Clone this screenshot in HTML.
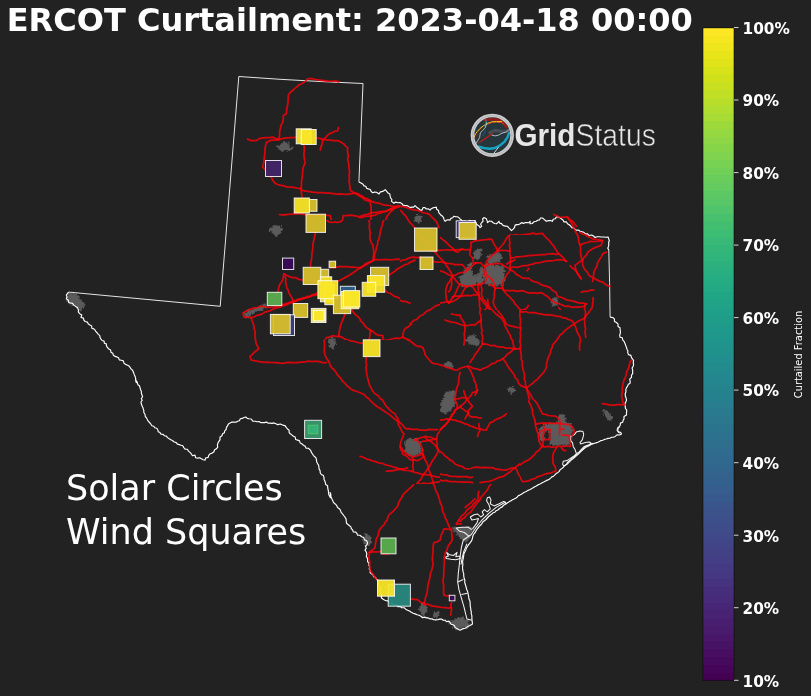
<!DOCTYPE html>
<html><head><meta charset="utf-8"><title>ERCOT Curtailment</title><style>html,body{margin:0;padding:0;background:#222222;}body{width:811px;height:696px;overflow:hidden}</style></head><body>
<svg width="811" height="696" viewBox="0 0 811 696" style="display:block">
<defs><linearGradient id="vir" x1="0" y1="1" x2="0" y2="0">
<stop offset="0%" stop-color="#440154"/>
<stop offset="10%" stop-color="#482475"/>
<stop offset="20%" stop-color="#414487"/>
<stop offset="30%" stop-color="#355f8d"/>
<stop offset="40%" stop-color="#2a788e"/>
<stop offset="50%" stop-color="#21918c"/>
<stop offset="60%" stop-color="#22a884"/>
<stop offset="70%" stop-color="#44bf70"/>
<stop offset="80%" stop-color="#7ad151"/>
<stop offset="90%" stop-color="#bddf26"/>
<stop offset="100%" stop-color="#fde725"/>
</linearGradient></defs>
<rect width="811" height="696" fill="#222222"/>
<g fill="#5b5b5b" stroke="none">
<path d="M289.1 146.9 L291.3 148.9 L289.1 150.3 L285.8 149.9 L283.4 150.5 L281.2 149.7 L278.9 148.7 L277.7 146.9 L280.9 145.7 L282.3 144.9 L283.1 142.3 L286.0 143.4 L289.1 143.4 L288.2 145.8Z"/>
<path d="M287.7 145.5h2.0v1.2h-2.0zM288.5 144.4h1.2v1.6h-1.2zM287.4 148.3h1.6v1.6h-1.6zM288.6 142.2h0.9v1.6h-0.9zM280.2 148.9h1.2v1.6h-1.2zM278.4 145.9h0.9v0.9h-0.9zM287.8 141.2h0.9v1.6h-0.9zM279.3 146.6h0.9v0.9h-0.9zM281.6 143.5h2.0v0.9h-2.0zM290.1 147.9h2.0v0.9h-2.0zM281.3 148.3h1.2v1.6h-1.2zM279.7 145.0h2.0v1.2h-2.0zM282.6 144.8h0.9v1.6h-0.9zM284.4 142.7h1.2v0.9h-1.2zM291.4 146.7h2.0v1.6h-2.0zM280.9 143.2h2.0v1.6h-2.0zM280.2 147.4h1.6v0.9h-1.6zM278.0 148.7h1.2v0.9h-1.2zM290.5 148.1h1.2v1.2h-1.2zM277.6 147.0h1.2v0.9h-1.2zM289.1 145.4h0.9v0.9h-0.9zM288.1 148.7h2.0v0.9h-2.0zM279.5 149.1h1.2v0.9h-1.2zM286.3 144.0h0.9v1.6h-0.9zM277.8 146.5h0.9v1.6h-0.9zM282.6 150.3h0.9v1.6h-0.9zM288.3 149.5h2.0v1.6h-2.0zM286.6 150.9h1.2v0.9h-1.2zM280.7 149.9h1.2v0.9h-1.2zM280.4 144.3h1.6v1.6h-1.6zM279.6 148.3h0.9v1.2h-0.9zM285.6 141.9h1.2v0.9h-1.2zM287.0 145.4h1.6v1.6h-1.6zM285.0 142.9h2.0v1.6h-2.0zM291.0 149.1h1.2v0.9h-1.2zM283.1 141.2h2.0v0.9h-2.0zM276.1 146.1h0.9v0.9h-0.9zM276.6 145.2h2.0v1.6h-2.0zM282.8 141.7h1.6v1.2h-1.6zM291.3 146.7h1.2v1.6h-1.2zM285.7 142.4h0.9v1.2h-0.9zM284.0 142.0h0.9v1.6h-0.9zM281.6 145.6h1.2v1.2h-1.2zM281.3 150.0h2.0v1.6h-2.0zM292.1 147.6h0.9v1.2h-0.9zM287.0 148.5h0.9v0.9h-0.9zM281.2 149.2h1.6v1.6h-1.6z"/>
<path d="M280.3 230.4 L280.9 232.2 L278.9 233.3 L277.0 234.7 L274.3 234.8 L273.2 232.6 L272.3 231.6 L268.7 230.4 L271.5 228.9 L272.8 227.8 L274.0 225.0 L276.9 226.4 L280.0 226.4 L280.7 228.6Z"/>
<path d="M277.5 233.2h0.9v1.2h-0.9zM279.0 225.7h0.9v1.2h-0.9zM279.6 231.9h0.9v1.6h-0.9zM269.3 228.4h0.9v1.2h-0.9zM279.2 229.5h2.0v1.6h-2.0zM273.3 233.2h2.0v1.2h-2.0zM270.8 228.6h2.0v1.2h-2.0zM281.7 229.8h0.9v0.9h-0.9zM276.3 225.3h1.6v1.6h-1.6zM278.8 225.6h1.2v1.2h-1.2zM273.8 231.7h2.0v1.6h-2.0zM279.7 229.3h2.0v1.6h-2.0zM278.4 232.5h1.6v0.9h-1.6zM269.9 229.1h2.0v1.2h-2.0zM269.1 228.6h2.0v1.6h-2.0zM278.0 232.9h1.2v1.6h-1.2zM279.1 229.4h1.6v1.2h-1.6zM271.6 231.7h2.0v1.6h-2.0zM270.5 227.4h2.0v0.9h-2.0zM269.6 228.3h2.0v1.2h-2.0zM279.2 229.5h1.6v1.2h-1.6zM272.3 227.7h1.2v0.9h-1.2zM281.0 225.3h0.9v1.6h-0.9zM280.1 231.9h1.6v0.9h-1.6zM273.2 233.6h0.9v0.9h-0.9zM278.7 232.7h1.6v1.2h-1.6zM276.7 225.9h2.0v1.2h-2.0zM268.8 230.4h1.2v1.6h-1.2zM268.9 230.2h1.2v0.9h-1.2zM278.0 225.9h2.0v1.6h-2.0zM281.0 228.3h2.0v0.9h-2.0zM270.7 228.0h1.6v1.6h-1.6zM274.6 224.7h1.2v0.9h-1.2zM275.0 234.6h1.6v1.6h-1.6zM277.7 233.2h0.9v1.6h-0.9zM280.9 227.9h0.9v1.2h-0.9zM275.4 235.1h2.0v1.6h-2.0zM275.4 234.0h2.0v0.9h-2.0zM271.6 231.9h1.2v0.9h-1.2zM281.1 228.5h1.6v1.2h-1.6zM276.1 234.4h1.6v1.6h-1.6zM272.3 227.8h0.9v0.9h-0.9zM278.2 232.5h1.6v1.6h-1.6zM271.3 228.0h1.6v0.9h-1.6zM279.5 228.6h2.0v0.9h-2.0zM273.2 225.8h0.9v1.2h-0.9zM280.1 229.9h0.9v1.6h-0.9zM272.4 225.5h1.2v1.6h-1.2zM278.1 233.2h0.9v1.2h-0.9zM274.4 234.3h0.9v0.9h-0.9z"/>
<path d="M245.5 314.6 L248.0 311.6 L253.8 309.1 L260.0 306.4 L264.5 305.1 L265.0 307.6 L261.5 309.6 L258.0 309.6 L253.8 312.1 L249.0 314.6 L247.0 317.1Z"/>
<path d="M244.6 314.1h1.6v1.2h-1.6zM248.8 314.6h2.0v1.6h-2.0zM258.5 308.1h1.6v1.6h-1.6zM256.4 309.3h1.6v1.2h-1.6zM259.8 309.4h1.2v1.6h-1.2zM255.4 307.8h1.2v1.6h-1.2zM250.0 312.3h2.0v1.2h-2.0zM248.8 312.4h1.6v1.2h-1.6zM256.4 307.9h2.0v1.6h-2.0zM251.6 312.9h1.6v1.6h-1.6zM252.2 311.5h2.0v1.2h-2.0zM245.5 316.9h1.2v1.6h-1.2zM263.3 306.5h2.0v1.2h-2.0zM261.0 306.0h0.9v1.2h-0.9zM247.8 312.3h0.9v1.6h-0.9zM245.5 315.5h0.9v1.6h-0.9zM258.7 306.7h0.9v1.2h-0.9zM244.8 314.5h0.9v0.9h-0.9zM254.3 308.8h0.9v1.2h-0.9zM265.4 304.3h0.9v1.2h-0.9zM248.9 314.2h0.9v0.9h-0.9zM260.0 307.9h1.6v1.2h-1.6zM256.2 309.5h0.9v1.2h-0.9zM257.7 308.3h1.2v0.9h-1.2zM245.5 314.5h1.2v1.6h-1.2zM245.9 316.0h1.6v1.2h-1.6zM264.1 305.9h1.2v1.6h-1.2zM245.5 313.4h2.0v1.6h-2.0zM263.6 305.1h1.2v0.9h-1.2zM257.4 309.5h1.6v1.2h-1.6zM245.9 315.4h0.9v1.2h-0.9zM260.2 309.1h0.9v0.9h-0.9zM245.0 314.0h2.0v1.2h-2.0zM263.3 306.5h1.2v1.6h-1.2zM260.1 309.0h2.0v1.6h-2.0zM249.1 315.4h1.6v0.9h-1.6zM249.0 314.4h1.6v1.2h-1.6zM246.8 311.4h1.2v1.6h-1.2zM247.6 312.1h2.0v0.9h-2.0zM247.2 315.4h1.6v1.6h-1.6zM248.1 310.5h1.6v1.2h-1.6zM255.7 310.9h1.6v0.9h-1.6zM248.6 309.7h1.2v1.6h-1.2zM246.4 309.8h2.0v1.2h-2.0zM261.2 309.3h2.0v1.6h-2.0zM253.9 309.8h2.0v1.6h-2.0zM264.3 306.2h2.0v1.6h-2.0zM246.6 315.6h0.9v0.9h-0.9zM262.6 307.1h0.9v0.9h-0.9zM244.5 313.7h1.6v1.2h-1.6zM263.2 304.2h1.2v1.6h-1.2zM261.7 304.4h2.0v0.9h-2.0zM262.5 307.4h1.2v1.2h-1.2zM262.7 305.2h1.2v1.2h-1.2zM254.7 310.1h1.2v1.2h-1.2zM252.4 312.1h2.0v1.6h-2.0zM246.6 315.0h0.9v1.6h-0.9zM262.0 306.3h2.0v1.6h-2.0zM243.6 312.6h2.0v1.6h-2.0zM259.8 306.6h2.0v0.9h-2.0zM248.1 309.3h1.6v1.6h-1.6zM246.3 315.3h0.9v1.6h-0.9zM245.3 316.3h2.0v1.6h-2.0zM263.5 303.6h2.0v1.6h-2.0zM245.3 314.0h1.6v1.2h-1.6zM261.9 307.4h1.6v0.9h-1.6zM259.0 308.1h1.2v0.9h-1.2zM257.5 307.2h1.2v0.9h-1.2zM264.6 305.5h2.0v1.6h-2.0zM256.1 308.7h1.2v1.2h-1.2zM249.4 313.9h1.6v1.2h-1.6zM262.1 307.0h2.0v1.6h-2.0zM250.6 310.6h1.2v1.6h-1.2zM248.2 316.6h1.2v1.6h-1.2zM264.5 305.4h2.0v1.2h-2.0zM261.7 305.8h1.2v1.2h-1.2zM252.9 311.1h2.0v1.6h-2.0zM263.5 304.9h1.2v1.2h-1.2zM263.1 304.5h1.2v0.9h-1.2zM259.7 305.2h1.6v1.2h-1.6zM246.3 313.3h2.0v1.6h-2.0zM246.1 314.5h0.9v1.2h-0.9zM264.9 307.3h1.6v1.2h-1.6zM257.3 309.1h2.0v0.9h-2.0zM244.9 314.1h2.0v0.9h-2.0zM251.9 311.4h1.6v1.2h-1.6zM244.3 314.8h2.0v0.9h-2.0zM257.7 306.7h1.6v1.2h-1.6zM249.6 310.7h0.9v1.2h-0.9zM261.0 307.4h1.2v0.9h-1.2zM259.4 309.7h0.9v1.2h-0.9zM244.8 314.1h0.9v1.2h-0.9zM256.2 309.3h0.9v1.6h-0.9zM252.6 312.8h2.0v0.9h-2.0zM257.6 309.3h2.0v1.6h-2.0zM254.8 307.9h1.2v0.9h-1.2z"/>
<path d="M335.4 342.7 L335.3 344.6 L334.4 346.2 L332.9 347.4 L331.2 346.9 L329.5 346.5 L330.1 343.7 L328.9 342.7 L328.3 340.5 L329.8 339.4 L331.1 338.0 L332.5 340.0 L333.9 339.8 L334.3 341.3Z"/>
<path d="M332.1 347.6h2.0v1.6h-2.0zM330.7 338.6h1.6v1.6h-1.6zM331.4 345.8h2.0v1.2h-2.0zM331.4 339.4h2.0v1.6h-2.0zM336.1 343.9h0.9v1.2h-0.9zM333.5 338.4h2.0v1.6h-2.0zM332.2 341.6h2.0v0.9h-2.0zM328.9 345.8h2.0v1.6h-2.0zM333.1 340.9h1.6v1.6h-1.6zM330.0 338.9h0.9v1.2h-0.9zM331.1 339.0h0.9v1.6h-0.9zM331.1 337.0h1.6v0.9h-1.6zM333.5 344.2h1.6v0.9h-1.6zM328.9 342.4h2.0v0.9h-2.0zM334.6 342.2h1.6v1.6h-1.6zM330.6 346.2h0.9v0.9h-0.9zM331.7 337.2h1.6v1.6h-1.6zM331.7 346.7h1.6v1.2h-1.6zM331.4 347.1h2.0v1.6h-2.0zM333.1 341.1h1.6v1.2h-1.6zM331.4 339.3h1.6v1.6h-1.6zM330.3 346.3h1.6v0.9h-1.6zM328.4 342.3h1.6v1.2h-1.6zM328.2 345.2h2.0v0.9h-2.0zM328.2 336.7h1.6v1.6h-1.6zM327.8 341.1h1.2v1.2h-1.2zM332.5 339.5h2.0v0.9h-2.0zM334.8 340.2h1.2v1.2h-1.2zM328.2 338.9h1.2v1.6h-1.2z"/>
<path d="M474.0 252.3 L477.1 250.1 L479.8 248.8 L480.5 253.5 L479.6 258.5 L476.5 259.7 L474.0 257.2Z"/>
<path d="M477.3 248.4h0.9v0.9h-0.9zM476.0 250.3h0.9v0.9h-0.9zM477.4 259.0h0.9v1.2h-0.9zM480.0 248.5h1.6v1.2h-1.6zM476.3 251.0h1.6v0.9h-1.6zM472.9 253.0h1.2v0.9h-1.2zM480.9 254.0h1.6v0.9h-1.6zM480.8 249.9h1.2v1.2h-1.2zM478.7 256.1h1.6v1.2h-1.6zM474.0 252.9h1.6v1.6h-1.6zM476.8 258.4h1.2v0.9h-1.2zM478.5 256.8h1.2v1.2h-1.2zM478.6 257.7h1.6v0.9h-1.6zM473.6 257.8h1.2v0.9h-1.2zM479.6 252.6h1.6v1.6h-1.6zM477.2 249.5h1.6v0.9h-1.6zM480.4 249.1h2.0v1.6h-2.0zM473.3 257.6h2.0v1.2h-2.0zM476.9 248.9h0.9v1.2h-0.9zM473.6 251.6h1.6v1.6h-1.6zM475.4 252.6h0.9v0.9h-0.9zM474.2 252.4h1.2v1.6h-1.2zM474.6 250.3h0.9v0.9h-0.9zM473.5 253.2h1.2v1.2h-1.2zM476.6 249.3h2.0v1.2h-2.0zM477.7 249.1h1.2v0.9h-1.2zM474.2 251.7h1.2v1.2h-1.2zM472.4 256.7h1.6v1.6h-1.6zM475.2 250.5h0.9v1.2h-0.9zM480.2 255.0h1.2v1.2h-1.2zM479.6 250.0h2.0v1.6h-2.0z"/>
<path d="M487.6 256.6 L491.9 255.4 L496.2 253.3 L500.6 254.5 L501.2 258.5 L498.1 261.6 L493.2 262.8 L488.8 262.8Z"/>
<path d="M499.0 258.3h0.9v1.2h-0.9zM500.3 256.4h2.0v0.9h-2.0zM490.1 262.2h1.2v1.2h-1.2zM500.7 258.0h0.9v0.9h-0.9zM489.7 261.6h1.2v0.9h-1.2zM498.9 255.9h1.2v0.9h-1.2zM500.9 257.3h1.6v1.2h-1.6zM499.8 254.4h0.9v1.6h-0.9zM496.5 261.7h1.6v0.9h-1.6zM488.1 259.6h0.9v1.6h-0.9zM494.5 262.2h1.6v1.2h-1.6zM488.7 254.5h1.2v0.9h-1.2zM501.0 257.1h1.6v1.6h-1.6zM499.0 261.1h1.6v1.2h-1.6zM489.2 255.6h1.6v0.9h-1.6zM495.8 261.0h1.6v1.2h-1.6zM498.0 252.8h1.6v1.2h-1.6zM499.3 254.3h2.0v0.9h-2.0zM499.7 257.5h2.0v0.9h-2.0zM490.1 253.9h1.6v0.9h-1.6zM499.1 253.9h2.0v0.9h-2.0zM498.2 254.6h1.6v0.9h-1.6zM486.3 256.2h2.0v1.2h-2.0zM494.9 262.5h1.2v0.9h-1.2zM488.1 262.1h2.0v1.2h-2.0zM495.6 254.3h1.6v0.9h-1.6zM493.2 260.5h1.6v1.6h-1.6zM497.6 262.7h1.6v1.2h-1.6zM499.0 253.5h1.6v1.2h-1.6zM499.4 258.3h1.6v1.2h-1.6zM498.3 258.5h1.6v0.9h-1.6zM487.9 256.1h1.2v0.9h-1.2zM491.2 262.5h2.0v0.9h-2.0zM489.5 261.5h1.6v1.6h-1.6zM486.9 255.4h1.2v0.9h-1.2zM499.2 253.9h1.2v0.9h-1.2zM492.1 256.4h2.0v0.9h-2.0zM488.2 256.3h0.9v1.6h-0.9zM499.7 254.9h2.0v1.2h-2.0zM488.6 261.1h0.9v1.6h-0.9zM499.4 258.0h1.6v1.2h-1.6zM497.7 252.2h1.6v1.2h-1.6zM495.6 253.6h1.2v0.9h-1.2zM493.0 254.0h0.9v1.2h-0.9zM497.4 252.4h2.0v1.2h-2.0zM498.6 256.2h2.0v0.9h-2.0zM498.3 260.8h0.9v1.2h-0.9zM499.0 260.1h0.9v1.6h-0.9zM487.9 261.0h2.0v0.9h-2.0zM487.4 260.9h0.9v0.9h-0.9zM489.0 262.5h1.6v1.2h-1.6zM488.8 257.9h0.9v0.9h-0.9zM496.0 252.7h1.6v1.6h-1.6zM488.1 256.6h1.2v0.9h-1.2z"/>
<path d="M459.8 278.3 L462.9 275.8 L464.7 272.1 L469.0 265.7 L471.5 264.0 L470.9 272.1 L470.3 275.8 L475.8 276.4 L480.2 273.9 L481.4 269.0 L482.6 267.4 L483.3 272.1 L482.0 277.0 L482.6 282.0 L479.6 284.4 L477.1 282.0 L474.6 283.8 L470.9 285.7 L467.8 284.4 L466.0 286.7 L462.2 284.4 L461.0 282.6Z"/>
<path d="M465.2 285.9h0.9v0.9h-0.9zM460.8 279.3h1.6v0.9h-1.6zM480.8 272.6h0.9v0.9h-0.9zM466.5 284.5h0.9v1.2h-0.9zM481.9 272.1h1.6v1.2h-1.6zM470.0 262.6h0.9v0.9h-0.9zM466.0 284.4h2.0v0.9h-2.0zM473.7 283.8h0.9v1.6h-0.9zM481.8 273.2h0.9v0.9h-0.9zM470.2 284.8h1.6v1.2h-1.6zM472.1 276.6h0.9v0.9h-0.9zM469.2 273.0h1.6v1.2h-1.6zM481.1 280.4h2.0v0.9h-2.0zM469.6 272.4h2.0v0.9h-2.0zM466.8 264.3h2.0v1.2h-2.0zM464.7 268.5h2.0v0.9h-2.0zM473.7 276.7h1.2v0.9h-1.2zM460.8 277.8h1.2v1.2h-1.2zM472.5 283.8h2.0v1.2h-2.0zM462.2 284.4h2.0v0.9h-2.0zM480.9 278.0h1.6v1.6h-1.6zM470.2 274.7h1.6v1.2h-1.6zM459.5 283.0h1.6v1.6h-1.6zM461.8 275.8h0.9v1.6h-0.9zM483.8 272.8h0.9v0.9h-0.9zM469.3 270.7h2.0v0.9h-2.0zM474.5 283.1h1.2v1.6h-1.2zM482.0 267.4h0.9v0.9h-0.9zM461.2 282.5h0.9v1.6h-0.9zM469.9 284.4h1.6v1.6h-1.6zM478.9 282.8h1.2v1.2h-1.2zM474.1 283.0h0.9v1.2h-0.9zM482.4 272.8h1.6v1.2h-1.6zM479.3 269.1h0.9v1.6h-0.9zM464.9 269.3h0.9v1.6h-0.9zM472.0 272.9h1.2v1.6h-1.2zM482.3 282.8h0.9v1.2h-0.9zM469.8 283.9h1.2v0.9h-1.2zM483.0 274.4h1.2v0.9h-1.2zM480.2 267.3h1.2v0.9h-1.2zM466.5 286.5h1.6v0.9h-1.6zM468.8 283.4h1.2v1.2h-1.2zM483.3 278.9h1.2v1.6h-1.2zM478.3 273.6h1.2v0.9h-1.2zM470.2 274.4h0.9v0.9h-0.9zM475.7 283.4h0.9v1.6h-0.9zM482.1 274.8h2.0v0.9h-2.0zM466.4 285.1h0.9v1.6h-0.9zM466.3 286.9h0.9v0.9h-0.9zM471.0 270.8h2.0v1.6h-2.0zM481.3 269.4h1.2v1.2h-1.2zM465.7 283.5h1.6v1.6h-1.6zM466.3 267.3h0.9v0.9h-0.9zM460.2 276.1h0.9v1.2h-0.9zM470.0 264.5h2.0v1.2h-2.0zM466.6 266.7h1.2v1.2h-1.2zM470.1 284.5h2.0v1.6h-2.0zM471.1 284.5h1.2v1.2h-1.2zM461.4 275.1h0.9v0.9h-0.9zM473.5 284.0h2.0v1.6h-2.0zM465.9 284.5h2.0v0.9h-2.0zM477.0 281.1h1.6v1.2h-1.6zM469.7 265.3h1.2v0.9h-1.2zM480.1 268.5h1.2v1.6h-1.2zM463.8 270.7h1.2v1.6h-1.2zM463.2 272.3h1.6v1.2h-1.6zM466.5 285.9h0.9v1.2h-0.9zM470.0 263.0h1.2v1.6h-1.2zM473.2 282.3h0.9v0.9h-0.9zM459.6 279.6h1.2v0.9h-1.2zM470.4 272.8h2.0v1.6h-2.0zM471.6 265.3h1.2v1.6h-1.2zM483.0 274.9h0.9v1.2h-0.9zM458.4 276.8h2.0v1.2h-2.0zM462.4 275.1h1.6v0.9h-1.6zM482.1 271.2h2.0v1.6h-2.0zM483.5 279.9h1.2v0.9h-1.2zM479.5 281.5h1.2v1.6h-1.2zM469.2 284.5h1.2v1.6h-1.2zM469.8 274.1h1.6v1.2h-1.6zM468.2 285.0h0.9v1.6h-0.9zM477.7 273.9h2.0v1.6h-2.0zM469.9 284.0h1.2v1.6h-1.2zM480.7 268.5h1.6v1.6h-1.6zM482.4 271.5h0.9v1.2h-0.9zM467.6 285.9h1.2v1.2h-1.2zM481.8 280.5h0.9v1.2h-0.9zM462.3 272.4h1.6v0.9h-1.6zM461.3 282.2h1.6v1.6h-1.6zM479.3 271.4h1.6v0.9h-1.6zM468.0 282.9h0.9v1.6h-0.9zM472.5 282.8h0.9v1.6h-0.9zM468.1 265.1h1.6v1.2h-1.6zM458.8 276.6h2.0v1.6h-2.0zM466.9 267.6h1.6v1.2h-1.6zM479.4 273.4h2.0v0.9h-2.0zM477.8 272.8h0.9v0.9h-0.9zM480.4 269.7h2.0v1.2h-2.0zM475.8 280.6h1.2v0.9h-1.2zM470.4 262.4h2.0v1.6h-2.0zM473.9 282.7h2.0v0.9h-2.0zM469.8 275.1h2.0v0.9h-2.0zM465.5 284.0h1.2v1.6h-1.2zM477.9 274.2h0.9v1.6h-0.9zM463.1 272.6h1.6v1.2h-1.6zM480.7 277.8h0.9v1.2h-0.9zM460.2 283.9h2.0v0.9h-2.0zM468.5 263.8h2.0v1.6h-2.0zM477.3 282.4h2.0v0.9h-2.0zM469.0 264.0h0.9v1.6h-0.9zM472.5 284.2h1.2v1.2h-1.2zM469.5 284.6h1.6v1.6h-1.6zM476.2 274.0h1.6v1.2h-1.6zM482.3 275.2h1.6v0.9h-1.6zM474.3 283.2h1.2v0.9h-1.2zM463.0 272.2h2.0v1.2h-2.0zM482.1 271.4h1.2v0.9h-1.2zM469.9 277.5h2.0v0.9h-2.0zM482.6 275.0h1.6v0.9h-1.6zM470.5 285.6h0.9v1.6h-0.9zM482.0 283.0h0.9v1.6h-0.9zM463.7 269.6h0.9v1.6h-0.9zM467.8 284.8h1.2v1.2h-1.2zM473.8 275.7h1.6v0.9h-1.6zM468.4 284.6h1.6v0.9h-1.6zM481.5 279.3h2.0v1.6h-2.0zM463.5 283.0h0.9v1.2h-0.9zM463.7 282.8h1.2v1.6h-1.2zM480.5 266.8h2.0v0.9h-2.0zM471.4 274.4h0.9v1.6h-0.9zM481.3 269.2h2.0v1.2h-2.0zM470.2 267.6h1.2v1.6h-1.2zM477.8 282.7h0.9v0.9h-0.9zM467.6 283.6h1.6v0.9h-1.6zM469.6 285.5h1.2v1.2h-1.2zM467.8 283.5h1.2v1.2h-1.2zM461.0 282.4h1.6v0.9h-1.6zM466.8 285.3h1.2v0.9h-1.2zM466.7 268.2h1.6v0.9h-1.6zM465.2 286.4h0.9v0.9h-0.9zM470.6 273.0h1.2v1.2h-1.2zM469.6 272.1h1.2v0.9h-1.2zM465.1 270.0h0.9v0.9h-0.9zM469.6 285.6h1.2v1.2h-1.2zM465.2 285.9h2.0v1.6h-2.0zM468.6 286.0h0.9v1.2h-0.9zM460.3 280.2h1.6v1.6h-1.6zM462.7 285.3h0.9v0.9h-0.9zM473.2 275.3h0.9v1.2h-0.9zM462.0 283.7h1.6v1.2h-1.6zM464.5 285.6h2.0v1.6h-2.0zM461.4 282.6h1.2v1.2h-1.2zM481.0 278.4h1.2v0.9h-1.2zM460.9 282.7h1.6v1.6h-1.6zM466.5 284.3h1.6v0.9h-1.6zM460.6 281.3h1.6v1.2h-1.6zM482.2 278.3h1.6v0.9h-1.6zM470.3 263.7h1.2v1.2h-1.2zM472.6 284.7h0.9v0.9h-0.9zM469.9 264.9h0.9v1.2h-0.9zM462.9 274.9h1.2v0.9h-1.2zM477.6 273.1h0.9v1.6h-0.9zM480.8 270.7h1.6v1.6h-1.6zM461.0 280.7h1.2v1.6h-1.2zM480.3 281.5h1.6v1.6h-1.6zM474.0 281.5h0.9v1.6h-0.9zM481.8 267.7h1.2v1.6h-1.2zM460.9 275.5h1.2v1.2h-1.2zM460.6 284.3h1.2v1.2h-1.2zM468.9 264.8h1.2v0.9h-1.2zM479.3 282.9h0.9v1.6h-0.9zM461.5 276.6h0.9v0.9h-0.9zM479.5 272.3h1.6v1.6h-1.6zM467.0 284.8h0.9v0.9h-0.9zM477.3 283.4h2.0v1.2h-2.0zM471.3 268.1h0.9v0.9h-0.9zM481.8 272.1h1.2v1.2h-1.2zM473.7 276.7h1.2v1.6h-1.2zM471.6 265.5h1.2v1.2h-1.2zM460.4 283.0h0.9v1.6h-0.9zM469.8 264.5h2.0v1.2h-2.0zM475.7 275.7h1.2v0.9h-1.2zM479.1 284.1h1.2v0.9h-1.2zM472.1 275.3h0.9v1.6h-0.9zM470.0 284.3h1.6v0.9h-1.6zM470.7 264.0h1.2v1.6h-1.2zM469.7 272.8h2.0v1.2h-2.0zM478.4 273.9h0.9v0.9h-0.9zM481.8 281.5h0.9v0.9h-0.9zM483.5 271.3h0.9v1.2h-0.9zM469.2 284.1h1.2v0.9h-1.2zM475.5 275.4h1.6v1.6h-1.6zM479.5 282.4h1.6v0.9h-1.6zM480.0 271.7h1.2v1.6h-1.2zM483.5 268.8h0.9v1.6h-0.9zM482.6 279.3h1.6v0.9h-1.6zM480.3 272.2h1.6v0.9h-1.6zM478.8 282.5h1.6v0.9h-1.6zM478.4 274.8h2.0v0.9h-2.0zM477.5 283.1h1.2v0.9h-1.2zM470.5 285.7h2.0v1.6h-2.0zM468.0 275.5h1.6v0.9h-1.6zM462.3 284.0h0.9v0.9h-0.9zM462.1 276.0h1.2v0.9h-1.2zM461.3 285.3h2.0v1.6h-2.0zM481.3 269.7h0.9v1.6h-0.9zM474.0 274.5h2.0v1.2h-2.0zM480.3 271.0h1.2v0.9h-1.2zM462.4 285.1h2.0v1.6h-2.0zM464.3 271.7h1.2v1.2h-1.2zM475.2 276.3h1.2v1.2h-1.2zM465.1 285.6h0.9v1.2h-0.9zM479.2 281.0h1.2v1.2h-1.2zM475.6 283.7h0.9v1.6h-0.9zM480.8 275.2h1.2v1.6h-1.2z"/>
<path d="M485.7 264.7 L491.9 264.0 L495.0 267.4 L498.1 265.3 L501.8 267.8 L504.3 270.8 L502.8 273.3 L503.3 276.4 L504.3 280.7 L501.8 282.6 L499.3 284.4 L494.4 285.1 L492.5 282.6 L489.4 284.4 L485.7 282.0 L487.0 278.3 L483.9 277.0 L485.1 270.8Z"/>
<path d="M494.0 284.6h0.9v1.2h-0.9zM493.8 267.0h2.0v0.9h-2.0zM501.6 277.0h0.9v0.9h-0.9zM491.5 266.5h0.9v1.6h-0.9zM502.0 268.2h1.6v1.6h-1.6zM503.2 270.1h0.9v1.6h-0.9zM495.1 265.0h2.0v1.2h-2.0zM485.2 279.2h1.2v1.6h-1.2zM502.3 276.9h1.6v1.6h-1.6zM485.5 280.4h2.0v0.9h-2.0zM497.9 283.8h0.9v1.6h-0.9zM496.1 285.0h2.0v0.9h-2.0zM496.3 264.8h0.9v1.6h-0.9zM500.9 282.9h1.6v1.6h-1.6zM487.9 285.3h1.6v0.9h-1.6zM499.5 266.6h1.2v1.2h-1.2zM488.2 283.5h2.0v1.6h-2.0zM502.0 280.1h1.6v1.6h-1.6zM484.9 280.8h1.2v0.9h-1.2zM494.6 266.8h2.0v1.6h-2.0zM503.9 270.7h1.6v1.6h-1.6zM493.8 283.5h0.9v1.2h-0.9zM484.1 268.2h2.0v0.9h-2.0zM502.1 273.2h1.6v1.6h-1.6zM490.5 263.2h1.6v1.6h-1.6zM485.6 264.8h1.6v1.2h-1.6zM493.2 283.9h2.0v1.2h-2.0zM486.0 278.3h1.6v1.2h-1.6zM503.3 273.6h1.6v0.9h-1.6zM485.3 263.7h0.9v1.6h-0.9zM503.0 280.5h1.2v1.6h-1.2zM484.7 266.1h1.2v0.9h-1.2zM489.6 284.1h1.6v1.6h-1.6zM491.5 262.4h1.2v1.6h-1.2zM495.0 282.6h1.6v0.9h-1.6zM501.7 276.2h2.0v1.6h-2.0zM487.4 262.4h0.9v1.6h-0.9zM500.7 265.8h2.0v0.9h-2.0zM484.8 283.1h2.0v1.2h-2.0zM490.0 283.8h1.2v0.9h-1.2zM501.1 269.0h2.0v1.6h-2.0zM493.5 283.8h0.9v1.6h-0.9zM503.3 267.6h1.2v0.9h-1.2zM501.6 280.5h1.6v1.2h-1.6zM485.8 268.9h1.6v1.2h-1.6zM484.6 273.2h1.2v1.6h-1.2zM483.0 276.6h0.9v0.9h-0.9zM503.3 270.3h0.9v1.2h-0.9zM482.7 273.4h0.9v0.9h-0.9zM502.6 272.8h0.9v0.9h-0.9zM486.6 279.8h1.2v1.6h-1.2zM501.7 280.6h1.2v1.6h-1.2zM484.9 270.8h1.2v1.2h-1.2zM501.7 268.9h1.2v1.2h-1.2zM494.9 266.5h1.2v1.6h-1.2zM495.1 282.5h1.2v1.6h-1.2zM496.6 266.0h1.2v0.9h-1.2zM484.3 281.9h1.6v1.2h-1.6zM497.2 265.2h2.0v1.6h-2.0zM487.0 263.9h0.9v0.9h-0.9zM504.3 280.5h0.9v0.9h-0.9zM502.3 280.1h1.6v1.2h-1.6zM501.4 268.9h1.6v0.9h-1.6zM503.4 279.5h0.9v1.2h-0.9zM489.2 263.5h1.2v0.9h-1.2zM500.4 281.9h2.0v1.2h-2.0zM500.8 265.5h1.2v1.2h-1.2zM492.9 263.6h1.2v1.2h-1.2zM486.2 280.2h0.9v1.2h-0.9zM491.3 262.3h1.2v1.6h-1.2zM484.1 277.5h2.0v1.6h-2.0zM486.1 275.4h1.6v1.6h-1.6zM501.8 277.0h1.2v1.2h-1.2zM491.8 281.9h1.6v1.2h-1.6zM503.0 269.5h1.6v1.6h-1.6zM503.7 278.9h1.6v1.2h-1.6zM488.6 263.5h1.6v0.9h-1.6zM494.2 267.4h0.9v1.2h-0.9zM491.5 283.1h1.2v1.6h-1.2zM486.0 263.6h0.9v1.2h-0.9zM486.8 263.4h1.2v1.6h-1.2zM489.2 282.3h1.6v1.6h-1.6zM501.8 265.6h2.0v1.6h-2.0zM482.7 275.2h0.9v1.6h-0.9zM504.0 276.5h0.9v1.2h-0.9zM485.0 278.5h1.2v1.2h-1.2zM504.2 278.7h0.9v1.6h-0.9zM483.5 275.4h0.9v1.2h-0.9zM503.4 280.2h2.0v1.2h-2.0zM492.4 281.6h0.9v1.6h-0.9zM502.4 273.2h1.6v1.6h-1.6zM502.0 267.2h0.9v1.6h-0.9zM501.9 275.7h2.0v1.2h-2.0zM486.9 278.6h1.6v0.9h-1.6zM484.5 278.0h2.0v1.2h-2.0zM492.0 282.3h0.9v0.9h-0.9zM482.7 275.8h1.6v0.9h-1.6zM494.2 283.5h0.9v0.9h-0.9zM490.7 262.7h1.2v1.2h-1.2zM493.4 284.0h1.6v1.2h-1.6zM492.5 281.6h1.6v1.2h-1.6zM492.6 285.3h0.9v1.2h-0.9zM486.6 281.3h0.9v1.6h-0.9zM500.5 284.7h2.0v1.6h-2.0zM496.5 285.2h0.9v1.6h-0.9zM490.2 283.5h0.9v0.9h-0.9zM487.0 281.6h1.6v1.2h-1.6zM493.3 266.3h2.0v1.2h-2.0zM500.1 280.4h1.6v1.2h-1.6zM502.2 276.6h1.2v1.6h-1.2zM502.1 270.4h1.2v1.2h-1.2zM493.4 284.7h1.2v0.9h-1.2zM494.1 266.2h1.6v1.2h-1.6zM502.2 274.4h2.0v1.6h-2.0zM483.0 276.5h2.0v1.2h-2.0zM492.4 284.3h1.2v0.9h-1.2zM500.2 282.6h2.0v1.2h-2.0zM484.3 264.4h2.0v1.6h-2.0zM484.6 278.8h2.0v1.2h-2.0zM503.7 279.5h0.9v1.6h-0.9zM485.2 281.2h1.2v0.9h-1.2zM493.0 265.8h1.6v1.6h-1.6zM486.5 282.3h1.2v1.2h-1.2zM502.8 280.5h1.6v1.2h-1.6zM499.9 280.4h2.0v1.6h-2.0zM503.8 278.5h1.6v0.9h-1.6zM487.4 263.2h0.9v1.2h-0.9zM504.0 278.2h0.9v1.6h-0.9zM494.8 284.9h0.9v1.2h-0.9zM482.8 276.2h1.2v0.9h-1.2zM485.1 279.7h2.0v1.6h-2.0zM500.7 272.4h0.9v1.6h-0.9zM503.6 270.1h1.2v1.2h-1.2zM493.7 266.4h1.6v1.6h-1.6zM501.8 266.7h1.2v1.6h-1.2zM485.0 272.0h2.0v1.2h-2.0zM496.9 284.3h0.9v1.2h-0.9zM486.8 282.9h1.2v1.2h-1.2zM492.0 284.1h0.9v0.9h-0.9zM484.7 277.2h1.6v1.2h-1.6zM484.6 278.6h2.0v0.9h-2.0zM493.3 282.9h1.6v0.9h-1.6zM497.0 265.4h0.9v1.2h-0.9zM493.9 285.8h0.9v0.9h-0.9zM502.2 275.4h2.0v1.2h-2.0zM486.6 282.3h0.9v1.6h-0.9zM499.1 282.4h1.6v1.2h-1.6zM485.6 279.7h1.2v1.2h-1.2zM503.3 271.1h1.6v0.9h-1.6zM486.3 281.8h0.9v0.9h-0.9zM501.2 265.7h1.2v0.9h-1.2zM501.5 267.6h0.9v1.2h-0.9zM500.2 283.3h1.6v0.9h-1.6zM485.5 280.9h1.2v1.2h-1.2zM496.6 265.7h1.2v1.6h-1.2zM499.9 266.4h2.0v0.9h-2.0zM487.1 278.3h0.9v0.9h-0.9zM502.9 274.1h0.9v1.2h-0.9zM483.9 271.4h0.9v0.9h-0.9zM493.1 284.2h1.2v1.2h-1.2zM493.0 265.0h0.9v1.2h-0.9zM486.6 283.0h1.2v0.9h-1.2zM484.6 276.9h2.0v1.6h-2.0zM483.1 268.8h2.0v1.6h-2.0zM502.7 281.6h0.9v1.2h-0.9zM494.2 283.4h1.6v1.6h-1.6zM500.4 275.1h2.0v0.9h-2.0zM489.1 284.1h1.6v1.2h-1.6zM503.5 270.9h2.0v0.9h-2.0zM492.8 283.1h1.2v1.6h-1.2zM503.0 273.1h1.2v1.2h-1.2zM504.8 270.4h1.6v0.9h-1.6zM491.4 280.8h1.2v1.6h-1.2zM502.5 278.3h2.0v0.9h-2.0z"/>
<path d="M421.2 218.8 L420.7 220.3 L419.6 221.0 L419.0 223.4 L417.7 221.2 L416.2 221.8 L414.5 220.9 L415.9 218.8 L415.2 217.1 L416.0 215.7 L417.7 216.4 L418.8 215.5 L420.4 215.5 L420.9 217.3Z"/>
<path d="M417.7 222.5h0.9v0.9h-0.9zM419.6 221.0h0.9v1.2h-0.9zM414.1 217.6h2.0v0.9h-2.0zM415.4 217.9h2.0v1.2h-2.0zM414.9 218.5h0.9v1.2h-0.9zM417.0 215.6h1.2v1.6h-1.2zM418.5 218.5h1.2v1.6h-1.2zM420.7 220.2h1.2v1.6h-1.2zM415.1 216.6h1.6v1.2h-1.6zM417.9 220.0h1.6v1.6h-1.6zM414.5 219.6h1.2v1.2h-1.2zM418.5 222.4h1.2v1.2h-1.2zM417.2 221.4h0.9v1.2h-0.9zM417.4 219.2h1.2v1.6h-1.2zM415.7 219.6h0.9v0.9h-0.9zM420.5 216.1h2.0v1.2h-2.0zM419.4 217.0h2.0v1.6h-2.0zM415.5 217.8h0.9v0.9h-0.9zM419.5 219.0h1.2v1.6h-1.2zM415.3 217.2h0.9v0.9h-0.9zM413.6 220.3h1.6v1.2h-1.6zM416.0 220.5h0.9v1.6h-0.9zM419.9 220.8h0.9v0.9h-0.9zM415.9 214.1h2.0v0.9h-2.0z"/>
<path d="M557.8 301.7 L557.3 303.1 L556.8 304.6 L555.4 304.4 L554.2 305.9 L552.8 305.1 L552.2 303.4 L552.8 301.7 L552.4 300.1 L553.4 299.3 L554.4 298.9 L555.8 297.2 L557.3 298.0 L556.6 300.7Z"/>
<path d="M552.1 300.7h0.9v1.2h-0.9zM551.9 298.5h0.9v1.6h-0.9zM553.2 302.0h2.0v0.9h-2.0zM556.7 304.3h0.9v1.6h-0.9zM553.5 300.1h1.2v1.6h-1.2zM553.4 305.2h1.6v0.9h-1.6zM552.1 301.8h0.9v1.2h-0.9zM557.0 302.0h1.2v1.2h-1.2zM557.5 297.8h0.9v1.6h-0.9zM553.9 305.4h0.9v0.9h-0.9zM551.7 298.7h1.2v1.2h-1.2zM556.3 303.0h1.2v0.9h-1.2zM554.2 298.3h1.2v1.6h-1.2zM552.0 304.7h2.0v0.9h-2.0zM556.2 304.1h0.9v1.2h-0.9zM555.1 303.5h2.0v0.9h-2.0zM552.9 299.1h0.9v1.2h-0.9zM556.1 303.1h0.9v1.2h-0.9zM553.5 297.6h2.0v1.6h-2.0zM555.8 299.7h0.9v1.2h-0.9zM554.7 297.5h1.6v1.6h-1.6zM551.6 305.6h1.6v0.9h-1.6z"/>
<path d="M557.0 302.0 L556.9 303.4 L556.6 305.2 L555.3 305.0 L554.3 305.1 L553.3 304.6 L553.2 303.1 L552.5 302.0 L552.6 300.5 L553.1 299.1 L554.4 299.8 L555.2 299.4 L555.8 300.3 L557.3 300.4Z"/>
<path d="M552.0 298.5h2.0v1.2h-2.0zM556.2 300.0h2.0v1.2h-2.0zM558.9 302.5h0.9v1.2h-0.9zM555.9 300.6h1.6v1.2h-1.6zM554.9 304.1h1.2v1.2h-1.2zM552.5 298.4h1.2v1.2h-1.2zM552.3 299.0h2.0v1.2h-2.0zM550.6 300.7h1.2v0.9h-1.2zM553.2 302.1h0.9v1.6h-0.9zM555.2 301.3h1.2v0.9h-1.2zM554.2 300.5h1.2v1.2h-1.2zM550.8 301.6h1.2v1.6h-1.2zM552.7 300.1h1.2v1.6h-1.2zM554.6 299.2h1.6v1.2h-1.6z"/>
<path d="M478.7 340.7 L478.8 342.8 L477.1 344.5 L474.1 343.9 L472.3 343.5 L470.0 343.8 L468.9 342.3 L466.3 340.7 L467.4 338.5 L469.4 337.0 L471.9 336.2 L474.6 335.9 L475.8 338.1 L478.0 338.8Z"/>
<path d="M467.1 336.9h2.0v1.6h-2.0zM478.2 340.3h1.2v0.9h-1.2zM467.4 340.0h0.9v1.6h-0.9zM465.2 339.0h1.2v1.6h-1.2zM478.4 341.7h1.2v1.6h-1.2zM477.7 342.5h1.2v1.6h-1.2zM470.8 342.8h2.0v1.6h-2.0zM469.2 342.2h0.9v1.6h-0.9zM471.2 343.4h0.9v1.6h-0.9zM476.1 338.1h0.9v0.9h-0.9zM478.5 341.3h0.9v1.2h-0.9zM465.5 340.1h1.2v1.6h-1.2zM470.5 343.3h2.0v0.9h-2.0zM475.6 344.1h2.0v0.9h-2.0zM472.3 335.6h1.2v1.2h-1.2zM470.5 337.0h0.9v1.2h-0.9zM478.5 339.5h0.9v0.9h-0.9zM476.2 342.9h0.9v0.9h-0.9zM475.6 345.1h1.6v1.2h-1.6zM469.0 342.3h1.2v0.9h-1.2zM469.0 335.6h2.0v1.6h-2.0zM474.1 343.6h1.2v1.6h-1.2zM472.8 343.7h1.2v1.6h-1.2zM465.5 339.9h0.9v0.9h-0.9zM477.7 342.5h2.0v1.2h-2.0zM465.6 339.8h1.2v1.6h-1.2zM477.0 342.5h0.9v1.2h-0.9zM471.7 343.0h1.6v1.2h-1.6zM466.6 339.9h1.2v0.9h-1.2zM468.5 343.0h1.2v1.6h-1.2zM477.2 342.3h1.6v0.9h-1.6zM478.2 341.5h1.6v1.2h-1.6zM474.6 343.5h0.9v1.6h-0.9zM475.1 335.3h1.6v0.9h-1.6zM474.1 336.2h0.9v1.2h-0.9zM468.6 335.5h0.9v1.6h-0.9zM476.0 340.2h2.0v1.6h-2.0zM468.4 341.5h2.0v1.2h-2.0zM476.6 338.9h1.6v1.6h-1.6zM477.1 344.0h2.0v1.6h-2.0zM473.5 335.6h1.6v0.9h-1.6zM471.4 335.1h1.6v1.6h-1.6zM466.1 340.0h1.6v0.9h-1.6zM473.0 333.8h1.2v1.2h-1.2zM471.9 343.4h2.0v1.2h-2.0z"/>
<path d="M451.9 364.4 L452.6 366.0 L451.4 367.2 L449.8 368.2 L448.1 366.8 L446.9 366.4 L446.2 365.5 L445.7 364.4 L444.8 362.9 L447.0 362.6 L447.9 361.3 L449.4 362.0 L450.8 362.3 L452.0 363.2Z"/>
<path d="M443.8 363.4h2.0v0.9h-2.0zM445.4 364.5h1.2v1.6h-1.2zM452.3 365.5h1.2v1.2h-1.2zM449.0 367.1h1.6v1.6h-1.6zM446.8 365.1h1.2v0.9h-1.2zM445.8 364.2h1.2v1.6h-1.2zM443.8 364.0h0.9v1.6h-0.9zM450.5 367.7h2.0v1.2h-2.0zM448.0 361.6h1.2v1.6h-1.2zM446.1 367.2h1.6v0.9h-1.6zM446.6 367.0h1.2v0.9h-1.2zM444.3 364.2h1.2v1.6h-1.2zM445.9 366.0h1.2v0.9h-1.2zM451.6 366.2h1.6v1.6h-1.6zM447.4 361.2h1.6v1.2h-1.6zM445.6 362.9h1.2v1.2h-1.2zM445.7 363.4h0.9v1.2h-0.9zM451.9 363.8h0.9v0.9h-0.9zM445.9 362.8h1.2v0.9h-1.2zM445.5 364.6h0.9v0.9h-0.9zM449.5 362.1h1.6v1.6h-1.6zM444.8 363.0h0.9v1.2h-0.9zM444.4 364.6h1.2v1.6h-1.2zM447.1 366.2h0.9v0.9h-0.9z"/>
<path d="M449.3 392.4 L454.3 390.5 L454.9 393.6 L453.0 397.3 L454.3 402.2 L451.8 407.8 L448.1 411.5 L444.4 412.4 L440.7 410.3 L442.5 406.0 L441.9 402.2 L444.4 397.3 L446.2 393.6Z"/>
<path d="M454.2 402.3h1.2v1.6h-1.2zM454.0 399.3h1.2v0.9h-1.2zM453.8 392.4h2.0v0.9h-2.0zM443.5 398.8h1.2v0.9h-1.2zM448.3 390.7h2.0v0.9h-2.0zM447.6 392.2h2.0v1.6h-2.0zM447.0 409.4h1.6v1.6h-1.6zM447.5 393.1h1.2v1.2h-1.2zM442.5 397.7h1.2v1.6h-1.2zM448.8 408.6h2.0v0.9h-2.0zM441.7 403.9h1.2v1.6h-1.2zM449.3 408.2h2.0v1.2h-2.0zM452.5 390.3h1.2v1.2h-1.2zM446.8 392.1h2.0v1.6h-2.0zM451.5 405.9h1.6v1.6h-1.6zM446.0 393.3h1.2v1.6h-1.2zM442.4 410.6h0.9v1.2h-0.9zM441.1 403.0h1.2v1.6h-1.2zM440.5 409.5h0.9v1.2h-0.9zM448.2 409.7h1.6v0.9h-1.6zM446.4 412.3h0.9v1.2h-0.9zM440.6 408.2h1.6v0.9h-1.6zM440.3 410.1h1.2v1.6h-1.2zM453.7 398.2h1.2v1.6h-1.2zM453.0 392.5h1.6v1.2h-1.6zM441.5 403.6h2.0v0.9h-2.0zM443.1 400.3h0.9v0.9h-0.9zM446.6 392.5h1.6v0.9h-1.6zM441.1 410.3h1.6v1.6h-1.6zM443.9 412.1h1.6v0.9h-1.6zM452.1 398.0h1.6v0.9h-1.6zM452.0 391.8h2.0v0.9h-2.0zM450.0 410.4h1.6v0.9h-1.6zM442.8 405.7h1.2v0.9h-1.2zM440.9 410.2h1.2v0.9h-1.2zM444.1 395.5h2.0v0.9h-2.0zM442.8 404.4h0.9v0.9h-0.9zM440.0 404.5h2.0v1.2h-2.0zM452.6 397.0h0.9v0.9h-0.9zM454.1 396.5h0.9v1.2h-0.9zM448.6 394.3h1.6v0.9h-1.6zM452.7 390.6h2.0v1.2h-2.0zM452.9 395.7h0.9v1.6h-0.9zM453.2 405.7h1.6v1.2h-1.6zM452.3 395.9h1.6v0.9h-1.6zM442.1 410.1h2.0v1.6h-2.0zM442.0 410.2h2.0v1.6h-2.0zM454.6 393.5h0.9v1.2h-0.9zM441.5 403.1h2.0v0.9h-2.0zM440.4 409.1h1.2v1.6h-1.2zM451.2 391.0h1.2v1.2h-1.2zM451.9 391.4h0.9v1.6h-0.9zM441.6 409.1h0.9v1.6h-0.9zM445.9 394.1h0.9v0.9h-0.9zM449.2 409.8h1.2v1.6h-1.2zM447.8 408.8h1.6v1.6h-1.6zM454.2 393.6h1.2v1.6h-1.2zM444.6 393.0h2.0v1.6h-2.0zM440.5 402.9h2.0v1.6h-2.0zM451.8 402.0h1.6v1.2h-1.6zM441.2 405.0h0.9v1.6h-0.9zM440.8 411.3h0.9v0.9h-0.9zM453.4 403.2h1.6v1.6h-1.6zM453.0 398.6h0.9v1.6h-0.9zM455.1 391.7h1.2v1.2h-1.2zM452.9 397.3h0.9v0.9h-0.9zM445.9 410.4h2.0v1.6h-2.0zM454.6 392.0h0.9v1.2h-0.9zM442.5 404.1h1.2v0.9h-1.2zM444.8 394.5h1.6v1.2h-1.6zM445.6 391.5h1.6v1.6h-1.6zM444.5 395.8h0.9v0.9h-0.9zM446.4 392.3h1.6v0.9h-1.6zM453.4 391.4h2.0v0.9h-2.0zM443.3 395.3h0.9v0.9h-0.9zM445.5 393.6h1.6v1.2h-1.6zM450.8 391.2h1.2v0.9h-1.2zM450.6 407.7h1.6v1.2h-1.6zM446.9 392.8h1.2v1.6h-1.2zM454.1 395.0h2.0v0.9h-2.0zM442.0 411.5h2.0v0.9h-2.0zM443.9 412.5h1.6v0.9h-1.6zM441.7 410.4h0.9v1.2h-0.9zM443.6 410.6h2.0v1.6h-2.0zM451.7 396.1h1.2v0.9h-1.2zM453.9 401.8h2.0v0.9h-2.0zM446.7 391.7h1.2v1.2h-1.2zM445.9 391.9h2.0v1.2h-2.0zM452.9 399.8h2.0v0.9h-2.0zM449.5 391.8h2.0v1.2h-2.0zM440.3 408.8h2.0v1.6h-2.0zM443.5 399.2h0.9v0.9h-0.9zM445.0 393.4h0.9v0.9h-0.9zM444.0 411.5h2.0v0.9h-2.0zM444.4 412.7h2.0v1.6h-2.0zM454.5 392.5h0.9v0.9h-0.9zM442.3 405.7h1.2v1.6h-1.2zM443.9 411.6h0.9v0.9h-0.9zM444.0 395.1h1.2v1.6h-1.2zM451.6 390.6h2.0v1.6h-2.0zM449.4 392.8h1.2v0.9h-1.2zM454.5 398.9h0.9v1.6h-0.9zM444.5 394.5h2.0v0.9h-2.0zM445.5 393.0h0.9v1.2h-0.9zM442.0 410.1h1.6v0.9h-1.6zM446.4 393.4h0.9v1.6h-0.9zM448.6 392.5h2.0v0.9h-2.0zM444.5 395.3h1.6v1.2h-1.6zM449.2 391.5h1.6v0.9h-1.6zM441.4 399.9h2.0v1.6h-2.0zM442.8 410.4h0.9v1.6h-0.9zM449.1 409.2h2.0v1.2h-2.0zM454.5 391.8h1.2v0.9h-1.2zM444.7 411.0h2.0v0.9h-2.0zM442.5 411.2h0.9v0.9h-0.9zM452.7 404.3h0.9v1.2h-0.9zM439.9 408.8h0.9v1.6h-0.9zM440.8 403.6h2.0v0.9h-2.0zM440.6 402.2h2.0v0.9h-2.0zM447.3 411.1h1.2v0.9h-1.2zM447.2 391.9h1.6v1.6h-1.6zM441.7 407.9h1.2v0.9h-1.2zM451.3 398.9h2.0v1.6h-2.0zM443.6 400.5h1.6v0.9h-1.6zM441.1 406.9h2.0v1.2h-2.0zM452.7 404.4h1.6v1.6h-1.6zM454.9 402.3h0.9v0.9h-0.9z"/>
<path d="M516.1 390.1 L513.8 390.8 L514.2 392.4 L512.5 392.0 L511.0 393.4 L510.7 391.4 L508.4 391.5 L508.4 390.1 L508.4 388.7 L509.3 387.5 L511.4 388.1 L512.6 387.9 L514.2 387.9 L514.4 389.2Z"/>
<path d="M513.5 390.2h1.2v1.2h-1.2zM512.1 386.1h1.6v1.2h-1.6zM510.3 388.6h1.6v0.9h-1.6zM514.9 390.0h1.2v0.9h-1.2zM508.6 387.6h0.9v0.9h-0.9zM509.5 387.3h2.0v1.2h-2.0zM509.9 387.7h0.9v1.6h-0.9zM508.6 388.3h2.0v1.6h-2.0zM510.3 387.4h1.6v1.6h-1.6zM510.3 392.4h1.6v0.9h-1.6zM514.3 390.3h0.9v1.2h-0.9zM508.0 388.9h1.6v1.2h-1.6zM507.1 388.7h2.0v1.2h-2.0zM510.5 391.4h1.2v1.2h-1.2zM510.6 387.9h2.0v1.2h-2.0zM512.8 388.9h1.6v1.2h-1.6zM511.0 392.1h1.6v0.9h-1.6zM508.0 390.7h0.9v1.6h-0.9zM508.6 387.6h1.6v0.9h-1.6zM513.1 389.9h1.6v1.6h-1.6zM510.5 393.6h1.6v1.2h-1.6z"/>
<path d="M539.8 430.9 L543.5 426.6 L550.9 424.1 L558.3 422.9 L560.8 419.8 L559.6 416.1 L563.3 415.5 L564.5 419.8 L562.6 423.5 L569.4 424.7 L571.9 429.7 L569.4 434.6 L570.7 440.8 L567.0 444.5 L560.8 443.3 L555.8 444.5 L550.9 442.6 L550.3 429.7 L544.1 429.7 L543.5 439.6 L541.0 439.6Z"/>
<path d="M562.6 414.6h1.2v0.9h-1.2zM548.5 422.5h1.6v0.9h-1.6zM558.2 420.6h1.6v1.2h-1.6zM562.2 423.5h1.6v0.9h-1.6zM570.2 428.7h2.0v1.2h-2.0zM554.0 443.3h1.6v1.6h-1.6zM540.3 433.6h0.9v1.2h-0.9zM539.0 429.2h0.9v1.2h-0.9zM550.4 435.4h0.9v1.2h-0.9zM543.0 424.0h1.6v1.2h-1.6zM549.4 438.9h0.9v0.9h-0.9zM569.5 425.0h2.0v1.2h-2.0zM556.2 442.1h1.6v1.2h-1.6zM559.1 418.6h1.6v1.6h-1.6zM553.9 423.7h1.6v0.9h-1.6zM553.3 442.2h0.9v1.2h-0.9zM552.8 422.9h2.0v1.6h-2.0zM566.0 423.5h2.0v1.2h-2.0zM569.1 434.1h2.0v1.2h-2.0zM544.7 427.6h2.0v0.9h-2.0zM569.5 437.9h1.6v0.9h-1.6zM549.3 443.6h1.6v1.2h-1.6zM571.1 429.7h0.9v0.9h-0.9zM538.9 431.1h2.0v1.2h-2.0zM559.0 418.5h2.0v1.6h-2.0zM558.7 420.8h1.2v1.6h-1.2zM539.9 435.4h1.6v1.2h-1.6zM568.5 440.5h0.9v1.6h-0.9zM557.7 442.3h1.6v1.2h-1.6zM539.8 438.3h1.6v1.2h-1.6zM558.5 416.6h2.0v1.6h-2.0zM544.0 437.3h1.2v1.6h-1.2zM556.0 421.5h1.2v1.2h-1.2zM561.8 414.6h1.2v1.2h-1.2zM559.1 414.8h2.0v1.2h-2.0zM557.8 443.5h1.6v1.2h-1.6zM563.1 421.3h2.0v1.6h-2.0zM558.6 415.4h2.0v1.2h-2.0zM541.0 428.1h1.6v1.2h-1.6zM555.4 444.4h0.9v0.9h-0.9zM567.7 431.4h2.0v1.6h-2.0zM551.7 424.4h2.0v1.6h-2.0zM558.7 419.5h2.0v1.2h-2.0zM562.1 415.5h1.6v1.6h-1.6zM561.8 419.4h1.2v1.2h-1.2zM551.5 440.3h0.9v1.6h-0.9zM561.6 422.6h1.6v1.2h-1.6zM538.9 434.5h2.0v0.9h-2.0zM568.7 433.4h1.6v1.6h-1.6zM571.5 429.8h1.2v1.6h-1.2zM551.0 423.3h1.2v0.9h-1.2zM553.5 443.5h1.2v1.2h-1.2zM567.7 434.7h1.6v1.6h-1.6zM561.0 420.3h1.2v0.9h-1.2zM569.4 439.8h1.6v1.2h-1.6zM568.5 436.2h0.9v1.2h-0.9zM542.9 435.5h1.2v1.2h-1.2zM559.5 418.4h2.0v1.6h-2.0zM540.9 439.3h1.6v0.9h-1.6zM559.7 418.9h0.9v1.2h-0.9zM550.7 441.9h2.0v0.9h-2.0zM558.6 416.4h1.2v1.6h-1.2zM563.7 422.3h1.6v1.6h-1.6zM554.7 442.6h2.0v1.6h-2.0zM570.8 430.1h0.9v1.2h-0.9zM560.2 417.3h1.2v1.2h-1.2zM569.9 426.5h1.2v1.6h-1.2zM548.0 424.0h1.2v0.9h-1.2zM558.0 420.8h1.6v1.2h-1.6zM559.6 417.2h0.9v1.2h-0.9zM565.4 444.0h1.6v1.6h-1.6zM545.3 424.7h1.6v1.6h-1.6zM542.1 440.0h2.0v1.6h-2.0zM568.1 442.2h0.9v0.9h-0.9zM566.0 423.1h0.9v0.9h-0.9zM563.8 419.6h1.6v0.9h-1.6zM548.2 424.4h2.0v0.9h-2.0zM542.2 436.1h1.2v0.9h-1.2zM559.1 419.1h2.0v1.6h-2.0zM557.2 443.7h0.9v1.2h-0.9zM558.7 415.6h2.0v1.2h-2.0zM569.8 427.8h1.2v0.9h-1.2zM558.6 419.4h2.0v1.2h-2.0zM549.7 440.0h0.9v1.2h-0.9zM567.9 442.1h1.6v0.9h-1.6zM540.7 428.9h0.9v1.6h-0.9zM570.8 429.6h1.6v0.9h-1.6zM540.8 430.9h1.2v0.9h-1.2zM542.5 437.9h1.2v1.2h-1.2zM555.1 424.4h1.2v1.6h-1.2zM550.7 423.7h0.9v0.9h-0.9zM559.7 420.1h1.2v1.2h-1.2zM570.8 428.4h0.9v1.6h-0.9zM569.2 433.2h0.9v0.9h-0.9zM541.9 429.0h1.6v1.6h-1.6zM543.4 431.8h2.0v0.9h-2.0zM549.3 422.7h1.2v1.2h-1.2zM542.0 433.6h1.2v1.2h-1.2zM561.0 414.0h0.9v1.2h-0.9zM557.9 421.4h2.0v0.9h-2.0zM544.1 433.7h1.2v0.9h-1.2zM569.3 440.9h1.6v1.6h-1.6zM545.0 430.0h2.0v1.2h-2.0zM560.1 443.2h2.0v0.9h-2.0zM562.5 416.3h1.6v1.6h-1.6zM570.3 429.6h1.2v1.6h-1.2zM539.5 433.7h0.9v1.2h-0.9zM570.8 438.4h2.0v0.9h-2.0zM564.1 423.8h1.2v1.2h-1.2zM570.9 429.6h1.2v1.6h-1.2zM562.9 416.8h1.2v1.6h-1.2zM554.8 443.0h1.2v1.2h-1.2zM541.6 427.7h2.0v0.9h-2.0zM543.0 438.6h0.9v0.9h-0.9zM560.1 418.3h2.0v1.2h-2.0zM541.8 439.2h0.9v0.9h-0.9zM560.7 443.2h1.6v1.2h-1.6zM550.1 430.6h0.9v1.6h-0.9zM539.7 437.0h1.6v0.9h-1.6zM539.9 427.4h2.0v1.6h-2.0zM567.3 423.6h0.9v1.2h-0.9zM550.1 440.7h1.6v1.2h-1.6zM566.0 422.3h0.9v1.2h-0.9zM552.4 443.4h1.6v0.9h-1.6zM560.7 442.9h2.0v1.6h-2.0zM559.8 415.8h2.0v1.2h-2.0zM549.9 428.9h1.2v1.2h-1.2zM541.0 427.3h0.9v0.9h-0.9zM557.8 443.2h0.9v0.9h-0.9zM542.1 425.9h0.9v1.6h-0.9zM542.6 439.0h1.2v1.6h-1.2zM541.5 440.2h1.2v0.9h-1.2zM548.0 424.1h1.2v1.6h-1.2zM561.2 441.6h1.2v1.6h-1.2zM558.5 443.8h0.9v0.9h-0.9zM568.0 425.1h0.9v0.9h-0.9zM552.5 443.5h1.6v1.6h-1.6zM549.5 441.8h1.2v0.9h-1.2zM552.1 443.2h1.2v0.9h-1.2zM552.9 443.8h1.6v0.9h-1.6zM551.3 439.7h0.9v1.2h-0.9zM551.6 441.4h1.2v1.6h-1.2zM567.1 443.0h1.6v0.9h-1.6zM542.0 439.3h2.0v1.2h-2.0zM560.6 421.1h0.9v1.2h-0.9zM567.5 423.1h1.2v0.9h-1.2zM569.7 423.1h2.0v1.2h-2.0zM541.4 438.3h0.9v0.9h-0.9zM562.3 421.5h1.6v1.2h-1.6zM563.3 418.0h2.0v1.2h-2.0zM540.9 426.8h1.2v0.9h-1.2zM538.9 434.7h2.0v0.9h-2.0zM539.4 433.6h1.6v0.9h-1.6zM562.0 420.5h0.9v1.2h-0.9zM566.9 423.6h2.0v1.2h-2.0zM568.3 436.1h0.9v1.2h-0.9zM562.1 422.4h1.2v0.9h-1.2zM570.0 438.8h0.9v0.9h-0.9zM559.3 421.1h1.6v0.9h-1.6zM552.2 442.4h0.9v0.9h-0.9zM558.9 416.0h2.0v1.2h-2.0zM560.2 414.5h1.6v1.2h-1.6zM560.3 420.5h1.2v0.9h-1.2zM559.9 417.7h0.9v1.2h-0.9zM538.3 433.7h1.2v1.2h-1.2zM559.1 414.3h1.2v1.2h-1.2zM559.4 415.7h2.0v1.2h-2.0zM545.4 425.1h1.6v1.2h-1.6zM565.0 421.8h1.6v1.2h-1.6zM559.7 442.3h1.6v0.9h-1.6zM571.5 430.5h1.6v0.9h-1.6zM559.3 443.7h0.9v0.9h-0.9zM569.1 433.7h1.6v1.6h-1.6zM560.3 420.0h0.9v0.9h-0.9zM561.7 421.9h2.0v0.9h-2.0zM568.7 437.5h2.0v1.6h-2.0zM550.3 442.3h2.0v1.6h-2.0zM565.3 417.7h1.2v1.2h-1.2zM545.3 428.7h1.6v1.6h-1.6zM541.2 439.8h1.6v1.6h-1.6zM563.1 415.6h1.2v1.6h-1.2zM545.9 428.1h2.0v1.2h-2.0zM547.8 424.7h1.2v1.6h-1.2zM568.1 423.0h1.2v1.6h-1.2zM563.8 422.7h1.2v1.2h-1.2zM551.8 440.5h1.6v1.6h-1.6zM569.6 439.0h2.0v1.6h-2.0zM543.8 430.1h1.6v0.9h-1.6zM556.6 444.2h1.6v1.2h-1.6zM562.9 418.7h0.9v1.6h-0.9zM541.3 439.7h1.6v0.9h-1.6zM564.1 423.2h0.9v1.2h-0.9zM542.3 428.2h1.6v0.9h-1.6zM560.2 415.0h1.6v1.2h-1.6zM565.6 419.5h0.9v0.9h-0.9zM538.5 428.7h2.0v1.2h-2.0zM546.8 424.8h2.0v0.9h-2.0zM553.7 444.0h1.6v1.6h-1.6zM571.5 429.6h1.6v1.6h-1.6zM562.1 415.6h1.6v0.9h-1.6zM561.5 421.9h2.0v0.9h-2.0zM542.2 436.6h1.6v1.2h-1.6zM550.0 442.4h1.2v1.2h-1.2zM542.6 438.8h1.6v1.2h-1.6zM546.1 425.6h0.9v1.2h-0.9zM570.4 432.7h1.2v1.2h-1.2zM540.5 429.3h2.0v0.9h-2.0zM541.5 426.5h0.9v1.2h-0.9zM539.4 439.1h1.6v1.2h-1.6zM572.0 429.2h1.2v1.2h-1.2zM562.0 416.2h2.0v1.2h-2.0zM541.5 427.2h1.6v1.6h-1.6zM538.2 440.5h1.6v0.9h-1.6zM569.5 434.4h1.2v1.6h-1.2zM572.2 428.9h1.2v1.6h-1.2zM553.3 423.6h1.6v0.9h-1.6zM541.8 439.2h1.6v1.6h-1.6zM561.7 442.8h2.0v1.6h-2.0zM570.0 437.4h0.9v0.9h-0.9zM546.1 429.0h0.9v0.9h-0.9zM567.8 424.1h1.2v1.2h-1.2zM558.9 443.8h2.0v1.2h-2.0zM559.1 417.6h2.0v1.2h-2.0zM559.7 419.9h2.0v1.6h-2.0zM562.0 442.7h1.2v1.2h-1.2zM541.7 438.9h1.2v1.2h-1.2zM552.6 444.3h0.9v1.6h-0.9zM562.0 415.7h1.2v0.9h-1.2zM569.7 428.9h1.2v1.6h-1.2zM570.9 436.5h1.2v1.2h-1.2zM565.2 444.4h1.6v0.9h-1.6zM559.1 416.5h1.6v0.9h-1.6zM569.0 438.7h1.2v1.6h-1.2zM564.6 422.3h1.2v1.6h-1.2zM564.3 421.7h1.6v1.6h-1.6zM558.3 419.5h1.6v0.9h-1.6zM540.7 427.8h0.9v1.2h-0.9zM560.0 422.5h2.0v0.9h-2.0zM562.6 415.6h0.9v1.2h-0.9zM558.0 416.5h2.0v0.9h-2.0zM540.7 434.9h2.0v1.2h-2.0zM569.4 442.3h1.2v1.2h-1.2zM545.1 428.6h1.2v1.2h-1.2zM559.7 420.4h2.0v1.6h-2.0zM541.0 438.7h1.2v1.6h-1.2zM555.6 443.4h1.2v0.9h-1.2zM538.3 431.9h2.0v1.6h-2.0zM563.0 418.7h0.9v1.2h-0.9zM548.6 437.1h2.0v1.6h-2.0zM542.5 430.7h1.6v0.9h-1.6zM543.5 426.2h0.9v1.2h-0.9zM540.8 429.8h0.9v0.9h-0.9zM555.5 443.3h1.6v1.2h-1.6zM568.1 425.1h1.2v0.9h-1.2zM554.4 423.6h1.6v0.9h-1.6zM543.1 438.6h1.6v1.2h-1.6zM549.2 423.0h1.6v1.2h-1.6zM551.5 431.7h1.2v1.6h-1.2zM555.8 443.8h2.0v0.9h-2.0zM564.1 423.4h1.2v1.6h-1.2zM570.4 426.8h1.6v1.2h-1.6zM559.1 420.9h1.2v1.6h-1.2zM540.4 434.9h0.9v0.9h-0.9zM548.4 431.0h1.2v1.2h-1.2zM559.6 441.9h2.0v1.6h-2.0zM562.9 423.2h0.9v1.6h-0.9zM558.6 418.3h2.0v1.2h-2.0zM563.7 423.9h1.6v0.9h-1.6zM560.6 414.9h1.6v0.9h-1.6zM549.7 431.3h1.6v1.6h-1.6zM566.2 444.8h0.9v0.9h-0.9zM557.7 420.3h1.2v1.2h-1.2zM548.2 429.6h0.9v1.6h-0.9zM571.1 426.5h0.9v1.6h-0.9zM552.2 444.3h1.2v1.2h-1.2zM566.1 443.2h1.6v1.6h-1.6zM563.5 418.8h0.9v0.9h-0.9zM562.8 414.9h2.0v0.9h-2.0zM546.9 424.8h1.6v1.2h-1.6zM558.3 417.4h1.6v0.9h-1.6zM567.4 422.7h2.0v1.6h-2.0zM551.1 433.3h1.6v1.6h-1.6zM542.1 437.2h1.2v0.9h-1.2zM569.0 433.2h1.2v1.2h-1.2zM568.7 436.1h1.6v1.2h-1.6zM543.0 439.2h0.9v1.2h-0.9zM569.3 424.5h2.0v1.6h-2.0zM548.9 426.2h1.2v0.9h-1.2zM557.6 422.4h1.6v0.9h-1.6zM569.4 436.8h2.0v1.2h-2.0zM544.9 424.0h2.0v1.6h-2.0zM569.2 438.9h1.2v0.9h-1.2zM539.8 434.6h1.2v0.9h-1.2zM560.7 418.9h2.0v0.9h-2.0zM563.9 445.2h1.2v0.9h-1.2zM562.0 414.7h1.2v0.9h-1.2zM557.1 443.8h1.6v0.9h-1.6zM546.9 428.7h0.9v1.2h-0.9zM564.1 417.6h0.9v1.2h-0.9zM548.1 431.6h1.2v1.6h-1.2zM560.7 417.0h2.0v0.9h-2.0zM565.8 443.3h0.9v1.6h-0.9zM563.5 420.6h0.9v0.9h-0.9zM562.8 443.8h1.6v1.6h-1.6zM570.4 428.5h1.2v1.2h-1.2zM550.6 431.8h0.9v0.9h-0.9zM563.4 419.5h0.9v0.9h-0.9zM570.2 431.4h2.0v1.6h-2.0zM539.5 428.8h1.6v0.9h-1.6zM548.1 424.2h2.0v1.2h-2.0zM562.2 419.7h1.2v1.6h-1.2zM560.4 415.0h1.2v1.6h-1.2zM570.9 429.0h1.2v1.2h-1.2zM549.0 423.8h1.6v1.6h-1.6zM570.9 440.2h0.9v1.2h-0.9zM562.8 423.9h1.2v0.9h-1.2zM544.8 425.5h1.6v1.6h-1.6zM566.3 443.2h2.0v1.2h-2.0zM542.5 438.7h2.0v1.6h-2.0zM570.0 428.7h1.2v1.2h-1.2zM572.5 429.5h2.0v1.2h-2.0zM558.7 420.4h2.0v1.2h-2.0zM553.1 443.4h1.2v1.6h-1.2zM562.4 416.9h1.6v0.9h-1.6zM569.7 426.4h2.0v1.2h-2.0zM569.5 439.6h2.0v1.6h-2.0zM569.4 438.4h1.2v1.2h-1.2zM546.8 426.2h1.2v1.6h-1.2zM542.6 437.9h1.2v1.2h-1.2zM559.6 417.9h1.6v0.9h-1.6zM556.6 445.0h1.6v1.6h-1.6zM559.9 421.1h1.2v0.9h-1.2zM563.1 420.0h2.0v1.6h-2.0zM570.6 429.5h1.6v1.2h-1.6zM569.4 427.7h1.2v0.9h-1.2zM564.0 421.1h0.9v0.9h-0.9zM567.8 442.2h1.2v1.6h-1.2zM544.7 430.1h1.2v1.6h-1.2zM562.1 421.3h1.2v0.9h-1.2zM563.6 414.8h1.6v1.6h-1.6zM568.3 435.6h1.6v1.2h-1.6zM569.1 440.5h2.0v0.9h-2.0zM562.1 443.5h1.6v1.2h-1.6zM566.7 443.3h1.6v1.2h-1.6zM550.1 434.5h2.0v1.2h-2.0zM561.8 443.8h1.2v0.9h-1.2zM560.6 420.7h2.0v0.9h-2.0zM565.1 444.8h1.2v0.9h-1.2zM564.1 417.7h0.9v0.9h-0.9zM558.5 416.2h0.9v0.9h-0.9zM558.7 418.5h2.0v0.9h-2.0zM554.7 423.5h0.9v0.9h-0.9zM563.6 421.5h1.6v1.2h-1.6zM546.6 427.8h2.0v1.6h-2.0zM570.3 436.1h1.6v1.2h-1.6zM544.3 428.1h1.6v1.2h-1.6zM539.6 429.9h1.2v0.9h-1.2zM567.9 443.9h0.9v0.9h-0.9zM559.2 443.4h1.2v0.9h-1.2zM563.2 414.9h2.0v1.2h-2.0zM548.8 422.4h2.0v0.9h-2.0zM551.3 423.4h2.0v1.6h-2.0zM562.6 423.3h1.2v1.2h-1.2zM539.1 428.8h2.0v1.6h-2.0zM561.1 416.9h2.0v1.6h-2.0zM551.3 441.4h0.9v1.6h-0.9zM563.2 415.6h1.6v0.9h-1.6zM540.0 428.9h1.6v1.2h-1.6zM567.0 441.6h1.6v1.2h-1.6zM560.4 420.7h1.6v0.9h-1.6zM542.6 429.6h0.9v1.6h-0.9zM557.6 423.4h1.2v1.6h-1.2zM571.3 430.0h1.2v1.2h-1.2zM563.5 424.4h1.2v0.9h-1.2zM560.2 415.1h2.0v1.2h-2.0zM539.7 436.6h2.0v0.9h-2.0z"/>
<path d="M604.1 410.5 L607.8 411.1 L610.9 416.1 L611.5 419.2 L607.8 419.8 L605.3 416.1Z"/>
<path d="M610.6 417.5h0.9v1.2h-0.9zM603.7 412.1h1.6v1.2h-1.6zM611.9 417.4h0.9v0.9h-0.9zM607.8 417.3h0.9v1.2h-0.9zM607.8 416.7h1.6v1.2h-1.6zM611.3 417.0h1.2v1.6h-1.2zM610.7 417.4h0.9v1.6h-0.9zM610.4 416.8h2.0v1.2h-2.0zM602.1 410.2h2.0v1.2h-2.0zM605.1 410.5h2.0v1.6h-2.0zM605.7 410.3h1.2v1.2h-1.2zM611.2 415.9h1.6v1.2h-1.6zM606.1 415.7h0.9v0.9h-0.9zM610.8 416.0h0.9v1.2h-0.9zM605.5 414.1h0.9v1.2h-0.9zM609.9 414.6h0.9v0.9h-0.9zM607.2 419.0h1.6v1.2h-1.6zM609.1 418.9h2.0v1.2h-2.0zM603.2 408.9h1.6v1.6h-1.6zM610.8 419.4h0.9v1.2h-0.9zM605.7 411.0h1.2v0.9h-1.2zM608.9 419.5h2.0v0.9h-2.0zM609.7 418.6h1.6v1.6h-1.6zM611.4 417.2h1.6v1.6h-1.6zM609.2 418.1h2.0v1.6h-2.0zM609.8 413.3h0.9v1.6h-0.9zM603.0 413.9h0.9v1.6h-0.9zM611.0 417.6h1.6v1.2h-1.6zM603.2 410.6h0.9v0.9h-0.9zM610.5 416.5h0.9v1.2h-0.9z"/>
<path d="M405.5 444.3 L407.3 440.6 L411.0 439.1 L416.6 439.3 L419.7 441.8 L420.7 446.7 L419.7 451.7 L416.6 454.2 L412.9 455.6 L409.2 454.2 L406.1 450.5Z"/>
<path d="M410.5 455.0h1.2v1.6h-1.2zM409.6 454.0h2.0v1.6h-2.0zM417.2 451.9h2.0v0.9h-2.0zM412.7 453.2h1.2v1.6h-1.2zM410.9 453.9h0.9v1.6h-0.9zM404.2 449.7h2.0v1.6h-2.0zM408.5 451.8h1.6v0.9h-1.6zM419.0 452.6h1.6v0.9h-1.6zM414.8 452.7h1.2v0.9h-1.2zM411.6 456.7h0.9v1.2h-0.9zM410.0 439.8h1.2v1.2h-1.2zM405.1 448.2h0.9v1.6h-0.9zM405.8 451.0h1.6v0.9h-1.6zM413.0 454.7h1.2v1.2h-1.2zM421.0 441.2h0.9v1.6h-0.9zM407.1 452.5h2.0v0.9h-2.0zM420.2 441.1h1.2v0.9h-1.2zM411.5 454.3h1.6v0.9h-1.6zM416.5 439.3h1.6v1.6h-1.6zM416.6 452.2h1.2v0.9h-1.2zM407.6 452.8h0.9v1.6h-0.9zM413.7 453.7h2.0v1.6h-2.0zM406.5 446.8h1.2v1.2h-1.2zM419.9 450.1h2.0v0.9h-2.0zM420.1 452.5h1.2v1.6h-1.2zM420.8 448.0h1.6v1.2h-1.6zM420.1 448.7h0.9v0.9h-0.9zM404.9 450.1h2.0v1.2h-2.0zM410.7 454.6h1.6v1.2h-1.6zM416.1 438.1h1.6v0.9h-1.6zM404.3 442.7h0.9v0.9h-0.9zM413.3 455.3h0.9v0.9h-0.9zM414.2 453.8h0.9v1.2h-0.9zM409.2 439.5h1.2v1.6h-1.2zM418.4 443.4h2.0v1.2h-2.0zM406.3 441.5h0.9v1.6h-0.9zM419.7 443.1h1.2v1.2h-1.2zM419.1 443.7h2.0v1.2h-2.0zM405.0 449.0h1.2v1.2h-1.2zM407.5 439.0h1.2v1.6h-1.2zM409.7 453.9h2.0v1.2h-2.0zM419.0 453.1h1.2v0.9h-1.2zM416.5 452.2h1.2v1.2h-1.2zM416.9 439.9h0.9v1.2h-0.9zM416.5 454.3h1.2v0.9h-1.2zM410.4 438.9h2.0v1.2h-2.0zM415.5 437.8h1.6v1.6h-1.6zM407.9 455.0h1.6v0.9h-1.6zM417.3 438.1h2.0v1.2h-2.0zM419.2 447.9h1.2v1.2h-1.2zM404.3 443.4h2.0v1.2h-2.0zM416.9 451.8h1.2v1.2h-1.2zM417.4 438.3h1.2v0.9h-1.2zM405.8 445.0h1.6v1.6h-1.6zM409.8 453.3h2.0v1.6h-2.0zM408.2 438.6h1.2v1.6h-1.2zM417.1 453.4h1.2v1.2h-1.2zM416.4 452.8h2.0v0.9h-2.0zM416.2 453.0h1.2v1.2h-1.2zM405.7 443.2h1.2v0.9h-1.2zM409.2 439.9h1.6v1.6h-1.6zM418.4 444.0h0.9v1.6h-0.9zM406.1 441.9h0.9v1.6h-0.9zM404.1 441.3h1.2v1.6h-1.2zM405.9 440.5h2.0v1.2h-2.0zM416.1 438.4h1.2v1.2h-1.2zM408.8 439.2h2.0v0.9h-2.0zM404.9 445.8h2.0v0.9h-2.0zM404.8 447.2h0.9v0.9h-0.9zM412.4 439.5h1.6v1.6h-1.6zM418.4 449.3h2.0v0.9h-2.0zM419.3 449.6h0.9v1.2h-0.9zM407.8 439.2h0.9v1.6h-0.9zM406.9 451.9h1.6v1.6h-1.6zM407.5 438.9h1.2v1.2h-1.2zM417.8 453.9h0.9v1.2h-0.9zM411.1 453.1h1.2v1.6h-1.2zM408.4 453.1h1.2v1.2h-1.2zM416.6 440.4h1.2v1.6h-1.2zM409.4 437.8h2.0v1.2h-2.0zM419.0 450.0h0.9v0.9h-0.9zM406.4 441.7h1.6v1.2h-1.6zM416.1 452.8h0.9v0.9h-0.9zM405.0 445.1h1.6v1.6h-1.6zM415.0 439.4h1.6v1.6h-1.6zM417.0 440.1h0.9v0.9h-0.9zM405.7 440.3h2.0v1.6h-2.0zM406.5 441.2h2.0v0.9h-2.0zM419.0 442.3h2.0v1.2h-2.0zM414.1 438.1h1.6v1.6h-1.6zM414.5 454.8h1.2v1.2h-1.2zM407.2 439.0h2.0v1.2h-2.0zM409.2 454.8h1.2v1.6h-1.2zM417.2 439.5h0.9v0.9h-0.9zM419.4 450.7h1.2v1.6h-1.2zM404.7 451.4h2.0v1.2h-2.0zM417.2 451.8h0.9v0.9h-0.9zM407.2 440.9h2.0v1.6h-2.0zM404.8 444.3h1.2v1.6h-1.2zM418.5 451.3h2.0v1.2h-2.0zM405.8 445.0h1.2v1.6h-1.2zM407.5 451.3h1.6v1.6h-1.6zM406.5 439.8h1.2v1.2h-1.2z"/>
<path d="M371.0 539.5 L370.6 542.7 L369.4 545.1 L367.4 543.4 L366.2 545.3 L365.1 543.6 L364.0 542.0 L364.6 539.5 L364.7 537.5 L365.0 535.2 L366.4 535.0 L367.6 534.1 L368.2 536.5 L368.9 537.7Z"/>
<path d="M367.6 544.3h2.0v1.6h-2.0zM363.6 540.1h1.2v1.2h-1.2zM365.7 533.8h1.2v0.9h-1.2zM368.2 542.8h1.2v1.6h-1.2zM368.4 538.6h1.6v0.9h-1.6zM363.5 542.5h1.6v1.6h-1.6zM365.4 533.4h1.6v1.6h-1.6zM368.4 542.2h2.0v1.6h-2.0zM368.0 537.3h2.0v0.9h-2.0zM362.2 539.1h1.2v1.6h-1.2zM363.8 545.2h2.0v0.9h-2.0zM364.4 538.6h0.9v1.6h-0.9zM365.4 542.2h0.9v0.9h-0.9zM368.4 536.3h2.0v0.9h-2.0zM363.4 541.3h1.6v0.9h-1.6zM364.5 541.9h1.2v1.2h-1.2zM368.4 535.1h1.2v0.9h-1.2zM364.5 533.6h2.0v1.6h-2.0zM369.1 541.7h2.0v1.2h-2.0zM366.2 533.6h1.2v0.9h-1.2zM367.3 543.7h1.6v1.2h-1.6zM370.7 541.6h1.2v1.6h-1.2zM366.9 543.3h1.2v0.9h-1.2zM365.1 544.9h0.9v1.6h-0.9zM364.0 542.1h2.0v1.6h-2.0zM363.6 539.3h2.0v1.6h-2.0zM369.7 541.0h1.6v0.9h-1.6zM364.1 542.0h0.9v1.2h-0.9zM369.5 537.1h2.0v1.6h-2.0zM363.9 533.2h1.6v0.9h-1.6zM368.5 537.3h2.0v1.6h-2.0zM368.3 535.4h1.6v1.2h-1.6zM366.5 534.3h1.2v1.6h-1.2z"/>
<path d="M426.8 608.9 L426.7 611.6 L424.8 612.0 L424.2 615.5 L422.7 612.8 L421.1 613.3 L421.2 610.5 L419.5 608.9 L421.1 607.3 L421.0 604.4 L422.4 603.3 L424.1 603.1 L425.1 605.2 L426.8 606.2Z"/>
<path d="M422.2 602.4h1.2v1.2h-1.2zM420.3 610.5h1.6v0.9h-1.6zM422.7 612.1h1.6v1.2h-1.6zM426.3 610.3h1.2v0.9h-1.2zM420.8 605.2h0.9v1.2h-0.9zM425.6 607.3h2.0v1.2h-2.0zM422.6 601.9h1.2v1.6h-1.2zM419.0 609.2h1.2v1.2h-1.2zM422.7 614.4h2.0v0.9h-2.0zM419.2 606.3h2.0v1.2h-2.0zM420.2 607.4h1.2v0.9h-1.2zM424.8 610.1h1.6v0.9h-1.6zM417.9 608.6h2.0v1.2h-2.0zM421.4 611.8h1.6v1.6h-1.6zM423.9 605.0h2.0v1.6h-2.0zM426.0 608.7h1.2v0.9h-1.2zM419.4 609.3h2.0v1.6h-2.0zM424.1 603.7h0.9v1.2h-0.9zM422.9 602.5h1.6v1.2h-1.6zM422.9 614.1h1.6v1.6h-1.6zM426.5 607.1h1.2v1.2h-1.2zM425.1 606.6h1.6v1.6h-1.6zM423.6 604.8h2.0v1.2h-2.0zM426.3 610.7h0.9v1.6h-0.9zM421.2 603.5h2.0v1.6h-2.0zM420.9 613.0h1.6v1.6h-1.6zM424.6 610.5h0.9v1.2h-0.9zM424.6 612.1h1.6v0.9h-1.6zM422.3 612.8h0.9v0.9h-0.9zM424.0 612.8h0.9v0.9h-0.9zM420.7 603.1h1.6v0.9h-1.6zM420.8 604.2h1.2v0.9h-1.2zM421.7 611.9h2.0v1.2h-2.0zM420.8 606.6h0.9v1.6h-0.9zM422.2 615.5h1.2v1.6h-1.2zM421.4 607.6h2.0v0.9h-2.0zM421.7 613.3h1.6v1.2h-1.6zM419.8 610.1h0.9v1.6h-0.9zM421.8 613.0h2.0v1.2h-2.0z"/>
<path d="M467.0 622.7 L469.1 625.5 L465.8 627.5 L461.0 626.6 L457.3 628.8 L454.0 627.0 L454.6 624.2 L448.8 622.7 L453.5 620.9 L455.2 619.3 L457.8 618.1 L461.5 617.5 L463.3 619.8 L467.8 620.2Z"/>
<path d="M462.1 616.6h1.6v1.6h-1.6zM460.9 617.6h1.2v0.9h-1.2zM451.6 623.0h2.0v1.6h-2.0zM450.3 622.4h1.6v1.2h-1.6zM451.5 623.4h2.0v0.9h-2.0zM458.6 627.4h1.2v1.2h-1.2zM462.2 619.4h0.9v0.9h-0.9zM454.7 626.6h1.2v0.9h-1.2zM467.4 623.7h1.6v1.6h-1.6zM461.9 619.0h2.0v0.9h-2.0zM463.2 626.0h1.2v1.6h-1.2zM452.8 623.8h1.2v1.2h-1.2zM460.4 625.8h1.6v0.9h-1.6zM464.7 620.5h2.0v1.6h-2.0zM467.4 619.9h0.9v1.2h-0.9zM454.8 620.4h0.9v1.2h-0.9zM456.0 626.8h0.9v0.9h-0.9zM459.6 626.3h0.9v1.6h-0.9zM462.3 618.6h1.2v1.2h-1.2zM456.8 628.5h1.2v0.9h-1.2zM456.1 628.3h0.9v1.2h-0.9zM448.3 623.3h2.0v0.9h-2.0zM466.7 621.0h0.9v0.9h-0.9zM455.3 629.0h1.6v1.2h-1.6zM466.2 621.7h2.0v0.9h-2.0zM465.9 623.5h1.6v1.6h-1.6zM466.5 624.2h0.9v0.9h-0.9zM467.5 624.4h0.9v1.6h-0.9zM466.9 620.6h1.2v1.6h-1.2zM448.2 621.9h0.9v1.2h-0.9zM466.0 626.1h1.2v1.2h-1.2zM452.7 620.8h0.9v1.2h-0.9zM460.6 625.3h0.9v1.2h-0.9zM458.0 628.3h1.2v1.6h-1.2zM453.5 626.0h2.0v0.9h-2.0zM447.6 620.5h1.6v1.6h-1.6zM457.5 617.7h0.9v1.6h-0.9zM449.4 620.7h1.2v1.2h-1.2zM465.5 625.0h1.2v1.6h-1.2zM461.9 617.4h0.9v1.6h-0.9zM453.8 626.7h1.2v1.6h-1.2zM454.5 618.3h1.2v0.9h-1.2zM452.2 625.9h1.2v1.2h-1.2zM456.0 627.1h1.2v1.2h-1.2zM456.4 628.2h0.9v1.6h-0.9zM466.3 624.3h0.9v1.6h-0.9zM460.9 627.1h1.2v1.2h-1.2zM451.6 620.1h1.2v0.9h-1.2zM459.9 627.2h2.0v0.9h-2.0zM466.9 620.5h0.9v0.9h-0.9zM463.4 617.9h1.2v1.6h-1.2zM453.6 625.9h1.2v1.6h-1.2zM466.2 619.5h1.6v0.9h-1.6zM466.6 623.3h1.2v1.6h-1.2zM468.5 624.4h0.9v1.2h-0.9zM450.8 623.0h2.0v1.2h-2.0zM449.8 622.7h1.2v0.9h-1.2zM450.5 620.5h1.2v0.9h-1.2zM453.8 627.1h2.0v1.2h-2.0zM453.5 624.0h0.9v1.2h-0.9zM466.2 627.6h1.6v1.2h-1.6zM452.2 627.3h0.9v1.6h-0.9zM468.1 621.2h1.2v0.9h-1.2zM458.1 626.7h0.9v0.9h-0.9zM454.7 619.1h2.0v0.9h-2.0zM455.0 625.5h1.6v1.2h-1.6zM467.8 626.7h0.9v1.2h-0.9zM462.4 627.1h0.9v0.9h-0.9zM457.7 627.7h2.0v1.6h-2.0zM454.0 626.3h1.2v1.2h-1.2zM467.4 619.2h2.0v0.9h-2.0zM465.7 619.7h1.2v0.9h-1.2zM464.6 619.9h1.6v1.2h-1.6zM457.3 627.9h1.2v1.6h-1.2zM467.9 619.5h0.9v1.2h-0.9zM461.9 617.0h2.0v1.2h-2.0zM464.4 619.2h0.9v1.6h-0.9zM466.6 621.6h1.6v0.9h-1.6zM467.3 621.3h0.9v0.9h-0.9zM449.7 622.4h0.9v1.6h-0.9zM468.0 623.5h0.9v1.2h-0.9zM453.5 620.1h0.9v1.6h-0.9zM458.3 627.6h0.9v1.6h-0.9zM467.7 624.5h2.0v1.2h-2.0zM468.4 623.4h2.0v0.9h-2.0zM459.9 625.7h1.2v0.9h-1.2zM459.4 627.0h2.0v1.6h-2.0zM454.5 625.2h0.9v1.2h-0.9zM460.9 619.1h1.2v0.9h-1.2zM466.8 621.9h0.9v1.6h-0.9zM467.6 623.9h2.0v1.6h-2.0zM456.6 627.3h1.2v1.2h-1.2zM466.4 620.1h2.0v1.2h-2.0zM457.9 616.9h1.2v1.6h-1.2z"/>
<path d="M439.3 615.2 L438.2 616.0 L437.6 616.7 L437.0 617.8 L436.0 616.9 L434.5 617.5 L433.7 616.5 L434.7 615.2 L433.8 614.0 L434.8 613.2 L435.8 612.5 L437.1 612.0 L438.5 612.6 L438.5 614.2Z"/>
<path d="M436.2 616.9h1.2v1.2h-1.2zM438.4 614.6h0.9v0.9h-0.9zM432.8 616.3h1.2v0.9h-1.2zM437.5 611.2h2.0v1.6h-2.0zM433.8 615.2h0.9v1.6h-0.9zM434.0 616.5h0.9v1.2h-0.9zM436.2 617.3h1.2v1.6h-1.2zM438.3 614.9h1.2v0.9h-1.2zM437.7 610.7h0.9v0.9h-0.9zM434.0 612.3h1.2v1.6h-1.2zM434.1 615.2h1.6v1.2h-1.6zM433.2 615.3h2.0v0.9h-2.0zM433.0 613.7h1.6v1.6h-1.6zM433.6 611.6h1.6v1.2h-1.6zM437.9 613.4h0.9v0.9h-0.9zM438.0 612.8h1.2v1.2h-1.2z"/>
<path d="M452.6 528.1 L462.2 528.1 L469.6 527.3 L471.8 529.6 L469.6 536.2 L465.9 540.7 L462.2 539.2 L457.8 534.7Z"/>
<path d="M469.0 526.5h0.9v1.6h-0.9zM463.1 539.2h0.9v1.2h-0.9zM470.5 526.9h0.9v1.6h-0.9zM457.6 527.8h0.9v1.6h-0.9zM457.8 527.1h2.0v1.2h-2.0zM469.0 528.7h2.0v0.9h-2.0zM464.9 539.4h1.6v1.6h-1.6zM460.1 536.6h1.6v1.2h-1.6zM453.6 526.7h2.0v1.6h-2.0zM461.5 538.2h2.0v1.2h-2.0zM461.4 527.3h2.0v0.9h-2.0zM464.7 527.3h2.0v1.2h-2.0zM469.5 528.0h0.9v0.9h-0.9zM470.6 528.2h0.9v0.9h-0.9zM470.7 530.3h2.0v0.9h-2.0zM463.8 526.9h2.0v1.2h-2.0zM465.3 528.3h1.6v0.9h-1.6zM453.7 527.9h0.9v0.9h-0.9zM458.6 535.8h1.2v1.2h-1.2zM468.2 526.7h0.9v0.9h-0.9zM455.4 528.0h1.2v1.2h-1.2zM465.7 539.5h1.2v0.9h-1.2zM470.5 531.3h1.2v1.2h-1.2zM460.9 537.7h1.6v0.9h-1.6zM472.6 529.0h1.2v0.9h-1.2zM464.1 540.0h0.9v1.2h-0.9zM454.3 526.7h2.0v1.6h-2.0zM469.3 532.0h1.6v1.6h-1.6zM458.2 527.2h1.6v1.2h-1.6zM467.8 536.7h2.0v1.6h-2.0zM453.0 528.6h2.0v1.2h-2.0zM464.2 526.9h1.2v0.9h-1.2zM460.7 527.9h1.2v0.9h-1.2zM461.4 538.4h0.9v0.9h-0.9zM460.0 527.3h0.9v0.9h-0.9zM468.3 537.0h2.0v1.6h-2.0zM463.6 538.5h0.9v0.9h-0.9zM463.5 539.1h0.9v1.2h-0.9zM465.7 539.4h2.0v1.2h-2.0zM469.2 527.9h1.2v1.2h-1.2zM468.1 537.9h1.6v0.9h-1.6zM451.7 527.9h1.2v0.9h-1.2zM466.3 538.4h1.2v0.9h-1.2zM465.1 527.6h2.0v0.9h-2.0zM464.9 540.6h2.0v1.2h-2.0zM453.9 527.9h2.0v1.2h-2.0zM470.9 530.9h1.2v1.2h-1.2zM462.1 527.7h1.2v0.9h-1.2zM470.1 528.6h1.2v1.2h-1.2zM458.9 535.0h2.0v1.6h-2.0zM461.4 536.2h1.2v1.6h-1.2zM465.5 538.0h1.2v1.6h-1.2zM470.8 530.4h0.9v1.6h-0.9zM469.0 532.9h1.2v0.9h-1.2zM467.7 539.4h1.2v1.2h-1.2zM468.0 527.1h0.9v0.9h-0.9zM470.1 527.1h1.2v1.6h-1.2zM470.5 528.9h1.2v0.9h-1.2zM465.7 525.9h2.0v1.2h-2.0zM465.3 540.9h0.9v1.6h-0.9zM464.9 527.1h2.0v1.6h-2.0zM461.4 538.3h2.0v1.2h-2.0zM456.8 527.1h1.6v1.2h-1.6zM467.9 525.9h1.2v1.2h-1.2zM456.2 527.7h0.9v1.2h-0.9zM461.4 538.3h1.2v1.2h-1.2zM462.2 526.8h1.2v1.2h-1.2zM471.0 530.1h1.6v1.2h-1.6zM453.3 531.0h1.6v1.2h-1.6zM468.1 536.1h1.2v1.2h-1.2zM461.2 536.4h1.6v1.6h-1.6zM460.2 527.2h2.0v0.9h-2.0zM454.1 527.2h0.9v1.2h-0.9zM465.6 528.2h1.6v1.2h-1.6zM468.6 526.4h2.0v1.6h-2.0zM461.4 537.9h1.2v0.9h-1.2zM466.2 539.1h1.6v1.6h-1.6zM466.1 537.4h1.2v0.9h-1.2zM470.9 530.0h0.9v1.6h-0.9zM467.7 534.5h1.6v0.9h-1.6zM464.8 526.9h0.9v1.6h-0.9zM452.2 529.9h1.2v0.9h-1.2zM463.8 540.1h2.0v0.9h-2.0zM465.3 540.3h0.9v1.6h-0.9zM466.2 527.2h2.0v1.2h-2.0zM463.1 527.3h1.6v0.9h-1.6zM453.7 530.7h1.2v0.9h-1.2zM468.2 534.4h2.0v1.2h-2.0zM465.4 537.3h1.6v1.2h-1.6zM465.6 540.0h1.6v1.2h-1.6zM460.0 537.4h0.9v1.2h-0.9zM470.9 528.2h2.0v1.6h-2.0zM466.1 526.9h2.0v1.6h-2.0zM455.7 534.3h2.0v1.2h-2.0zM465.4 538.6h2.0v1.6h-2.0zM464.1 539.4h2.0v1.2h-2.0zM459.7 537.4h0.9v1.6h-0.9zM451.7 526.9h1.6v0.9h-1.6zM462.4 537.6h0.9v1.2h-0.9zM466.5 539.1h1.6v1.2h-1.6zM471.3 529.9h1.2v0.9h-1.2zM468.7 535.8h2.0v1.6h-2.0zM470.7 526.9h0.9v1.6h-0.9zM468.6 535.9h0.9v1.6h-0.9zM461.8 527.1h1.2v1.6h-1.2z"/>
<path d="M68.8 293.8 L77.5 295.6 L78.8 300.1 L83.8 303.8 L81.3 310.1 L76.3 305.1 L71.3 303.8 L67.5 300.1Z"/>
<path d="M76.7 305.6h2.0v1.2h-2.0zM75.3 304.9h1.2v1.6h-1.2zM69.4 295.2h2.0v1.2h-2.0zM72.7 293.5h0.9v0.9h-0.9zM72.5 293.1h1.6v1.6h-1.6zM70.5 305.4h0.9v1.2h-0.9zM81.0 301.9h1.2v0.9h-1.2zM80.5 300.8h0.9v0.9h-0.9zM75.5 295.9h1.6v1.6h-1.6zM75.5 303.6h2.0v1.6h-2.0zM83.2 305.9h2.0v0.9h-2.0zM73.5 303.4h2.0v0.9h-2.0zM69.1 293.8h0.9v0.9h-0.9zM83.0 307.1h0.9v1.6h-0.9zM66.2 296.6h2.0v1.2h-2.0zM82.6 304.5h2.0v1.2h-2.0zM81.9 303.4h1.2v1.2h-1.2zM78.0 296.2h1.6v1.6h-1.6zM68.2 299.6h2.0v0.9h-2.0zM81.4 307.0h0.9v1.2h-0.9zM77.9 296.8h2.0v0.9h-2.0zM84.0 303.7h0.9v0.9h-0.9zM68.3 294.4h1.6v1.2h-1.6zM76.1 295.7h1.2v1.6h-1.2zM69.0 293.8h0.9v1.2h-0.9zM77.9 306.0h1.2v1.6h-1.2zM80.1 308.1h0.9v1.2h-0.9zM67.0 299.2h1.6v1.6h-1.6zM73.6 303.5h1.6v0.9h-1.6zM71.2 302.1h1.6v1.6h-1.6zM76.0 307.0h1.2v1.6h-1.2zM74.3 304.6h2.0v0.9h-2.0zM70.4 293.3h2.0v0.9h-2.0zM67.5 300.8h1.2v1.6h-1.2zM75.9 295.7h1.6v1.2h-1.6zM77.5 296.9h0.9v0.9h-0.9zM83.7 304.1h1.6v1.2h-1.6zM78.2 305.2h0.9v1.2h-0.9zM70.7 294.3h1.2v1.2h-1.2zM71.7 304.4h2.0v1.6h-2.0zM73.0 304.8h1.6v1.2h-1.6zM80.8 300.7h0.9v1.2h-0.9zM69.6 303.2h1.2v0.9h-1.2zM73.9 304.2h2.0v1.2h-2.0zM80.4 302.2h1.6v0.9h-1.6zM78.7 308.7h2.0v0.9h-2.0zM68.0 300.8h1.2v1.6h-1.2zM66.5 299.6h2.0v1.2h-2.0zM73.8 294.7h1.6v1.6h-1.6zM79.8 299.7h2.0v1.6h-2.0zM76.8 299.9h1.6v0.9h-1.6zM74.0 293.9h1.2v1.2h-1.2zM78.9 309.1h1.6v1.2h-1.6zM69.4 292.5h1.2v0.9h-1.2zM82.7 303.3h1.6v0.9h-1.6zM77.8 298.5h2.0v1.6h-2.0zM72.6 295.3h0.9v0.9h-0.9zM78.4 299.2h2.0v0.9h-2.0zM80.0 300.1h2.0v0.9h-2.0zM67.5 299.9h0.9v1.2h-0.9zM69.5 303.0h1.6v1.6h-1.6zM76.0 296.2h0.9v0.9h-0.9zM76.6 298.7h2.0v1.6h-2.0zM80.2 308.3h1.2v0.9h-1.2zM78.2 307.0h1.2v0.9h-1.2zM69.4 303.0h1.6v0.9h-1.6zM82.2 303.7h1.2v0.9h-1.2zM80.5 304.7h0.9v0.9h-0.9zM78.5 299.9h0.9v1.2h-0.9zM70.2 293.0h1.2v1.2h-1.2zM74.9 302.5h0.9v1.2h-0.9zM69.3 301.5h0.9v0.9h-0.9zM76.0 293.3h0.9v1.6h-0.9zM69.7 302.0h1.2v1.2h-1.2zM79.5 309.7h2.0v1.6h-2.0zM80.6 302.3h1.2v0.9h-1.2zM69.8 303.0h2.0v1.2h-2.0zM74.0 293.4h1.6v0.9h-1.6zM75.4 294.0h1.6v1.2h-1.6zM81.9 306.1h1.6v1.2h-1.6zM79.9 307.2h1.2v1.2h-1.2zM71.9 302.6h1.2v1.6h-1.2zM68.0 300.1h1.6v1.6h-1.6zM77.0 295.6h2.0v1.2h-2.0zM80.7 301.5h1.6v1.2h-1.6zM68.2 293.5h2.0v1.6h-2.0zM76.9 304.6h1.2v1.6h-1.2zM74.4 294.5h0.9v0.9h-0.9zM65.6 300.6h2.0v0.9h-2.0zM81.5 302.3h1.2v0.9h-1.2zM74.4 303.8h1.6v1.2h-1.6zM67.7 297.2h2.0v1.2h-2.0zM83.3 304.7h0.9v1.2h-0.9zM78.5 299.1h1.2v0.9h-1.2zM82.4 302.6h2.0v0.9h-2.0zM80.9 303.2h1.2v0.9h-1.2zM67.4 294.0h0.9v1.6h-0.9zM66.7 300.0h0.9v0.9h-0.9zM80.6 309.3h0.9v0.9h-0.9zM77.2 295.6h0.9v1.6h-0.9zM66.8 296.4h0.9v0.9h-0.9zM77.2 299.3h0.9v1.6h-0.9zM68.6 301.4h1.6v1.6h-1.6zM81.6 301.9h1.6v1.6h-1.6zM79.4 307.3h0.9v0.9h-0.9zM76.8 299.7h2.0v0.9h-2.0zM78.5 299.3h0.9v1.6h-0.9zM77.2 296.2h0.9v1.2h-0.9z"/>
</g>
<g fill="none" stroke="#f2f2f2" stroke-width="1.05" stroke-linejoin="round">
<path stroke-width="1.0" stroke="#e4e4e4" d="M238.8 76.5 L280.1 79.3 M280.1 79.3 L320.2 81.5 M320.2 81.5 L363.0 83.5 M363.0 83.5 L358.9 181.9 M608.8 250.1 L609.6 282.6 M609.6 282.6 L610.1 317.1 M68.8 292.1 L220.2 306.3 M220.2 306.3 L238.8 76.5"/>
<path stroke-width="1.15" stroke="#ffffff" d="M358.9 181.9 L361.5 183.2 L363.0 184.3 L364.0 185.9 L365.8 186.3 L366.6 188.2 L368.2 188.9 L370.3 189.5 L371.2 191.5 L372.7 192.7 L374.6 192.1 L376.5 192.2 L379.0 193.9 L380.4 191.9 L382.7 191.4 L385.2 189.7 L386.5 191.2 L387.7 192.7 L389.8 194.0 L390.2 196.4 L390.8 198.1 L391.9 199.5 L391.5 201.4 L394.0 203.2 L395.8 202.1 L397.7 202.7 L400.0 202.6 L401.7 203.4 L403.0 205.1 L405.0 205.6 L407.0 205.5 L408.5 206.4 L410.0 207.6 L411.8 207.1 L413.7 207.1 L415.0 205.6 L416.6 207.2 L418.5 208.4 L420.0 210.1 L422.1 210.1 L423.0 207.6 L425.0 207.6 L426.4 209.0 L428.6 208.9 L430.0 210.1 L431.3 208.7 L432.8 207.9 L434.6 207.5 L436.3 207.1 L436.6 209.2 L438.5 210.5 L438.8 212.6 L439.9 213.9 L441.1 215.3 L442.6 216.3 L443.6 217.9 L444.1 219.7 L445.1 221.3 L446.5 220.1 L448.2 219.7 L450.1 220.1 L450.9 218.4 L452.8 217.8 L453.8 216.3 L455.5 216.6 L457.2 216.8 L458.8 217.6 L460.0 219.0 L461.4 220.0 L462.6 221.3 L464.3 220.8 L466.2 221.7 L468.0 221.4 L469.7 220.4 L471.5 221.0 L473.3 220.7 L475.1 220.6 L475.3 222.5 L476.4 223.8 L477.6 225.1 L479.1 226.0 L480.1 227.6 L481.6 226.3 L480.6 224.0 L481.8 222.5 L483.1 221.1 L482.6 219.0 L483.9 217.6 L486.4 218.8 L487.0 220.7 L487.6 222.6 L489.2 221.1 L491.4 221.3 L492.9 222.5 L494.5 223.5 L496.4 223.8 L497.7 222.7 L498.9 221.3 L499.6 223.1 L501.6 223.6 L502.6 225.1 L504.2 225.9 L505.9 226.1 L507.6 226.3 L508.8 227.9 L510.2 229.1 L511.4 230.6 L513.2 229.1 L514.6 227.4 L515.1 225.1 L516.8 224.6 L518.6 224.6 L520.2 223.8 L521.6 222.6 L523.6 223.4 L525.2 222.6 L526.9 222.5 L528.7 222.7 L530.2 221.3 L530.0 223.8 L532.3 223.5 L534.0 221.7 L536.3 221.3 L537.7 220.3 L539.5 219.9 L540.5 218.0 L542.5 218.0 L544.4 219.6 L546.3 221.3 L548.4 220.6 L550.4 220.5 L552.5 221.3 L553.1 219.3 L555.4 218.8 L556.3 217.0 L558.2 216.9 L559.8 217.7 L561.3 218.8 L563.0 219.9 L564.0 221.9 L566.5 221.9 L567.5 223.8 L569.2 224.8 L570.6 226.0 L571.8 227.6 L573.8 228.0 L575.1 229.4 L576.6 230.3 L578.7 230.1 L580.1 231.3 L582.0 231.8 L583.9 232.3 L585.5 233.9 L587.6 233.8 L589.0 235.5 L591.6 235.0 L593.5 236.0 L595.1 237.5 L597.1 236.8 L599.2 236.7 L601.3 237.0 L603.6 237.0 L605.8 237.2 L608.1 237.0 L608.7 238.9 L609.3 240.7 L608.6 242.6 L608.8 244.5 L608.5 246.4 L607.8 248.3 L608.8 250.1 M610.1 317.1 L612.7 317.5 L614.4 318.9 L614.5 321.4 L616.5 322.5 L618.1 324.1 L618.0 326.5 L620.0 327.8 L620.2 330.0 L620.5 332.6 L619.7 335.0 L620.0 337.2 L622.3 337.8 L622.7 339.9 L624.0 341.3 L624.9 343.3 L625.7 345.4 L626.5 347.5 L626.9 349.2 L627.9 350.7 L627.7 352.6 L628.5 354.6 L630.9 355.4 L631.5 357.6 L632.6 359.1 L633.6 360.6 L633.2 362.6 L633.6 364.5 L633.2 366.3 L632.1 368.1 L632.7 370.1 L632.6 371.8 L632.7 373.6 L631.5 375.1 L631.5 377.3 L629.7 379.1 L630.2 381.3 L630.0 383.4 L628.2 384.3 L627.6 386.2 L626.5 387.6 L625.8 389.6 L626.0 391.8 L625.2 393.9 L625.3 396.0 L626.1 398.0 L626.5 400.1 L625.8 402.1 L624.9 404.1 L625.2 406.4 L625.5 408.5 L626.8 410.4 L626.5 412.6 L626.5 415.0 L624.0 416.5 L624.0 418.9 L623.1 420.5 L622.6 422.3 L620.4 423.1 L620.2 425.1 L619.2 426.7 L618.1 428.3 L617.7 430.2 L618.4 431.9 L620.5 432.4 L621.5 433.9 L619.5 435.0 L617.0 434.9 L615.2 436.4 L613.5 437.2 L611.6 437.3 L609.9 438.2 L608.0 438.4 L606.2 439.0 L604.4 439.4 L602.7 440.2 L601.0 440.6 L599.4 441.4 L597.8 442.2 L596.1 442.9 L594.4 443.3 L592.7 443.9 L591.0 444.3 L589.4 445.0 L587.7 445.2 L586.0 446.2 L584.7 447.7 L583.1 448.8 L581.8 450.3 L580.2 451.4 L578.8 452.8 L577.4 454.2 L575.7 455.3 L574.3 456.5 L572.7 457.7 L571.4 459.0 L570.2 460.2 L568.8 461.3 L567.5 462.5 L566.5 464.1 L565.2 465.2 L563.9 466.5 L562.8 467.8 L561.3 468.9 L559.9 470.0 L559.0 471.6 L557.6 472.7 L556.1 473.6 L554.9 474.9 L553.5 476.2 L551.8 476.9 L550.6 478.1 L549.2 479.3 L547.6 480.2 L547.2 480.0 L545.7 480.9 L544.2 481.8 L542.6 482.5 L541.0 483.4 L539.4 484.2 L537.8 484.9 L536.3 485.9 L534.7 486.7 L533.1 487.8 L531.4 488.8 L529.7 489.7 L527.9 490.4 L526.3 491.5 L524.4 492.2 L522.8 493.3 L521.4 494.2 L519.8 495.1 L518.2 495.8 L517.1 497.2 L515.6 498.2 L514.1 499.0 L512.5 499.8 L511.0 500.7 L509.5 501.6 L508.0 502.4 L506.6 503.6 L505.1 504.4 L503.4 505.3 L502.3 506.9 L500.5 507.6 L499.2 508.8 L497.8 510.0 L496.1 510.7 L494.9 512.2 L493.1 512.8 L491.8 514.0 L490.2 515.2 L488.6 516.5 L487.3 518.0 L486.0 519.5 L484.4 520.7 L483.0 521.8 L482.0 523.4 L481.0 524.8 L479.6 526.0 L478.5 527.3 L477.4 528.8 L476.4 530.3 L475.5 531.9 L474.5 533.4 L473.3 534.7 L472.8 536.5 L472.4 538.3 L471.9 540.0 L471.0 541.7 L469.8 543.1 L468.6 544.6 L467.6 546.2 L466.5 548.0 L465.8 549.9 L464.9 551.8 L463.9 553.6 L463.7 555.5 L463.4 557.3 L463.1 559.2 L462.6 561.0 L462.7 562.9 L462.9 564.7 L462.5 566.6 L462.6 568.4 L462.8 570.2 L463.1 571.9 L463.7 573.6 L463.7 575.3 L463.9 577.1 L464.3 578.8 L464.9 580.5 L464.7 582.3 L465.2 584.0 L465.7 585.7 L466.2 587.5 L466.6 589.2 L467.4 590.9 L467.9 592.6 L468.2 594.4 L468.6 596.1 L468.8 597.9 L469.2 599.6 L470.0 601.2 L470.1 603.0 L470.2 604.8 L470.3 606.5 L470.7 608.3 L470.8 610.0 L471.3 611.7 L471.2 613.6 L471.8 615.4 L471.9 617.2 L471.9 619.1 L472.2 621.6 L472.5 624.1 L469.7 625.7 L468.0 626.3 L466.7 627.4 L465.2 628.2 L463.4 628.6 L461.8 629.3 L460.2 630.2 L458.5 629.4 L456.9 628.5 L455.2 627.7 L454.6 625.8 L453.1 624.8 L451.1 624.2 L450.2 622.7 L448.8 621.2 L446.5 621.6 L445.1 620.2 L443.2 620.3 L441.5 619.0 L439.6 619.1 L437.6 619.7 L435.7 619.9 L433.8 619.7 L432.0 618.9 L430.1 618.9 L428.4 617.9 L426.4 617.9 L424.6 617.1 L422.6 617.7 L420.9 616.3 L419.1 615.2 L417.1 614.7 L415.1 613.9 L413.1 613.2 L411.3 612.2 L409.5 611.1 L407.6 610.2 L405.7 609.2 L404.1 607.7 L401.8 607.8 L400.1 606.4 L397.9 606.6 L396.5 604.7 L394.3 605.0 L392.6 603.9 L390.9 603.2 L389.1 603.0 L388.2 600.9 L386.3 600.7 L384.4 600.0 L382.8 599.0 L381.3 597.7 L381.7 595.6 L380.8 593.7 L380.1 591.7 L381.1 589.6 L380.1 587.6 L379.1 586.0 L378.3 584.3 L378.7 582.0 L377.6 580.4 L376.3 578.9 L375.4 577.3 L373.5 576.7 L373.0 574.7 L371.4 573.7 L370.1 572.6 L370.4 570.6 L369.2 568.9 L369.7 566.9 L368.8 565.1 L368.9 563.2 L367.6 561.7 L367.6 559.8 L367.3 558.0 L366.3 556.4 L366.8 554.1 L366.3 552.0 L365.0 550.1 L366.2 548.4 L365.6 546.1 L367.1 544.5 L367.5 542.6 L366.6 540.7 L364.4 539.7 L363.8 537.6 L361.7 536.8 L359.9 535.2 L357.5 535.1 L356.9 533.3 L355.6 532.0 L353.2 531.9 L352.7 529.9 L351.3 528.8 L350.9 526.9 L349.5 525.7 L348.0 524.5 L346.5 523.3 L346.3 521.3 L346.1 519.1 L345.0 517.2 L343.7 515.5 L342.5 513.8 L341.1 512.4 L340.5 510.3 L339.3 508.7 L337.5 507.5 L336.9 505.8 L335.7 504.4 L334.2 503.2 L333.2 501.8 L332.5 500.0 L331.6 498.3 L330.9 496.4 L330.7 494.4 L330.0 492.5 L330.9 494.2 L329.7 496.0 L330.3 497.6 L329.5 496.1 L328.8 494.5 L328.5 492.8 L328.4 491.0 L328.0 489.3 L327.7 487.6 L327.6 485.8 L325.7 484.6 L325.4 482.8 L324.9 481.1 L324.0 479.5 L324.0 477.6 L323.4 475.6 L321.3 474.5 L320.2 472.8 L320.1 470.6 L319.0 468.9 L318.9 467.0 L318.6 465.2 L317.6 463.6 L316.7 461.9 L316.5 460.1 L316.1 458.2 L314.9 456.8 L313.4 455.6 L312.6 454.0 L311.5 452.6 L310.8 450.7 L309.7 449.4 L308.3 448.2 L306.0 448.1 L305.2 446.3 L303.5 445.3 L302.1 444.0 L300.3 443.1 L299.5 440.9 L297.7 440.1 L295.6 439.5 L295.2 437.0 L293.3 436.2 L291.8 434.9 L290.2 433.8 L289.1 432.3 L289.1 430.2 L287.5 429.0 L286.4 427.6 L285.0 425.6 L282.7 425.1 L280.3 424.0 L277.7 424.6 L275.9 423.8 L274.1 422.9 L272.0 423.4 L270.2 423.1 L268.3 423.2 L266.5 422.1 L264.5 422.6 L262.7 422.6 L260.7 422.6 L259.0 421.6 L257.0 421.7 L255.2 421.3 L252.8 421.2 L251.2 419.0 L248.9 418.8 L247.2 418.4 L245.8 417.0 L243.9 417.5 L242.3 418.4 L240.3 418.7 L239.4 420.7 L237.6 421.3 L235.9 422.3 L233.9 422.1 L231.9 422.1 L230.1 423.1 L228.4 424.1 L227.4 425.9 L226.4 427.6 L226.1 429.5 L224.7 430.8 L224.4 432.7 L222.6 433.8 L221.9 435.8 L219.9 437.2 L220.1 439.6 L218.9 441.3 L217.9 443.1 L217.4 445.0 L217.7 447.2 L216.4 448.8 L214.6 449.8 L213.8 452.0 L212.1 453.1 L210.1 453.8 L208.7 455.3 L208.2 457.4 L205.6 458.0 L205.1 460.1 L203.2 459.7 L201.4 458.8 L199.7 457.7 L197.6 458.1 L195.6 457.7 L195.0 455.1 L192.4 455.7 L191.3 453.8 L190.0 452.4 L188.5 451.1 L187.4 449.3 L185.1 449.1 L183.8 447.6 L182.8 445.8 L181.0 445.3 L179.3 444.6 L177.4 444.1 L176.3 442.6 L174.3 442.0 L172.7 440.8 L170.9 439.8 L169.2 438.8 L167.5 437.6 L166.4 436.1 L164.4 435.8 L163.2 434.4 L161.0 434.3 L160.0 432.6 L158.3 431.8 L157.8 429.8 L156.8 428.3 L154.8 427.8 L153.8 426.3 L151.9 425.7 L150.9 424.2 L149.8 422.8 L148.6 421.5 L147.5 420.1 L146.7 418.1 L145.3 416.5 L145.0 414.3 L143.8 412.5 L143.8 410.6 L143.3 408.9 L142.7 407.2 L141.9 405.5 L141.3 403.8 L140.9 402.0 L142.2 400.3 L141.3 398.5 L142.6 396.8 L142.0 395.0 L141.4 393.2 L141.3 391.2 L140.5 389.4 L140.0 387.5 L139.4 385.8 L137.9 384.7 L137.4 382.9 L136.8 381.3 L135.5 380.0 L136.3 382.7 L135.7 380.7 L135.7 378.5 L135.1 376.4 L134.2 374.4 L133.4 372.3 L132.6 370.2 L131.2 369.1 L130.2 367.6 L129.1 366.1 L127.6 365.2 L125.6 364.4 L124.0 363.2 L123.3 360.9 L121.3 360.2 L119.3 359.9 L118.5 357.8 L116.9 356.9 L115.1 356.4 L113.4 355.3 L112.8 353.2 L110.9 352.2 L110.6 349.9 L108.8 348.9 L107.4 347.5 L106.5 345.9 L106.3 343.9 L104.4 343.3 L104.1 341.1 L102.1 340.5 L101.0 339.1 L100.1 337.6 L99.8 335.6 L98.3 334.4 L97.3 333.0 L96.0 331.7 L95.1 330.2 L93.8 328.9 L91.8 328.3 L91.7 325.9 L90.0 325.1 L88.3 324.1 L87.4 322.1 L85.2 321.5 L83.8 320.1 L83.5 318.1 L81.0 317.5 L81.8 314.9 L80.0 313.9 L78.4 312.1 L78.4 309.7 L77.5 307.6 L75.6 306.4 L73.8 305.1 L72.5 303.4 L70.6 303.0 L68.8 302.6 L68.3 300.2 L66.3 298.8 L67.1 297.0 L66.3 295.1 L67.4 293.5 L68.8 292.1"/>
<path d="M505.1 502.2 L496.2 507.4 L488.8 513.3 L481.4 520.7 L476.2 527.3 L471.1 534.7 L463.3 540.0 L461.4 547.4 L460.2 556.1 L459.3 564.7 L458.3 573.4 L457.7 582.0 L458.9 589.4 L461.4 598.1 L463.9 606.7 L465.7 614.2 L467.0 619.1 L471.9 620.3"/>
<path d="M461.4 594.4 L467.6 593.2"/>
<path d="M457.7 582.0 L463.3 579.6"/>
<path d="M467.0 543.7 L463.9 551.1 L462.0 558.5 L461.0 564.7"/>
<path d="M445.3 557.3 L448.4 556.1 L446.6 552.4 L449.7 554.8 L453.4 555.5 L457.1 552.4 L455.8 556.7 L459.6 556.1 L460.2 558.5 L455.8 559.8 L450.9 559.2 L446.6 558.5 L445.3 557.3"/>
<path d="M505.1 504.4 L505.8 502.2 L503.6 501.4 L499.2 503.7 L494.0 505.9 L490.3 503.7 L491.0 500.0 L489.6 497.0 L487.3 497.8 L486.6 500.7 L488.8 504.4 L490.3 508.8 L487.3 511.8 L484.4 509.6 L482.2 511.8 L483.6 514.8 L480.7 517.0 L477.7 514.0 L474.0 514.8 L470.3 517.0 L471.8 519.9 L475.5 519.2 L478.5 518.5 L477.0 522.9 L474.8 525.9 L472.5 528.8"/>
<path d="M471.8 529.6 L468.1 527.3 L462.2 527.3 L456.3 528.1 L459.2 531.0 L464.4 532.5 L468.8 536.2"/>
<path d="M570.1 437.1 L571.9 435.8 L574.4 434.6 L576.2 432.1 L580.0 430.9 L583.0 431.5 L583.7 434.6 L582.4 439.6 L580.0 442.6 L580.6 443.9 L585.5 442.6 L589.2 442.0 L591.1 443.3 L588.6 445.1 L584.3 446.4 L581.8 448.8 L579.3 451.9 L576.2 453.8 L574.4 455.6 L570.7 458.1 L567.0 460.6 L563.3 461.2 L562.6 464.3 L563.9 466.1 L567.0 464.3 L570.7 460.6 L574.4 457.5 L578.1 454.4 L581.8 450.7 L585.5 447.6 L589.2 445.7 L592.9 443.3"/>
<path d="M570.1 437.1 L570.7 440.8 L572.5 442.6 L573.2 446.4 L575.0 449.4 L576.2 453.2"/>
<path d="M620.0 426.6 L617.7 427.8 L617.0 430.3 L618.9 432.8 L620.0 433.1"/>
</g>
<defs>
<clipPath id="c0"><rect x="0" y="0" width="400" height="220"/></clipPath>
<clipPath id="c1"><rect x="230" y="220" width="170" height="120"/><rect x="400" y="324" width="40" height="16"/><rect x="200" y="340" width="100" height="60"/></clipPath>
<clipPath id="c2"><rect x="400" y="0" width="130" height="235"/><rect x="400" y="235" width="40" height="89"/></clipPath>
<clipPath id="c3"><rect x="440" y="235" width="90" height="75"/></clipPath>
<clipPath id="c4"><rect x="530" y="0" width="281" height="310"/></clipPath>
<clipPath id="c5"><rect x="440" y="310" width="371" height="90"/><rect x="440" y="400" width="80" height="84"/><rect x="620" y="400" width="191" height="84"/></clipPath>
<clipPath id="c6"><rect x="520" y="400" width="100" height="84"/></clipPath>
<clipPath id="c7"><rect x="300" y="340" width="140" height="144"/></clipPath>
<clipPath id="c8"><rect x="0" y="484" width="811" height="212"/></clipPath>
</defs>
<g fill="none" stroke="#ff0008" stroke-opacity="0.82" stroke-width="1.75" stroke-linejoin="round" stroke-linecap="round">
<g clip-path="url(#c0)">
<path d="M338.9 81.8 L336.2 81.2 L333.4 81.1 L330.7 81.3 L327.9 81.2 L325.2 80.8 L321.8 80.3 L318.5 79.9 L315.1 79.3 L311.7 78.6 L308.1 78.5 L305.1 81.5 L302.1 83.5 L298.9 85.0 L296.8 86.9 L294.6 88.6 L292.6 90.5 L290.2 92.5 L288.4 95.0 L288.1 98.4 L288.1 101.7 L287.6 105.1 L286.9 107.9 L286.6 110.9 L286.4 113.8 L283.4 115.6 L283.3 119.1 L282.6 122.6 L281.2 124.9 L280.6 127.6 L279.6 131.3 L279.6 135.1 L278.8 139.6"/>
<path d="M247.6 139.1 L251.3 140.6 L256.3 140.6 L258.6 139.0 L261.3 138.1 L266.3 137.6 L269.5 137.7 L272.6 137.1 L275.6 138.6 L278.8 139.6 L281.9 138.6 L285.1 138.1 L287.9 137.8 L290.7 137.5 L293.6 137.5 L296.4 137.1 L299.2 137.6 L302.1 136.9 L305.0 137.0 L307.8 138.0 L310.7 137.7 L313.5 138.2 L316.4 138.1 L319.7 138.3 L322.7 139.6 L326.4 139.8 L330.2 140.1 L333.9 140.6 L337.7 140.6 L340.9 142.0 L343.9 143.9 L345.5 146.1 L347.7 147.6 L347.5 151.4 L348.2 155.1 L347.7 160.1 L348.8 163.8 L348.9 167.6 L349.6 170.9 L349.2 174.3 L349.4 177.6 L349.1 181.4 L349.7 185.2 L350.2 190.2 L353.9 192.7 L357.1 194.4 L360.2 196.4 L362.9 198.0 L365.2 200.2 L370.2 201.4 L370.5 204.3 L371.2 207.2 L371.0 210.2 L371.3 213.5 L371.0 216.9 L371.0 220.2 L371.1 223.0 L371.5 225.7 L371.6 228.4 L371.7 231.2 L371.5 234.0"/>
<path d="M338.4 127.6 L337.7 130.8 L335.0 131.2 L332.7 132.6 L329.9 133.4 L327.7 135.1 L325.5 137.7 L322.7 139.6 L322.2 143.9 L320.7 147.6 L320.2 150.1"/>
<path d="M278.8 139.6 L275.1 140.1 L271.3 140.1 L268.8 141.3 L266.3 142.6 L265.1 147.6 L265.0 151.4 L264.6 155.1 L264.1 158.9 L263.8 162.6 L262.6 167.1 L265.6 170.1 L267.2 172.7 L269.5 174.9 L271.3 177.3 L272.6 180.2 L275.1 183.2 L277.5 184.5 L280.1 185.2 L283.9 185.9 L287.6 187.2 L291.4 187.1 L295.1 187.7 L298.2 188.5 L301.4 188.2"/>
<path d="M303.9 144.6 L304.2 147.2 L304.3 149.9 L304.0 152.5 L303.9 155.1 L304.6 160.1 L305.1 163.1 L303.1 167.6 L302.6 172.6 L302.1 177.6 L301.4 182.7 L301.5 185.4 L300.9 188.2 L301.4 192.7 L301.9 195.8 L301.4 198.9"/>
<path d="M301.4 190.2 L304.5 190.9 L307.6 191.4 L312.6 192.2 L317.6 192.7 L322.7 192.7 L326.4 193.2 L330.2 193.2 L333.5 193.7 L336.8 194.2 L340.2 193.9 L343.5 194.2 L346.9 194.4 L350.2 193.9 L355.2 193.2 L357.9 193.7 L360.2 195.2 L362.7 196.4 L365.0 198.1 L367.7 198.9 L370.1 200.3 L372.5 201.8 L375.2 202.7 L378.7 203.1 L381.9 204.3 L385.2 205.2 L389.0 205.5 L392.7 206.4 L396.2 206.1 L399.6 205.7 L403.0 205.2"/>
<path d="M279.6 214.7 L282.3 214.9 L285.0 214.9 L287.6 214.4 L291.4 214.2 L295.1 213.9 L298.5 213.9 L301.8 213.9 L305.1 214.7 L308.0 214.9 L310.9 214.8 L313.7 215.2 L316.6 214.8 L319.4 215.3 L322.3 214.9 L325.2 215.2 L330.2 215.7 L331.4 220.2 L333.9 222.7 L337.0 223.0 L340.2 222.7 L342.7 220.2 L343.2 215.7 L346.7 215.7 L350.2 215.2 L354.0 215.7 L357.7 216.4 L360.2 217.7 L365.2 216.4 L369.0 216.1 L372.7 215.7 L375.3 215.1 L377.6 213.7 L380.2 213.2 L382.8 212.2 L385.4 211.5 L387.7 210.2 L390.8 208.7 L394.0 207.7"/>
<path d="M360.2 216.4 L362.6 215.5 L365.1 214.6 L367.8 214.4 L370.1 213.0 L372.7 212.7 L375.8 212.4 L379.0 211.9 L382.1 211.3 L385.2 211.4 L387.7 210.6 L390.1 209.3 L392.7 208.9 L395.3 208.2 L397.8 207.2 L400.3 206.6 L403.0 206.4"/>
<path d="M380.2 234.0 L380.9 231.1 L382.6 228.5 L382.7 225.4 L384.0 222.7 L385.8 219.9 L386.9 216.6 L389.0 213.9 L390.4 211.7 L392.8 210.1 L394.0 207.7"/>
</g>
<g clip-path="url(#c1)">
<path d="M315.1 232.0 L315.1 234.7 L314.3 237.4 L313.9 240.0 L313.1 243.3 L312.8 246.7 L312.6 250.0 L311.9 253.3 L311.8 256.7 L311.4 260.1 L310.6 263.8 L310.6 267.6"/>
<path d="M326.4 220.0 L328.9 222.0 L331.8 222.3 L334.7 222.0 L337.6 222.5 L340.4 221.7 L342.6 220.0"/>
<path d="M368.9 220.0 L369.6 223.3 L369.3 226.7 L369.7 230.0 L370.2 233.3 L369.8 236.7 L370.2 240.0 L371.3 242.6 L372.7 245.0 L373.4 248.8 L373.9 252.5 L373.4 256.3 L373.2 260.1"/>
<path d="M383.9 220.0 L382.7 222.4 L382.5 225.0 L381.5 227.4 L380.7 229.9 L380.2 232.5 L379.7 235.6 L379.1 238.6 L377.8 241.5 L377.6 244.6 L376.4 247.5 L375.9 250.7 L374.8 253.7 L374.2 256.8 L373.9 260.1"/>
<path d="M330.1 267.6 L333.5 267.6 L336.9 267.1 L340.1 266.3 L343.5 266.8 L346.8 266.5 L350.2 267.1 L353.5 267.0 L356.8 267.6 L360.2 267.6 L362.9 266.3 L365.1 264.1 L367.8 262.7 L370.8 261.9 L373.2 260.1 L376.2 259.5 L379.2 260.0 L382.2 259.5 L385.2 259.5 L388.2 259.7 L391.2 259.8 L394.2 259.5 L397.2 259.2 L400.2 259.3 L403.2 259.0 L406.2 259.2 L409.2 259.1 L412.2 258.8 L415.2 258.8 L418.3 256.9 L421.5 255.0 L424.4 253.8 L427.1 252.3 L430.0 251.0 L433.0 250.0"/>
<path d="M251.3 317.6 L254.1 317.0 L256.6 315.4 L259.5 314.8 L262.3 313.9 L264.8 312.2 L267.5 311.4 L270.1 310.8 L272.5 309.4 L274.9 308.4 L277.5 307.7 L280.2 307.2 L282.4 305.7 L285.1 305.4 L287.5 304.2 L290.0 303.1 L292.6 302.6 L295.1 301.5 L297.5 300.5 L300.1 299.6 L302.7 299.0 L305.3 298.0 L307.5 296.3 L310.3 296.1 L312.6 294.7 L315.3 294.1 L317.6 292.6 L320.3 291.5 L322.6 289.8 L325.0 288.1 L327.9 287.4 L330.4 286.0 L332.7 284.3 L334.9 282.4 L337.6 281.3 L340.3 280.2 L342.8 278.7 L345.4 277.4 L347.9 276.1 L350.4 274.6 L352.8 273.0 L355.2 271.3 L357.6 269.6 L360.2 268.2 L362.7 266.6 L365.2 265.1 L368.2 263.6 L371.1 261.8 L373.9 260.1"/>
<path d="M283.8 273.8 L286.6 275.3 L289.5 276.7 L292.6 277.6 L295.8 277.7 L298.7 279.3 L301.9 279.8 L305.1 280.1 L308.3 279.9 L311.3 281.0 L314.4 281.3 L317.6 281.3"/>
<path d="M283.8 273.8 L283.5 277.0 L282.6 280.1 L281.2 282.5 L279.6 284.8 L278.8 287.6 L277.6 292.6"/>
<path d="M285.1 276.3 L285.9 279.2 L285.6 282.2 L286.3 285.1 L286.8 287.7 L288.1 290.0 L288.8 292.6 L290.3 295.0 L291.6 297.4 L292.6 300.1 L293.8 303.9"/>
<path d="M415.2 258.8 L412.9 260.5 L410.2 261.8 L407.7 263.1 L405.4 265.0 L402.7 266.1 L400.2 267.6 L397.4 268.9 L395.2 271.0 L392.7 272.8 L390.0 274.3 L387.7 276.3"/>
<path d="M384.7 290.1 L387.1 292.2 L390.1 293.3 L392.7 295.1 L395.0 296.7 L397.8 297.3 L400.2 298.8 L402.7 300.1 L405.2 301.1 L407.4 302.6 L409.7 303.9"/>
<path d="M350.2 308.1 L352.7 311.4 L354.9 314.1 L357.7 316.4 L359.6 318.3 L360.6 320.8 L362.7 322.6 L364.5 325.1 L366.4 327.6 L369.6 329.4 L372.7 331.4 L375.1 333.4 L377.7 335.1 L382.7 335.6 L383.2 338.9"/>
<path d="M345.1 313.9 L343.9 317.0 L342.6 320.1 L341.6 322.6 L340.8 325.1 L340.1 327.6 L339.5 330.5 L338.9 333.4 L338.9 336.4"/>
<path d="M323.9 343.9 L324.6 340.6 L326.4 337.6 L329.6 337.0 L332.6 335.6 L335.7 336.3 L338.9 336.4 L342.0 337.2 L344.7 338.9 L347.6 340.2 L350.2 340.7 L352.5 342.2 L355.2 342.7 L357.8 343.2 L360.5 342.8 L363.2 343.2 L365.9 342.8 L368.7 342.1 L371.4 341.4 L374.2 341.1 L376.9 340.5 L379.7 340.2 L382.3 340.0 L385.0 340.4 L387.6 340.0 L390.2 339.6 L393.2 338.5 L396.4 338.2 L399.7 338.3 L402.7 337.1 L405.1 338.4 L407.7 339.3 L410.2 340.2 L412.6 342.0 L415.1 343.7 L417.7 345.2 L420.5 347.4 L422.7 350.2 L423.7 352.6 L424.6 355.1 L425.2 357.7 L427.2 359.5 L428.4 362.0 L430.3 363.9 L433.0 365.2"/>
<path d="M402.7 337.1 L403.1 333.6 L404.0 330.1 L405.8 328.1 L408.3 326.9 L410.2 325.1 L412.6 323.3 L415.3 322.1 L417.5 320.1 L420.2 318.9 L423.1 317.2 L425.4 314.8 L427.7 312.6 L430.2 309.9 L433.0 307.6"/>
<path d="M323.9 343.9 L323.2 346.8 L323.7 349.8 L323.1 352.7 L324.5 356.3 L325.1 360.2 L326.8 362.5 L327.6 365.2 L328.6 367.8 L330.1 370.2 L332.3 373.0 L335.1 375.2 L337.3 377.5 L340.1 378.9 L342.5 381.0 L345.1 382.7 L345.8 385.3 L346.6 387.8 L347.6 390.2 L350.2 394.0"/>
<path d="M251.3 317.6 L251.8 320.2 L252.8 322.7 L253.8 325.1 L254.0 328.5 L255.2 331.7 L255.0 335.1 L255.3 338.1 L255.6 341.0 L256.3 343.9 L257.6 346.4 L258.8 348.9 L256.3 350.8 L253.8 352.7 L252.1 354.7 L250.0 356.4 L251.3 360.2 L254.4 360.7 L257.5 361.4 L260.9 361.8 L264.2 362.3 L267.5 362.2 L270.7 362.5 L273.8 362.6 L276.9 362.7 L280.1 363.2 L283.2 363.3 L286.3 362.7 L289.4 362.3 L292.6 362.7 L295.7 362.6 L298.8 362.4 L302.0 362.7 L305.1 362.2 L308.2 362.0 L311.4 362.1 L314.5 361.7 L317.6 361.7 L320.9 362.0 L324.3 361.9 L327.6 362.7"/>
<path d="M370.2 330.1 L370.0 333.5 L369.7 336.9 L368.9 340.2 L368.7 342.9 L368.7 345.7 L368.1 348.4 L368.2 351.2 L367.4 353.9 L367.2 356.7 L366.9 359.4 L367.0 362.1 L366.4 364.8 L367.1 367.5 L366.4 370.2 L366.1 373.3 L366.9 376.4 L367.4 379.6 L367.2 382.7 L367.4 385.5 L367.5 388.3 L368.1 391.1 L367.7 394.0"/>
<path d="M251.3 317.6 L247.5 317.1 L243.8 317.1 L243.0 313.1 L245.6 311.4 L248.3 309.9 L251.3 308.9 L254.2 307.9 L257.2 307.5 L260.0 306.4 L263.4 306.5 L266.7 307.4 L270.1 307.4 L272.7 307.0 L275.3 306.4 L278.0 306.0 L280.6 305.4 L283.1 304.6 L285.6 303.7 L288.2 303.1 L290.6 302.1 L293.1 301.1 L295.8 300.4 L298.3 299.1 L301.1 298.5 L303.8 297.7 L306.7 297.7 L309.4 297.1 L311.9 295.7 L314.7 295.4 L317.4 294.3"/>
</g>
<g clip-path="url(#c2)">
<path d="M400.0 206.3 L403.5 206.7 L406.8 207.7 L410.0 208.8 L413.3 209.9 L416.8 210.1 L420.0 211.3 L422.4 212.6 L425.1 213.0 L427.7 213.6 L430.0 215.1 L432.0 217.2 L434.1 219.2 L436.1 221.3 L437.5 223.8 L438.8 227.6"/>
<path d="M400.0 210.1 L402.2 211.9 L403.7 214.2 L405.8 216.2 L407.3 218.5 L408.7 221.0 L410.6 223.1 L412.5 225.1 L414.1 227.3 L415.4 229.6 L417.3 231.6 L418.4 234.1 L420.2 236.1 L422.2 238.0 L423.4 240.5 L425.0 242.6 L427.1 244.7 L429.2 246.8 L431.5 248.7 L433.2 251.1 L435.7 252.8 L437.5 255.1 L439.5 257.1 L441.3 259.2 L443.1 261.4 L445.0 263.5 L446.3 266.0 L448.1 268.1 L450.1 270.2 L452.4 272.3 L453.8 275.2 L456.1 277.4 L457.6 280.2 L460.0 282.8 L462.6 285.2"/>
<path d="M415.0 250.1 L417.8 250.4 L420.7 250.3 L423.5 250.0 L426.3 249.8 L429.1 250.3 L431.9 250.6 L434.7 250.0 L437.5 250.1 L440.4 250.7 L443.4 250.0 L446.3 250.8 L449.3 250.6 L452.1 251.2 L455.1 251.4 L457.8 251.2 L460.5 251.2 L463.2 250.5 L466.0 250.6 L468.6 249.7 L471.3 249.6"/>
<path d="M400.0 261.4 L402.3 260.0 L405.1 259.9 L407.5 258.7 L410.0 257.6 L413.3 257.2 L416.7 257.6 L420.0 257.1 L422.6 258.1 L425.1 259.2 L427.8 259.8 L430.4 260.8 L433.0 261.4 L435.8 262.1 L438.7 262.1 L441.6 262.2 L444.3 263.5 L447.3 263.1 L450.1 263.9 L453.1 264.2 L456.0 264.9 L459.1 264.5 L462.1 264.6 L465.1 265.1 L468.8 264.4 L472.6 263.9"/>
<path d="M400.0 267.6 L402.5 266.3 L404.8 264.7 L407.6 264.0 L409.8 262.3 L412.5 261.4 L415.0 260.1"/>
<path d="M471.3 242.6 L471.4 246.4 L471.3 250.1 L472.6 255.1"/>
<path d="M471.3 242.6 L474.0 241.9 L476.6 242.1 L479.3 242.4 L482.0 242.4 L484.7 242.3 L487.3 242.2 L489.9 241.2 L492.6 241.4 L494.7 244.4 L496.4 247.6 L500.1 250.1 L503.9 250.4 L507.6 250.6"/>
<path d="M476.3 237.6 L480.1 237.9 L483.9 238.1 L486.7 239.4 L489.6 240.6 L492.6 241.4"/>
<path d="M497.6 250.1 L499.2 247.8 L501.4 246.0 L502.6 243.4 L505.0 241.8 L506.4 239.2 L508.4 237.3 L510.1 235.1 L512.9 235.4 L515.6 234.6 L518.3 235.0 L521.0 235.2 L523.7 234.7 L526.4 234.3 L529.1 234.0 L531.9 234.8 L534.5 233.9 L537.3 234.5 L540.0 234.0 L542.7 233.9 L544.8 235.8 L546.5 238.2 L548.4 240.3 L550.2 242.6 L551.8 245.0 L553.8 247.0 L555.2 249.5 L556.8 251.8 L558.8 253.9 L560.2 256.4 L562.5 258.6 L565.2 260.1"/>
<path d="M510.1 235.1 L510.0 238.0 L510.5 240.8 L509.4 243.7 L510.1 246.6 L509.6 249.4 L510.1 252.3 L509.6 255.1 L509.6 258.1 L509.1 261.1 L508.7 264.1 L509.2 267.2 L508.9 270.2"/>
<path d="M510.1 256.4 L512.8 256.3 L515.4 256.6 L518.0 256.6 L520.7 256.3 L523.3 256.0 L525.9 255.9 L528.6 256.2 L531.2 255.9 L533.9 256.0 L536.5 256.4 L539.1 256.4 L541.8 256.8 L544.4 256.0 L547.0 255.9 L549.7 256.0 L552.3 256.3 L554.9 256.0 L557.6 256.7 L560.2 256.4"/>
<path d="M507.6 260.1 L510.6 259.9 L513.5 259.7 L516.3 258.6 L519.4 259.2 L522.3 258.6 L525.2 258.1 L528.0 258.2 L530.9 258.4 L533.7 257.7 L536.6 258.2 L539.5 258.0 L542.3 257.3 L545.2 257.6 L548.0 258.2 L550.9 258.5 L553.7 259.1 L556.6 259.4 L559.5 259.6 L562.3 259.9 L565.2 260.1"/>
<path d="M505.1 270.2 L508.0 269.3 L511.0 269.2 L513.8 268.2 L516.5 266.8 L519.5 266.6 L522.2 265.5 L525.2 265.1 L528.1 264.4 L531.2 265.0 L534.2 264.9 L537.2 264.2 L540.2 263.9 L543.2 263.8 L546.1 263.0 L549.1 262.7 L552.2 262.7 L555.2 262.6"/>
<path d="M472.6 263.9 L475.8 262.7 L479.2 261.9 L482.6 261.4 L484.9 264.2 L486.4 267.6 L487.1 271.4 L487.6 275.2 L486.8 277.7 L486.1 280.2 L485.1 282.7 L482.7 284.1 L480.1 285.2"/>
<path d="M452.6 275.2 L454.6 276.8 L456.8 278.4 L459.0 280.0 L460.9 281.9 L463.0 283.4 L465.1 285.2 L468.1 284.9 L471.1 284.7 L474.1 284.8 L477.1 285.6 L480.1 285.2 L483.2 285.9 L486.3 286.0 L489.5 285.9 L492.6 286.4 L495.1 287.2 L497.5 288.2 L500.0 289.0 L502.8 289.0 L505.1 290.2 L508.2 291.0 L511.4 291.1 L514.5 291.2 L517.6 291.4 L520.7 292.1 L524.0 291.6 L527.1 292.0 L530.2 292.7 L533.2 293.1 L536.2 293.0 L539.2 293.6 L542.2 293.9 L545.2 293.9 L548.5 294.8 L551.9 294.4 L555.2 295.2 L557.8 297.6 L560.2 300.2 L562.5 301.6 L565.2 302.0 L567.9 302.5 L570.2 303.9 L573.3 303.7 L576.2 304.4 L579.3 304.4 L582.2 304.8 L585.2 305.2"/>
<path d="M450.1 280.2 L449.7 283.6 L447.9 286.7 L447.6 290.2 L447.6 293.6 L447.0 296.9 L446.3 300.2 L450.1 302.7"/>
<path d="M457.6 270.2 L456.4 273.1 L455.9 276.1 L455.1 279.1 L454.6 282.2 L453.8 285.2 L453.3 288.1 L452.5 291.0 L452.2 294.0 L450.9 296.8 L450.6 299.8 L450.1 302.7"/>
<path d="M400.0 300.2 L402.4 301.4 L405.1 301.4 L407.6 302.2 L410.0 303.2"/>
<path d="M410.0 324.0 L412.0 322.2 L414.0 320.4 L416.7 319.5 L418.5 317.4 L420.5 315.7 L423.2 314.7 L425.0 312.7 L427.3 310.8 L430.2 309.9 L432.5 308.1 L434.9 306.4 L437.5 305.2 L440.6 304.4 L443.8 303.7 L447.0 303.5 L450.1 302.7 L453.3 302.4 L456.3 301.4 L459.4 300.5 L462.6 300.2 L465.8 300.5 L468.8 301.4 L472.0 301.7 L475.1 302.7 L477.0 304.5 L479.5 305.7 L481.4 307.7 L483.4 309.4 L485.6 311.0 L487.6 312.7 L489.9 314.4 L491.5 316.8 L493.9 318.3 L495.7 320.5 L498.3 321.8 L500.1 324.0"/>
<path d="M480.1 285.2 L479.7 288.5 L479.9 291.9 L479.6 295.2 L480.3 298.5 L479.7 301.9 L480.1 305.2 L480.1 308.6 L479.5 311.9 L478.8 315.2 L479.4 318.1 L479.2 321.1 L480.1 324.0"/>
<path d="M487.6 285.2 L489.3 287.8 L491.6 290.0 L493.5 292.5 L495.1 295.2 L497.3 297.0 L499.2 299.1 L501.1 301.2 L503.0 303.4 L505.1 305.2 L507.8 306.8 L509.9 309.3 L512.7 310.7 L515.1 312.7 L516.5 315.5 L518.0 318.2 L518.8 321.2 L520.2 324.0"/>
<path d="M500.1 290.2 L502.8 291.8 L505.4 293.6 L507.8 295.6 L510.1 297.7 L511.8 299.8 L514.1 301.2 L515.6 303.5 L517.6 305.2 L520.3 307.6 L522.7 310.2 L525.6 310.6 L528.5 311.3 L531.5 311.0 L534.3 312.3 L537.2 312.4 L540.2 312.7 L543.0 312.1 L545.9 311.6 L548.8 311.6 L551.7 311.6 L554.5 311.4 L557.3 310.1 L560.2 310.2 L563.2 310.5 L566.1 311.7 L569.3 311.5 L572.2 312.5 L575.2 312.7 L578.5 313.7 L581.8 314.6 L585.2 315.2 L586.7 318.2 L588.9 320.8 L590.2 324.0"/>
<path d="M555.2 215.1 L558.5 216.2 L561.9 216.5 L565.2 217.6 L567.8 219.1 L570.5 220.5 L572.7 222.6 L574.2 225.0 L575.0 227.7 L576.5 230.1 L577.7 232.6 L579.8 234.8 L581.5 237.3 L582.7 240.1 L584.3 242.3 L586.8 243.5 L588.4 245.7 L590.2 247.6 L592.8 248.1 L595.4 248.5 L598.0 248.9 L600.5 249.4 L603.0 250.1"/>
<path d="M603.0 236.4 L599.8 236.9 L596.6 237.0 L593.4 237.4 L590.2 237.6 L586.9 236.7 L583.6 235.9 L580.2 235.1"/>
<path d="M572.7 265.1 L573.5 262.4 L575.2 260.1 L577.6 258.6 L580.0 257.2 L582.7 256.4 L585.2 255.1 L587.7 254.1 L590.3 253.6 L593.0 253.4 L595.4 252.3 L597.8 251.1 L600.4 250.7 L603.0 250.1"/>
<path d="M575.2 265.1 L575.8 267.7 L577.2 270.1 L577.7 272.7 L578.7 275.3 L580.2 277.7"/>
<path d="M603.0 240.1 L600.5 240.6 L597.8 240.7 L595.3 241.6 L592.8 242.0 L590.2 242.6 L586.4 242.1 L582.7 240.6"/>
<path d="M585.2 305.2 L585.8 308.5 L585.7 311.9 L586.5 315.2 L585.0 318.0 L584.4 321.2 L582.7 324.0"/>
<path d="M592.7 297.7 L591.5 300.9 L590.9 304.3 L590.2 307.7 L589.3 310.3 L588.0 312.8 L586.5 315.2"/>
<path d="M582.7 291.4 L586.1 291.0 L589.4 290.3 L592.7 290.2"/>
<path d="M592.7 280.2 L595.4 279.1 L597.8 277.5 L600.6 276.8 L603.0 275.2"/>
<path d="M486.4 267.6 L483.5 267.9 L480.6 268.4 L477.8 269.2 L475.1 270.2 L472.4 271.0 L469.8 272.2 L467.5 273.7 L465.1 275.2 L463.0 277.4 L462.0 280.3 L460.1 282.7"/>
<path d="M486.4 260.1 L486.5 256.8 L486.9 253.4 L487.6 250.1 L490.4 248.8 L493.6 248.8 L496.4 247.6"/>
<path d="M487.6 275.2 L490.0 276.3 L492.6 277.3 L495.1 278.2 L497.5 279.5 L500.1 280.2 L501.4 282.7 L502.9 285.0 L503.6 287.8 L505.1 290.2"/>
<path d="M450.1 320.2 L452.5 319.0 L455.2 318.6 L457.7 317.6 L460.2 316.6 L462.6 315.2 L465.7 314.9 L468.8 314.6 L472.0 314.7 L475.1 314.0"/>
</g>
<g clip-path="url(#c3)">
<path d="M440.0 237.5 L442.4 239.4 L444.9 241.2 L447.5 243.5 L449.9 246.1 L452.7 248.2 L454.8 251.1 L457.3 252.3 L459.7 250.6 L462.2 249.2 L464.9 249.8 L467.6 249.5 L470.3 249.8"/>
<path d="M440.0 250.5 L443.7 250.0 L447.4 249.8 L450.3 250.2 L453.2 249.8 L456.1 249.8 L459.2 249.5 L462.2 249.2"/>
<path d="M470.3 249.8 L471.1 246.2 L470.9 242.4 L473.4 241.5 L475.8 240.6 L479.6 240.3 L483.3 239.9 L486.1 239.7 L489.0 239.2 L491.9 239.3 L493.8 243.7 L496.2 247.4 L497.5 251.1"/>
<path d="M470.3 249.8 L469.7 254.8 L472.8 258.5 L473.4 263.4 L475.8 262.8"/>
<path d="M497.5 251.1 L500.8 250.4 L504.3 250.5 L507.1 250.7 L509.8 251.1"/>
<path d="M497.5 251.1 L498.9 248.7 L500.9 246.8 L502.7 244.7 L504.3 242.4 L505.7 239.8 L507.3 237.3 L509.2 235.0"/>
<path d="M509.2 235.0 L509.4 237.7 L509.4 240.4 L509.9 243.0 L509.3 245.7 L510.1 248.4 L509.8 251.1 L509.8 254.0 L510.4 256.8 L510.5 259.7 L510.2 263.0 L510.0 266.3 L510.2 269.6"/>
<path d="M510.5 257.9 L513.8 257.6 L517.0 256.8 L520.3 256.6 L523.7 256.4 L526.9 255.8 L530.2 255.4 L533.5 255.0 L536.7 254.3 L540.0 254.5"/>
<path d="M510.2 267.8 L513.5 267.0 L517.0 267.4 L520.3 266.5 L523.6 265.7 L527.0 265.6 L530.2 264.7 L533.4 263.8 L536.7 263.4 L540.0 262.8"/>
<path d="M510.2 269.6 L512.6 270.9 L514.8 272.5 L516.6 274.6 L519.3 275.8 L521.6 277.6 L525.3 278.4 L529.0 278.3 L531.6 278.8 L533.9 280.1 L536.4 280.7 L540.0 283.2"/>
<path d="M497.5 251.1 L494.7 253.2 L491.9 255.4 L490.0 257.8 L487.6 259.7 L485.7 264.0 L485.1 267.1"/>
<path d="M475.8 262.8 L480.8 262.8 L482.7 265.2 L485.1 267.1"/>
<path d="M475.8 262.8 L472.1 265.9 L470.2 267.6 L468.4 269.6 L464.7 272.1 L461.6 272.5 L458.5 273.3 L455.6 275.0 L452.4 275.8"/>
<path d="M485.1 267.1 L487.3 265.7 L489.4 264.0 L492.6 264.3 L495.6 263.4 L498.7 263.7 L501.8 264.0 L504.1 265.9 L506.7 267.1 L510.2 269.6"/>
<path d="M510.2 269.6 L508.8 272.3 L506.7 274.6 L505.3 277.9 L503.0 280.7 L503.3 284.5 L502.4 288.2"/>
<path d="M485.1 267.1 L485.7 272.1 L487.6 275.8 L489.8 277.6 L491.9 279.5 L493.2 281.9 L494.4 284.4 L495.0 289.4"/>
<path d="M483.3 269.6 L484.5 274.6 L486.4 278.3 L485.1 282.0 L482.0 283.8 L478.3 284.4"/>
<path d="M440.0 257.9 L442.5 260.3 L444.9 262.8 L446.4 265.6 L448.3 268.1 L449.9 270.8 L451.4 273.2 L452.4 275.8"/>
<path d="M440.0 261.6 L443.7 262.7 L447.4 263.4 L451.2 263.6 L454.8 264.7 L458.5 264.6 L462.2 264.7 L464.5 267.1 L466.6 269.6"/>
<path d="M440.0 270.8 L443.2 271.8 L446.2 273.3 L449.1 275.0 L452.4 275.8"/>
<path d="M452.4 275.8 L454.3 278.2 L456.1 280.7 L457.8 282.7 L459.8 284.4 L463.2 285.3 L466.6 286.3 L469.3 285.8 L472.1 285.7 L475.2 285.0 L478.3 284.4"/>
<path d="M452.4 275.8 L450.9 278.8 L449.4 281.8 L447.4 284.4 L446.4 287.5 L445.6 290.6 L445.9 294.3 L446.2 298.0 L447.0 300.7 L448.7 303.0"/>
<path d="M452.4 275.8 L451.7 278.6 L451.6 281.5 L451.7 284.4 L450.5 289.4 L448.7 291.9"/>
<path d="M459.8 284.4 L458.3 286.8 L457.1 289.3 L456.1 291.9 L454.6 295.2 L452.4 298.0 L450.7 300.6 L448.7 303.0"/>
<path d="M448.7 303.0 L451.8 301.8 L454.8 300.5 L457.4 298.8 L459.8 296.8 L462.1 294.0 L463.5 290.6 L465.0 288.4 L466.6 286.3"/>
<path d="M440.0 303.0 L442.9 302.6 L445.7 301.8 L448.7 301.7"/>
<path d="M452.4 296.8 L455.4 296.1 L458.5 296.0 L461.7 296.2 L464.7 295.6 L467.8 295.3 L470.9 295.8 L474.0 294.7 L477.1 295.0"/>
<path d="M478.3 284.4 L478.1 287.4 L478.4 290.2 L478.9 293.1 L479.2 296.4 L479.1 299.7 L479.6 303.0 L479.4 305.8 L480.3 308.5 L479.7 311.3 L480.2 314.1 L480.1 317.6 L480.5 321.0"/>
<path d="M472.1 285.7 L473.7 288.2 L475.2 290.8 L477.1 293.1 L478.8 295.5 L480.1 298.2 L482.0 300.5 L483.7 302.9 L485.6 304.9 L487.3 307.2 L489.4 309.2 L491.1 311.3 L493.4 312.6 L495.1 314.6 L496.9 316.6 L499.0 319.2 L501.8 321.0"/>
<path d="M480.8 284.4 L482.0 289.4 L481.4 294.3 L482.0 296.9 L483.3 299.3 L485.3 301.6 L487.0 304.2 L489.2 306.6 L491.2 309.1 L493.2 311.6 L495.1 313.5 L496.2 316.0 L498.1 317.8 L500.6 321.0"/>
<path d="M495.0 289.4 L494.2 293.1 L494.4 296.8 L493.6 299.6 L493.2 302.4 L494.0 305.3 L495.6 307.9 L497.0 311.0 L498.1 314.1 L499.8 316.2 L500.5 318.8 L501.8 321.0"/>
<path d="M502.4 288.2 L504.3 291.5 L506.7 294.3 L509.4 296.7 L511.7 299.3 L513.6 301.1 L514.7 303.7 L516.6 305.5 L518.4 307.7 L520.3 309.8 L520.3 312.6 L520.7 315.4 L520.3 318.2 L521.0 321.0"/>
<path d="M489.4 284.4 L492.7 286.1 L495.6 288.2 L499.0 288.2 L502.4 288.2"/>
<path d="M502.4 288.2 L504.3 290.6 L507.6 290.7 L510.9 290.5 L514.2 290.6 L517.4 291.4 L520.8 290.6 L524.1 291.2 L526.5 292.2 L529.0 293.1 L531.7 292.8 L534.5 292.5 L537.3 293.1 L540.0 292.5"/>
<path d="M520.3 309.8 L523.5 309.6 L526.5 308.5 L528.4 305.5"/>
<path d="M521.0 311.6 L524.1 311.5 L527.1 312.3 L530.2 312.3 L533.5 312.9 L536.7 313.9 L540.0 314.1"/>
<path d="M487.6 299.3 L488.2 304.2 L487.5 306.9 L485.7 309.2 L483.7 310.8 L482.0 312.9 L479.0 314.3 L476.5 316.6"/>
<path d="M449.9 314.1 L453.0 313.8 L456.1 314.1 L459.8 316.6 L462.2 321.0"/>
<path d="M506.7 264.0 L509.0 262.4 L511.7 261.6 L514.8 259.7"/>
<path d="M527.1 270.8 L528.8 268.4"/>
</g>
<g clip-path="url(#c4)">
<path d="M553.8 214.5 L557.0 215.8 L560.0 217.5 L563.8 217.0 L567.5 217.0 L569.4 219.1 L571.7 220.7 L573.8 222.5 L576.3 226.3"/>
<path d="M567.5 217.0 L569.2 219.7 L571.0 222.3 L572.6 225.0 L573.5 227.7 L574.8 230.2 L576.0 232.7 L577.6 235.0 L578.5 238.4 L578.7 241.8 L580.1 245.1 L580.7 248.2 L580.4 251.3 L580.8 254.5 L581.3 257.6 L582.5 260.8 L582.5 264.4 L583.8 267.6 L585.3 270.2 L587.5 272.3 L588.8 275.1 L591.6 277.0 L594.6 278.6 L597.6 280.1 L600.1 281.4 L602.8 282.1 L605.0 284.0 L607.4 285.6 L610.1 286.4"/>
<path d="M580.1 232.5 L582.4 234.1 L585.3 234.6 L587.5 236.4 L590.1 237.5 L592.6 238.8 L595.9 239.4 L599.3 239.9 L602.6 240.6 L601.3 245.1 L598.5 246.4 L595.4 247.4 L592.6 248.8 L589.9 250.4 L587.6 252.6 L586.2 255.3 L584.0 257.4 L582.6 260.1 L580.0 261.6 L577.6 263.4 L575.1 265.1 L575.5 268.3 L576.3 271.3 L577.7 274.0 L579.5 276.5 L581.3 278.8"/>
<path d="M580.1 245.1 L582.5 243.9 L585.0 243.0 L587.7 242.5 L590.1 241.3 L593.2 241.6 L596.4 241.5 L599.5 241.0 L602.6 240.6"/>
<path d="M606.3 252.1 L602.6 253.8 L601.3 257.0 L599.3 259.7 L597.6 262.6 L597.2 265.3 L596.1 267.7 L594.7 270.1 L593.8 272.6 L593.6 275.5 L593.1 278.4 L592.6 281.4"/>
<path d="M530.0 233.8 L533.1 233.2 L536.3 234.1 L539.4 233.7 L542.5 233.3 L544.1 235.5 L546.0 237.6 L548.1 239.4 L550.0 241.3 L551.6 243.9 L553.9 246.1 L555.4 248.8 L557.0 251.4 L558.8 253.8 L560.9 255.5 L562.8 257.3 L564.5 259.3 L566.3 261.3"/>
<path d="M530.0 255.6 L533.0 255.3 L536.0 255.1 L539.0 254.9 L542.0 254.6 L545.0 254.6 L547.7 254.0 L550.5 253.8 L553.3 253.7 L556.1 254.4 L558.8 253.8"/>
<path d="M530.0 264.6 L533.0 264.1 L535.9 262.9 L539.1 263.0 L542.0 262.0 L545.0 261.3 L548.0 260.8 L551.1 260.9 L554.1 260.5 L557.0 259.9 L560.0 259.6 L563.3 260.0 L566.3 261.3"/>
<path d="M570.1 265.6 L571.9 267.7 L574.3 269.4 L576.3 271.3 L578.8 275.1 L581.3 278.8"/>
<path d="M530.0 279.6 L532.4 281.0 L535.0 281.8 L537.7 282.4 L540.0 283.9 L542.4 285.2 L545.0 285.9 L547.5 286.6 L550.0 287.6 L551.8 289.7 L554.0 291.2 L556.3 292.6 L557.5 296.4 L560.2 297.0 L562.7 297.8 L565.1 299.1 L567.5 300.1 L571.0 300.7 L574.3 301.4 L577.6 302.6 L580.5 303.1 L583.4 303.1 L586.3 303.9"/>
<path d="M530.0 293.1 L533.3 292.6 L536.7 293.3 L540.0 292.6 L542.8 293.4 L545.1 295.0 L547.5 296.4 L549.7 298.9 L552.4 300.7 L555.0 302.6 L557.5 303.5 L560.2 304.2 L562.7 305.1 L565.0 306.4 L568.4 306.1 L571.7 307.3 L575.1 307.1 L578.0 307.2 L580.9 306.8 L583.8 306.4 L586.3 303.9"/>
<path d="M530.0 312.6 L533.2 313.0 L536.3 313.7 L539.4 314.6 L542.5 315.1 L545.9 315.3 L549.1 316.4 L552.5 316.4 L555.9 316.7 L559.2 316.9 L562.5 317.6 L565.2 318.1 L567.4 320.0 L570.0 320.6 L572.6 321.4 L576.4 321.1 L580.1 320.2 L582.7 319.2 L585.1 317.6 L587.7 315.3 L590.1 312.6 L590.6 310.0 L592.1 307.8 L592.6 305.1 L592.9 301.4 L593.1 297.6"/>
<path d="M581.3 292.1 L584.4 291.4 L587.6 291.3 L590.6 290.1 L593.8 290.1"/>
<path d="M585.1 305.1 L584.6 308.2 L584.7 311.4 L584.7 314.5 L584.6 317.6 L584.8 321.0 L583.8 324.3 L583.8 327.7 L584.6 331.0 L584.8 334.4 L585.6 337.7"/>
<path d="M572.6 321.4 L574.3 324.3 L576.0 327.2 L577.6 330.2 L578.4 332.9 L579.8 335.3 L581.3 337.7 L581.3 340.5 L580.9 343.3 L580.8 346.2 L580.1 348.9"/>
<path d="M545.0 374.0 L545.9 371.2 L546.0 368.3 L546.7 365.5 L547.5 362.7 L548.1 360.1 L549.3 357.7 L550.3 355.3 L550.4 352.5 L551.7 350.2 L552.5 347.7 L554.5 345.7 L555.2 343.0 L557.4 341.2 L558.8 338.8 L560.0 336.4 L561.7 334.3 L563.8 332.6 L565.8 330.9 L567.8 329.1 L570.1 327.7 L572.5 325.7 L575.0 323.9 L577.4 321.8 L580.1 320.2"/>
<path d="M558.8 307.6 L561.3 311.4"/>
<path d="M631.4 361.5 L629.7 364.4 L628.9 367.7 L627.3 370.7 L626.4 374.0"/>
</g>
<g clip-path="url(#c5)">
<path d="M520.1 310.0 L519.9 312.9 L519.8 315.9 L520.3 318.8 L520.7 321.7 L520.2 324.6 L520.6 327.5 L520.7 330.4 L520.1 333.2 L520.6 336.1 L520.2 339.0 L519.9 341.8 L520.7 344.7 L520.1 347.5 L520.6 350.4 L520.9 353.3 L521.4 356.1 L521.1 359.0 L522.4 361.8 L522.3 364.7 L522.6 367.6 L523.3 370.4 L524.1 373.2 L524.6 376.1 L524.3 379.1 L525.4 381.8 L525.4 384.8 L526.4 387.6 L527.1 390.5 L527.8 393.4 L528.6 396.3 L529.3 399.2 L530.0 402.1 L530.1 405.1 L530.5 407.7 L531.1 410.2 L531.8 412.8 L532.7 415.2 L533.3 417.8 L534.3 420.2 L535.1 422.6 L536.4 427.6"/>
<path d="M526.4 387.6 L527.7 390.2 L529.2 392.7 L531.0 395.0 L531.9 397.8 L533.8 400.0 L535.1 402.6 L536.7 404.8 L537.9 407.3 L539.8 409.3 L540.7 411.9 L542.6 413.9 L545.1 414.7 L547.7 415.4 L550.1 416.4 L552.9 417.2 L555.0 419.1 L557.6 420.1 L560.3 421.1 L562.7 422.6 L565.2 423.9 L567.5 425.9 L570.2 427.6 L570.6 431.0 L570.5 434.4 L571.4 437.7"/>
<path d="M536.4 423.9 L537.3 426.7 L538.6 429.4 L539.3 432.3 L540.1 435.2 L540.6 438.6 L541.6 441.9 L542.6 445.2 L547.6 446.4 L550.8 446.2 L553.9 447.2 L557.0 447.4 L560.2 447.2 L562.9 446.5 L565.8 447.0 L568.6 446.5 L571.4 446.4"/>
<path d="M536.4 423.9 L539.2 423.8 L541.9 424.2 L544.7 424.3 L547.4 424.7 L550.1 425.1 L553.0 425.8 L555.9 425.0 L558.7 426.0 L561.6 426.1 L564.5 425.5 L567.3 425.7 L570.2 426.4"/>
<path d="M542.6 445.2 L540.8 447.1 L538.8 448.9 L536.8 450.6 L535.1 452.7 L532.4 454.3 L530.3 456.7 L527.8 458.6 L525.1 460.2 L522.4 461.8 L520.0 463.8 L517.5 465.7 L515.1 467.7 L511.6 468.0 L508.4 469.3 L505.1 470.2 L502.0 469.9 L499.0 469.4 L496.0 469.2 L493.1 467.9 L490.1 467.7 L486.9 467.7 L483.8 467.4 L480.7 467.7 L477.5 467.2 L474.1 467.3 L470.9 468.5 L467.5 468.9 L464.9 468.5 L462.6 466.8 L460.1 465.9 L457.5 465.2 L454.7 463.7 L452.6 461.3 L449.8 459.9 L447.5 457.7 L444.8 455.8 L442.8 453.2 L440.0 451.4"/>
<path d="M515.1 467.7 L517.1 470.4 L518.1 473.7 L520.1 476.5 L522.2 479.5 L523.9 482.7"/>
<path d="M555.1 447.2 L554.2 449.7 L553.9 452.4 L553.4 455.1 L552.6 457.7 L553.4 461.4 L553.9 465.2 L552.6 470.2 L550.3 471.7 L547.8 473.0 L545.1 474.0 L542.6 474.7 L540.1 475.4 L537.5 476.1 L535.1 477.2 L532.6 478.0 L530.0 478.2 L527.7 479.8 L525.1 480.2"/>
<path d="M480.1 482.7 L483.2 482.1 L486.3 481.6 L489.5 481.3 L492.6 480.2 L495.1 479.2 L497.5 477.9 L500.0 477.1 L502.8 476.7 L505.1 475.2 L507.7 473.5 L510.3 471.8 L512.5 469.5 L515.1 467.7"/>
<path d="M440.0 420.1 L443.8 419.6 L447.5 418.9 L451.2 419.7 L455.0 420.1 L457.5 421.1 L460.2 421.6 L462.6 422.8 L465.0 423.9 L467.7 424.4 L470.0 425.9 L472.6 426.6 L475.0 427.6 L477.8 428.7 L480.7 429.0 L483.4 429.8 L486.3 430.2 L487.4 427.6 L488.9 425.2 L490.1 422.6 L492.8 421.8 L495.0 420.0 L497.6 418.9 L500.7 417.6 L503.7 416.0 L506.3 413.9"/>
<path d="M478.8 423.9 L479.2 427.1 L480.1 430.2 L478.4 433.1 L477.5 436.4"/>
<path d="M440.0 430.2 L442.0 428.4 L443.8 426.4 L445.8 424.7 L447.5 422.6 L448.9 420.1 L450.8 417.8 L451.7 414.9 L453.9 412.8 L455.0 410.1 L457.8 408.6 L460.1 406.5 L462.6 404.5 L465.0 402.6 L466.6 399.9 L469.0 397.8 L471.0 395.4 L472.5 392.6 L475.3 391.8 L477.5 390.1"/>
<path d="M467.5 366.3 L469.6 369.0 L471.2 372.0 L472.5 375.1 L473.6 377.5 L474.0 380.2 L475.3 382.5 L476.1 385.0 L476.4 387.7 L477.5 390.1 L476.7 392.8 L475.0 395.1"/>
<path d="M440.0 365.1 L442.7 365.4 L445.0 366.7 L447.5 367.6 L450.1 368.2 L452.5 369.1 L455.0 370.1 L457.7 369.8 L460.0 368.5 L462.4 367.5 L464.9 366.8 L467.5 366.3 L470.2 366.5 L472.5 368.1 L475.0 368.6 L477.6 369.2 L480.1 370.1 L482.6 368.8 L485.2 367.8 L487.8 366.7 L490.1 365.1 L492.4 363.6 L495.2 362.9 L497.4 360.9 L500.2 360.4 L502.6 358.8 L505.2 356.9 L507.2 354.2 L510.1 352.6 L512.3 350.3 L515.1 348.8"/>
<path d="M502.6 358.8 L504.7 360.8 L506.2 363.2 L507.5 365.8 L509.1 368.1 L510.8 370.3 L512.6 372.6 L514.3 375.0 L515.2 377.8 L517.6 379.8 L518.4 382.7 L520.1 385.1 L523.1 386.6 L526.4 387.6"/>
<path d="M470.0 362.6 L471.5 360.1 L473.3 358.0 L474.5 355.3 L476.2 353.1 L478.0 350.9 L479.4 348.4 L481.1 346.2 L482.6 343.8 L485.5 344.1 L488.4 344.7 L491.2 345.8 L494.3 345.4 L497.1 346.7 L500.1 347.0 L503.1 347.0 L506.0 348.1 L509.1 348.0 L512.1 348.3 L515.1 348.8 L520.1 348.8"/>
<path d="M482.6 343.8 L482.0 341.1 L482.7 338.4 L482.5 335.7 L481.4 333.1 L482.1 330.4 L481.4 327.7 L481.3 325.0 L480.8 322.0 L481.1 319.0 L480.9 316.0 L479.8 313.0 L480.1 310.0"/>
<path d="M445.0 320.0 L448.3 321.2 L451.6 322.1 L455.0 322.5 L457.5 323.3 L459.9 324.3 L462.4 325.2 L465.0 325.5 L468.4 325.5 L471.7 324.7 L475.0 325.0 L477.0 323.2 L479.1 321.5 L481.3 320.0"/>
<path d="M451.3 313.8 L454.1 314.5 L457.0 315.1 L460.0 315.0 L460.8 317.9 L462.6 320.2 L464.1 322.7 L465.0 325.5 L464.9 328.3 L465.0 331.1 L464.1 333.9 L464.5 336.7 L464.5 339.5 L464.3 342.3 L463.8 345.0"/>
<path d="M492.6 310.0 L494.2 312.3 L496.3 314.3 L498.6 316.0 L500.8 317.8 L502.6 320.0 L504.1 322.4 L504.8 325.2 L505.9 327.7 L507.4 330.1 L508.5 332.7 L510.1 335.0 L510.8 337.9 L512.6 340.4 L513.1 343.3 L513.6 346.2 L515.1 348.8"/>
<path d="M497.6 310.0 L499.1 312.6 L501.3 314.7 L502.7 317.4 L504.6 319.8 L505.5 322.8 L507.6 325.0 L510.7 325.8 L513.8 326.6 L516.9 327.4 L520.1 328.0"/>
<path d="M520.1 311.3 L522.9 312.1 L525.9 311.5 L528.6 312.7 L531.6 312.6 L534.5 312.6 L537.3 313.3 L540.1 313.8 L543.0 314.4 L545.8 314.9 L548.7 314.6 L551.6 315.1 L554.4 315.7 L557.2 316.4 L560.2 316.3 L562.5 317.8 L565.3 317.9 L567.7 319.1 L570.3 320.0 L572.7 321.3 L574.0 323.9 L575.5 326.5 L576.4 329.4 L577.2 332.3 L578.7 334.9 L580.2 337.5 L580.5 340.7 L579.7 343.8 L579.5 346.9 L579.7 350.1"/>
<path d="M590.2 310.0 L588.9 312.7 L586.5 314.8 L585.2 317.5 L582.8 319.2 L580.0 320.2 L577.5 321.8 L574.9 323.1 L572.7 325.0 L570.4 326.4 L568.2 328.0 L566.1 329.6 L564.1 331.4 L562.4 333.5 L560.2 335.0 L558.4 337.7 L556.7 340.3 L554.6 342.6 L552.6 345.0 L552.1 347.7 L550.8 350.0 L550.6 352.7 L549.4 355.1 L548.2 357.5 L547.6 360.1 L546.6 363.3 L546.5 366.9 L545.1 370.1 L543.4 372.9 L541.1 375.2 L538.9 377.6 L537.0 379.8 L534.5 381.3 L532.6 383.6 L530.1 385.1 L526.4 388.1"/>
<path d="M585.2 310.0 L585.5 313.1 L585.1 316.3 L584.4 319.4 L584.7 322.5 L584.8 325.5 L585.6 328.5 L585.0 331.5 L585.4 334.5 L585.7 337.5"/>
<path d="M631.5 360.1 L630.0 362.4 L629.3 365.0 L628.7 367.7 L627.5 370.1 L626.5 372.6 L626.1 375.2 L625.3 377.7 L623.9 380.0 L623.4 382.6 L622.7 385.1 L622.3 388.4 L622.4 391.8 L621.5 395.1 L622.1 398.3 L622.7 401.6 L624.0 404.6"/>
<path d="M602.2 403.9 L604.8 403.8 L607.5 403.8 L610.0 404.4 L612.6 404.7 L615.2 405.1 L618.4 405.5 L621.5 404.6 L624.7 404.6"/>
<path d="M460.0 372.6 L459.3 375.9 L458.7 379.2 L458.8 382.6 L458.0 385.1 L456.8 387.5 L456.3 390.1 L455.7 393.4 L455.3 396.8 L455.0 400.1 L456.6 403.1 L457.5 406.4 L456.1 409.4 L454.2 412.2 L452.5 415.1 L450.6 417.6 L449.2 420.4 L447.1 422.8 L445.0 425.1 L442.2 427.4 L440.0 430.2"/>
<path d="M455.0 398.9 L458.4 399.0 L461.7 397.7 L465.0 397.6 L467.3 399.5 L468.9 401.9 L470.7 404.1 L472.5 406.4 L470.6 408.2 L468.8 410.2 L467.5 412.6 L470.0 416.4 L472.8 417.1 L475.7 416.8 L478.5 417.9 L481.3 418.1"/>
<path d="M460.0 406.4 L461.9 408.4 L464.1 409.9 L466.4 411.3 L468.8 412.6 L466.7 415.7 L465.0 418.9"/>
<path d="M463.8 390.6 L464.7 394.2 L466.3 397.6"/>
<path d="M440.0 474.0 L443.1 474.7 L446.3 474.8 L449.3 476.1 L452.5 476.5 L455.4 476.3 L458.2 476.9 L461.1 476.7 L464.0 476.6 L466.8 476.7 L469.7 477.6 L472.5 477.2"/>
<path d="M440.0 480.2 L443.0 480.9 L446.0 480.3 L449.0 481.3 L452.0 481.6 L455.0 481.5 L457.9 482.0 L460.9 481.9 L463.8 482.1 L466.7 482.2 L469.7 482.0 L472.5 482.7"/>
<path d="M543.9 430.2 L547.0 430.3 L550.1 429.6 L549.9 432.3 L549.6 434.9 L550.2 437.5 L550.1 440.2 L547.0 440.3 L543.9 440.2"/>
<path d="M560.2 425.1 L560.9 428.4 L560.9 431.8 L561.4 435.2 L564.3 434.7 L567.2 435.1 L570.2 435.2"/>
</g>
<g clip-path="url(#c6)">
<path d="M528.7 400.0 L529.1 402.6 L530.7 404.9 L531.5 407.4 L532.4 409.9 L532.5 412.7 L533.1 415.4 L534.3 418.0 L534.9 420.8 L535.5 423.5 L535.6 426.3 L536.5 429.0 L537.2 431.7 L538.4 434.2 L538.5 437.1 L538.9 440.2 L539.8 443.3 L542.2 446.4"/>
<path d="M534.2 400.0 L536.7 402.9 L538.5 406.2 L539.9 408.9 L541.2 411.7 L542.9 414.2 L545.7 414.4 L548.4 415.5 L552.1 416.0 L555.8 416.1 L557.7 417.9 L559.6 419.8 L560.2 423.5"/>
<path d="M535.5 424.1 L538.5 423.6 L541.6 423.1 L544.7 422.9 L547.8 423.3 L550.9 423.1 L554.0 423.4 L557.1 423.2 L560.2 423.5 L563.2 424.2 L566.3 424.4 L569.4 424.7 L573.2 427.8 L574.4 432.1 L571.9 435.8"/>
<path d="M559.6 423.5 L559.9 426.3 L559.5 429.0 L559.6 431.8 L559.6 434.6"/>
<path d="M560.8 429.0 L563.9 429.0"/>
<path d="M562.6 435.2 L566.1 435.2 L569.4 435.8 L569.5 438.5 L569.8 441.1 L569.9 443.7 L570.1 446.4"/>
<path d="M542.2 446.4 L545.1 446.8 L548.1 446.3 L550.9 447.0 L553.7 447.0 L556.5 446.8 L559.2 446.1 L562.0 446.4 L564.7 446.3 L567.4 446.0 L570.1 446.4"/>
<path d="M543.5 424.7 L544.1 429.7 L539.8 432.1 L538.5 437.1"/>
<path d="M544.1 429.7 L547.2 429.3 L550.3 429.7 L549.7 432.9 L549.6 436.2 L549.7 439.6 L546.6 439.6 L543.5 439.6 L542.9 435.8 L544.1 432.1"/>
<path d="M543.5 439.6 L543.0 442.9 L542.9 446.4"/>
<path d="M542.2 446.4 L540.4 448.4 L538.7 450.5 L536.3 452.0 L534.8 454.4 L532.5 456.6 L530.1 458.8 L527.4 460.6 L524.7 461.6 L522.4 463.3 L520.0 464.9"/>
<path d="M556.5 447.6 L554.9 450.3 L553.4 453.2 L552.7 456.0 L552.8 458.9 L552.8 461.8 L553.5 464.5 L555.2 466.7 L555.8 471.1 L553.1 472.0 L550.4 473.1 L547.5 473.4 L544.7 474.2 L542.3 475.2 L539.8 476.2 L537.1 476.8 L535.0 478.6 L532.2 479.0 L529.9 480.3 L526.2 481.4 L522.5 481.6 L521.0 479.2 L520.0 476.6"/>
<path d="M561.4 447.6 L563.3 450.1 L565.7 450.7"/>
<path d="M602.2 403.7 L605.6 404.1 L609.0 404.9 L611.8 405.2 L614.5 405.1 L617.2 404.7 L620.0 404.7"/>
</g>
<g clip-path="url(#c7)">
<path d="M323.8 340.0 L324.4 343.0 L324.6 346.0 L324.3 349.0 L324.4 352.0 L325.0 355.0 L326.2 357.6 L327.7 359.9 L329.3 362.3 L330.0 365.0 L331.6 367.8 L334.2 369.8 L336.0 372.3 L337.5 375.0 L339.5 376.9 L341.2 378.9 L342.5 381.3 L344.7 382.9 L346.3 385.1 L348.3 386.8 L350.4 388.5 L352.6 390.1 L355.1 390.8 L357.6 391.8 L360.1 392.8 L362.6 393.8 L364.9 395.2 L366.6 397.3 L368.9 398.7 L370.6 400.9 L372.6 402.6 L374.9 404.8 L377.3 406.7 L380.1 408.3 L382.6 410.1 L385.1 411.7 L387.6 413.4 L390.1 415.1 L392.1 416.8 L394.1 418.7 L396.4 420.1 L398.0 422.4 L398.5 425.3 L400.1 427.6 L401.6 431.0 L403.9 433.9 L402.8 437.0 L401.4 440.1 L400.6 443.2 L400.1 446.4 L401.9 448.4 L403.3 450.7 L405.1 452.6 L407.4 454.5 L410.2 455.5 L412.6 457.1 L416.4 456.0 L420.2 455.1 L421.5 452.7 L422.7 450.1"/>
<path d="M300.0 362.0 L303.0 362.1 L306.0 361.7 L309.0 361.1 L312.0 361.5 L315.0 361.3 L317.9 361.3 L320.6 361.9 L323.4 362.8 L326.3 362.5"/>
<path d="M366.3 357.0 L366.0 359.6 L366.0 362.2 L366.7 364.8 L365.9 367.4 L366.3 370.0 L366.6 373.2 L367.2 376.4 L368.0 379.5 L368.8 382.6 L369.6 385.3 L371.0 387.7 L372.2 390.3 L373.8 392.6 L376.1 394.4 L378.5 396.0 L380.1 398.6 L382.6 400.1 L384.1 402.7 L385.5 405.4 L387.6 407.6 L389.9 409.9 L392.3 412.2 L395.1 413.8 L396.1 416.5 L398.0 418.6 L398.9 421.4 L400.6 423.4 L402.7 425.0 L404.3 427.2 L406.4 428.9 L409.2 428.7 L411.9 429.4 L414.7 429.3 L417.4 429.4 L420.2 430.1 L423.1 430.2 L426.0 430.4 L428.9 429.4 L431.8 429.7 L434.8 429.7 L437.7 429.6"/>
<path d="M407.6 340.0 L410.4 341.3 L412.9 343.0 L415.1 345.0 L417.5 346.3 L420.2 346.4 L422.7 347.5 L423.9 349.9 L424.7 352.4 L425.2 355.0 L427.2 357.5 L429.4 360.0 L431.4 362.5 L434.3 363.6 L437.3 364.0 L440.2 365.0 L442.8 365.4 L445.1 366.8 L447.8 366.9 L450.2 368.0 L453.5 368.8 L456.8 369.7 L460.2 370.0"/>
<path d="M348.8 340.0 L351.6 341.2 L354.7 341.5 L357.6 342.5 L360.3 343.0 L363.1 343.0"/>
<path d="M460.2 370.0 L459.6 373.0 L460.2 376.1 L459.7 379.1 L459.3 382.1 L458.9 385.1 L458.2 387.6 L456.6 389.9 L455.9 392.5 L455.2 395.1 L455.3 398.4 L455.7 401.8 L456.4 405.1 L455.3 407.6 L454.3 410.3 L452.3 412.4 L451.5 415.1 L450.2 417.6 L448.5 420.2 L446.7 422.8 L444.2 424.8 L442.7 427.6 L440.9 429.6 L439.4 431.8 L437.7 433.9 L436.4 438.9"/>
<path d="M467.7 365.0 L469.1 367.6 L470.4 370.3 L472.4 372.4 L473.6 375.1 L475.2 377.5 L475.8 380.7 L476.4 383.8 L477.5 386.9 L477.7 390.1 L475.8 392.5 L474.0 395.1 L472.3 397.7 L470.2 400.1 L468.7 402.2 L467.0 404.4 L465.5 406.6 L463.2 408.1 L462.3 410.8 L460.2 412.6 L458.4 414.5 L456.3 416.2 L454.2 417.9 L452.5 420.0 L450.2 421.4 L448.4 423.3 L446.3 424.9 L444.2 426.6 L442.1 428.3 L440.2 430.1"/>
<path d="M460.2 370.0 L462.4 368.0 L465.3 367.0 L467.6 365.2 L470.2 363.8 L472.4 361.7 L474.2 359.2 L475.8 356.7 L478.5 355.1 L480.2 352.5 L481.3 350.0 L482.6 347.6 L483.7 345.2 L483.8 342.3 L485.2 340.0"/>
<path d="M470.2 363.8 L472.9 365.0 L475.0 367.2 L477.5 368.8 L480.2 370.0 L483.6 369.4 L486.8 368.1 L490.2 367.5 L492.7 365.9 L495.6 364.9 L498.0 363.1 L500.4 361.4 L503.0 360.0"/>
<path d="M485.2 345.0 L488.2 345.5 L491.2 345.6 L494.2 346.0 L497.1 346.3 L500.0 347.1 L503.0 347.5"/>
<path d="M464.0 391.3 L464.9 393.8 L465.6 396.3 L466.5 398.8 L463.1 398.9 L459.8 399.4 L456.4 399.6 L458.3 402.6 L460.2 405.6 L463.4 406.2 L466.4 407.4 L469.6 407.9 L472.7 408.8 L472.0 412.2 L470.2 415.1 L473.6 415.9 L476.9 416.8 L480.2 417.6"/>
<path d="M450.2 418.8 L453.2 419.7 L456.2 420.2 L459.2 421.0 L462.3 421.6 L465.2 422.6 L467.6 423.9 L470.3 424.2 L472.8 425.2 L475.2 426.4 L477.7 427.4 L480.0 428.7 L482.9 428.8 L485.2 430.1 L486.7 427.6 L488.6 425.4 L490.8 423.5 L492.7 421.4 L495.4 420.6 L498.0 419.9 L500.5 418.6 L503.0 417.6"/>
<path d="M480.2 423.9 L480.1 427.0 L479.6 430.1 L479.7 433.3 L479.0 436.4 L476.5 436.4"/>
<path d="M413.9 440.1 L416.7 439.1 L419.4 438.0 L422.3 437.3 L425.2 436.4 L428.0 436.9 L430.9 437.2 L433.5 438.7 L436.4 438.9 L433.3 439.6 L430.2 440.1 L426.4 440.9 L422.7 441.4"/>
<path d="M425.2 437.6 L427.5 439.7 L430.4 441.0 L432.8 443.1 L435.2 445.1 L437.2 447.5 L438.7 450.3 L440.5 452.9 L442.7 455.1 L444.9 457.5 L447.6 458.9 L450.5 460.4 L452.7 462.7 L455.4 463.6 L457.6 465.3 L460.0 466.9 L462.7 467.7 L465.8 468.0 L468.9 468.2 L472.1 467.9 L475.2 468.2 L478.2 467.9 L481.2 467.0 L484.3 467.6 L487.3 467.0 L490.2 466.4 L492.7 465.4 L495.4 465.7 L497.9 464.8 L500.5 464.6 L503.0 463.9"/>
<path d="M436.4 438.9 L436.7 441.6 L437.3 444.3 L436.9 447.2 L437.9 449.8 L437.7 452.6 L436.1 455.1 L434.8 457.7 L432.9 460.0 L431.5 462.5 L430.2 465.2 L428.6 467.7 L426.7 470.1 L425.1 472.6 L423.1 474.9 L421.8 477.6 L420.2 480.2 L418.1 482.1 L416.5 484.5 L413.8 485.8 L412.0 488.0 L410.1 490.2 L408.4 492.2 L406.1 493.7 L404.5 495.8 L402.6 497.7 L401.4 500.9 L399.3 503.6 L397.6 506.5 L396.0 508.6 L393.8 510.2 L391.6 511.7 L390.1 514.0"/>
<path d="M422.7 453.9 L424.2 456.6 L424.9 459.6 L426.7 462.2 L427.7 465.2 L428.1 467.8 L428.9 470.3 L430.2 472.7 L430.9 475.2 L431.7 477.7 L432.7 480.2 L433.3 483.2 L433.8 486.3 L435.4 489.1 L436.2 492.1 L436.4 495.2 L436.8 497.9 L437.0 500.7 L437.8 503.3 L438.9 505.8 L439.2 508.6 L439.7 511.3 L440.2 514.0"/>
<path d="M412.6 457.6 L413.0 460.4 L413.2 463.1 L412.6 465.9 L413.3 468.6 L413.1 471.4"/>
<path d="M360.1 456.4 L362.7 457.0 L365.0 458.2 L367.5 459.3 L370.1 459.7 L372.4 461.1 L375.1 461.4 L377.5 462.4 L380.0 463.1 L382.7 463.4 L385.0 464.7 L387.6 465.3 L390.2 465.8 L392.6 466.8 L395.1 467.4 L397.6 468.4 L400.1 468.9 L402.9 470.1 L405.8 470.4 L408.8 470.5 L411.7 471.3 L414.5 472.3 L417.4 472.8 L420.2 473.9 L423.0 474.7 L425.9 474.6 L428.8 474.8 L431.6 475.7 L434.4 476.4 L437.2 477.2 L440.2 477.2 L443.0 477.7 L445.9 477.8 L448.8 477.2 L451.6 477.8 L454.5 478.1 L457.3 478.3 L460.2 478.2 L463.4 478.4 L466.5 477.9 L469.6 477.3 L472.7 477.2"/>
<path d="M386.4 471.4 L389.2 470.8 L392.2 470.8 L395.1 470.2 L398.3 469.7 L401.4 468.9 L404.6 468.6 L407.6 467.7"/>
<path d="M417.6 483.9 L420.7 484.0 L423.6 483.1 L426.7 483.5 L429.7 483.3 L432.7 482.7 L435.6 482.4 L438.5 481.8 L441.4 481.5 L444.4 482.0 L447.3 481.6 L450.2 481.4 L453.3 481.2 L456.4 480.6 L459.6 480.3 L462.7 480.2 L465.5 481.5 L468.5 482.2 L471.5 482.7 L470.2 485.2 L467.6 484.2 L465.4 482.4 L462.7 481.4 L460.2 480.2 L457.2 480.0 L454.2 479.4 L451.2 479.0 L448.1 479.7 L445.2 478.9 L443.9 473.9"/>
<path d="M479.0 481.4 L481.2 483.7 L482.7 486.4"/>
<path d="M465.2 506.5 L467.8 505.0 L470.0 503.0 L472.6 501.6 L475.2 500.2 L476.1 497.7 L476.7 495.1 L477.7 492.7"/>
<path d="M470.2 514.0 L472.3 511.7 L474.0 509.2 L476.0 507.0 L478.0 504.8 L480.2 502.7 L481.7 500.3 L482.8 497.7 L483.9 495.2 L485.2 492.7 L487.8 491.3 L490.5 489.9 L493.0 488.4 L495.2 486.4 L497.8 485.1 L500.2 483.5 L503.0 482.7"/>
<path d="M400.1 446.4 L400.6 449.0 L402.0 451.3 L402.6 453.9 L405.4 455.4 L407.9 457.4 L410.1 459.6 L413.9 459.9 L417.6 460.7 L420.4 459.1 L423.2 457.6 L422.7 453.9 L422.7 450.1 L421.7 446.9 L420.2 443.9 L418.4 441.9 L416.4 440.1"/>
</g>
<g clip-path="url(#c8)">
<path d="M425.1 470.0 L423.3 472.0 L421.4 473.9 L420.5 476.6 L418.5 478.4 L416.8 480.4 L415.1 482.5 L413.2 484.7 L411.5 486.9 L409.3 488.7 L407.3 490.7 L405.1 492.5 L403.0 494.8 L401.7 497.5 L400.1 500.0 L398.5 503.0 L397.6 506.3 L395.8 508.3 L394.1 510.3 L392.1 512.1 L390.1 513.8 L388.0 516.5 L387.2 519.9 L385.1 522.6 L383.8 525.0 L381.9 526.9 L380.2 529.0 L378.8 531.3 L378.4 534.0 L377.7 536.5 L376.3 538.8 L375.9 541.8 L375.2 544.6 L375.1 547.6 L372.7 549.7 L370.1 551.4 L368.8 556.4 L368.9 559.1 L369.8 561.8 L369.5 564.6 L369.8 567.4 L370.1 570.1 L371.5 572.4 L373.2 574.5 L374.5 576.9 L376.3 578.9"/>
<path d="M368.8 552.6 L371.8 551.9 L374.9 551.8 L378.0 552.0 L381.1 551.4"/>
<path d="M382.6 553.9 L385.7 553.9 L388.8 553.9"/>
<path d="M428.9 470.0 L430.1 472.4 L430.6 475.0 L431.5 477.5 L432.5 479.9 L432.5 482.7 L433.9 485.0 L435.0 487.4 L435.6 490.1 L436.9 492.4 L438.0 494.9 L438.8 497.4 L439.6 499.9 L440.1 502.5 L441.3 504.9 L442.3 507.4 L442.3 510.2 L443.2 512.6 L444.6 515.0 L445.1 517.6 L446.4 520.0 L447.5 522.7 L448.5 525.3 L449.9 527.7 L451.4 530.1 L451.7 533.4 L452.2 536.7 L452.2 540.1 L450.7 542.6 L448.9 544.9 L447.6 547.6 L446.9 550.2 L445.3 552.4 L445.0 555.2 L443.9 557.6 L444.4 560.7 L444.3 563.9 L443.9 567.0 L443.9 570.1 L443.8 573.3 L443.7 576.4 L443.1 579.5 L443.1 582.6 L443.8 585.7 L443.6 588.9 L443.5 592.0 L443.9 595.2 L446.6 595.8 L449.4 595.7"/>
<path d="M451.4 529.6 L447.6 529.2 L443.9 528.8 L443.0 531.7 L441.5 534.3 L440.7 537.2 L440.1 540.1 L437.2 541.8 L433.9 542.6 L433.2 545.7 L433.0 548.8 L433.1 552.0 L432.6 555.1 L432.4 558.5 L432.7 561.8 L433.1 565.1 L432.3 567.6 L431.8 570.2 L430.7 572.6 L430.1 575.1 L429.8 578.3 L428.9 581.4 L428.2 584.5 L427.6 587.6 L427.4 590.9 L426.8 594.0 L425.6 597.0 L425.1 600.2 L423.9 605.2"/>
<path d="M410.6 598.9 L414.1 599.3 L417.6 599.7 L420.5 602.1 L423.9 603.9 L426.8 604.1 L429.6 604.9 L432.2 606.2 L435.1 606.4 L438.5 606.8 L441.8 607.5 L445.1 607.7 L448.3 608.1 L451.4 607.7"/>
<path d="M451.4 602.7 L450.7 605.8 L451.6 609.0 L451.1 612.1 L450.7 615.2"/>
<path d="M456.4 523.8 L457.9 521.5 L459.2 519.2 L460.8 517.0 L462.7 515.1 L464.8 513.4 L466.2 511.1 L468.0 509.2 L470.2 507.5 L472.3 506.0 L473.7 503.5 L475.7 501.8 L477.7 500.0 L478.2 497.1 L478.1 494.1 L478.9 491.3"/>
<path d="M465.2 507.5 L467.1 505.7 L469.3 504.2 L471.3 502.5 L473.1 500.5 L475.2 498.8"/>
<path d="M456.4 523.8 L461.4 523.8"/>
<path d="M505.2 475.0 L502.6 476.3 L500.2 477.9 L497.5 479.2 L495.4 481.3 L492.7 482.5 L490.4 484.7 L488.6 487.3 L487.3 490.2 L485.2 492.5 L483.2 494.9 L481.1 497.2 L479.8 500.2 L477.7 502.5 L475.6 504.9 L473.9 507.5 L472.1 510.1 L470.2 512.6 L467.9 514.0 L466.0 515.9 L464.3 517.9 L462.0 519.3 L460.2 521.3"/>
</g>
</g>
<g stroke="#ffffff" stroke-width="1" stroke-opacity="0.85">
<rect x="296.2" y="128.8" width="15.0" height="15.0" fill="#fae527" fill-opacity="0.94"/>
<rect x="301.2" y="129.5" width="15.0" height="15.0" fill="#fae527" fill-opacity="0.94"/>
<rect x="265.5" y="160.5" width="16.0" height="16.0" fill="#432468" fill-opacity="0.94"/>
<rect x="309.5" y="199.5" width="7.5" height="11.8" fill="#d9c02c" fill-opacity="0.94"/>
<rect x="294.2" y="198.0" width="15.2" height="15.0" fill="#fae527" fill-opacity="0.94"/>
<rect x="306.0" y="214.2" width="19.5" height="18.2" fill="#d9c02c" fill-opacity="0.94"/>
<rect x="414.5" y="228.0" width="22.5" height="23.2" fill="#d9c02c" fill-opacity="0.94"/>
<rect x="420.0" y="257.0" width="13.0" height="12.5" fill="#d9c02c" fill-opacity="0.94"/>
<rect x="456.2" y="220.8" width="18.8" height="16.8" fill="#3b2a78" fill-opacity="0.94"/>
<rect x="459.0" y="222.5" width="17.2" height="16.8" fill="#d9c02c" fill-opacity="0.94"/>
<rect x="282.5" y="258.1" width="11.2" height="11.4" fill="#3c0a58" fill-opacity="0.94"/>
<rect x="329.1" y="261.2" width="6.5" height="6.4" fill="#d9c02c" fill-opacity="0.94"/>
<rect x="320.4" y="269.3" width="8.3" height="8.3" fill="#d9c02c" fill-opacity="0.94"/>
<rect x="303.2" y="267.3" width="17.6" height="17.2" fill="#d9c02c" fill-opacity="0.94"/>
<rect x="340.3" y="286.3" width="15.0" height="8.7" fill="#2f5d86" fill-opacity="0.94"/>
<rect x="320.4" y="276.8" width="11.3" height="25.0" fill="#fae527" fill-opacity="0.94"/>
<rect x="324.8" y="284.5" width="9.8" height="20.2" fill="#fae527" fill-opacity="0.94"/>
<rect x="317.9" y="280.7" width="19.8" height="18.0" fill="#fae527" fill-opacity="0.94"/>
<rect x="333.4" y="295.2" width="17.3" height="18.4" fill="#d9c02c" fill-opacity="0.94"/>
<rect x="341.2" y="291.5" width="17.6" height="17.2" fill="#fae527" fill-opacity="0.94"/>
<rect x="343.4" y="290.6" width="16.4" height="16.4" fill="#fae527" fill-opacity="0.94"/>
<rect x="370.5" y="267.3" width="18.2" height="18.1" fill="#d9c02c" fill-opacity="0.94"/>
<rect x="367.4" y="275.6" width="17.3" height="16.7" fill="#fae527" fill-opacity="0.94"/>
<rect x="362.2" y="282.3" width="13.5" height="14.0" fill="#fae527" fill-opacity="0.94"/>
<rect x="267.3" y="292.3" width="14.5" height="13.3" fill="#5aae4e" fill-opacity="0.94"/>
<rect x="293.3" y="303.5" width="14.4" height="13.9" fill="#d9c02c" fill-opacity="0.94"/>
<rect x="311.3" y="308.4" width="14.7" height="14.1" fill="#f6e878" fill-opacity="0.94"/>
<rect x="313.5" y="310.4" width="10.7" height="10.4" fill="#fae527" fill-opacity="0.94"/>
<rect x="273.5" y="314.8" width="21.0" height="20.7" fill="#3d3d78" fill-opacity="0.94"/>
<rect x="270.4" y="314.4" width="19.8" height="19.4" fill="#d9c02c" fill-opacity="0.94"/>
<rect x="363.3" y="339.8" width="16.7" height="16.8" fill="#fae527" fill-opacity="0.94"/>
<rect x="304.6" y="420.3" width="17.0" height="18.2" fill="#3a986c" fill-opacity="0.94"/>
<rect x="308.2" y="425.2" width="9.6" height="8.5" fill="#34b278" fill-opacity="0.94" stroke="#55c86e"/>
<rect x="381.0" y="538.0" width="15.0" height="15.8" fill="#5aae4e" fill-opacity="0.94"/>
<rect x="388.2" y="584.2" width="22.2" height="22.0" fill="#27897f" fill-opacity="0.94"/>
<rect x="377.5" y="580.0" width="17.0" height="16.2" fill="#fae527" fill-opacity="0.94"/>
<rect x="449.3" y="595.3" width="5.6" height="5.5" fill="#3c0a58" fill-opacity="0.94"/>
</g>
<rect shape-rendering="crispEdges" x="702.9" y="27.80" width="31.2" height="8.37" fill="#fde725"/>
<rect shape-rendering="crispEdges" x="702.9" y="35.57" width="31.2" height="8.37" fill="#f6e620"/>
<rect shape-rendering="crispEdges" x="702.9" y="43.34" width="31.2" height="8.37" fill="#efe51c"/>
<rect shape-rendering="crispEdges" x="702.9" y="51.10" width="31.2" height="8.37" fill="#e7e419"/>
<rect shape-rendering="crispEdges" x="702.9" y="58.87" width="31.2" height="8.37" fill="#dfe318"/>
<rect shape-rendering="crispEdges" x="702.9" y="66.64" width="31.2" height="8.37" fill="#d8e219"/>
<rect shape-rendering="crispEdges" x="702.9" y="74.41" width="31.2" height="8.37" fill="#d0e11c"/>
<rect shape-rendering="crispEdges" x="702.9" y="82.17" width="31.2" height="8.37" fill="#c8e020"/>
<rect shape-rendering="crispEdges" x="702.9" y="89.94" width="31.2" height="8.37" fill="#c0df25"/>
<rect shape-rendering="crispEdges" x="702.9" y="97.71" width="31.2" height="8.37" fill="#b8de29"/>
<rect shape-rendering="crispEdges" x="702.9" y="105.48" width="31.2" height="8.37" fill="#b0dd2f"/>
<rect shape-rendering="crispEdges" x="702.9" y="113.25" width="31.2" height="8.37" fill="#a8db34"/>
<rect shape-rendering="crispEdges" x="702.9" y="121.01" width="31.2" height="8.37" fill="#9dd93b"/>
<rect shape-rendering="crispEdges" x="702.9" y="128.78" width="31.2" height="8.37" fill="#95d840"/>
<rect shape-rendering="crispEdges" x="702.9" y="136.55" width="31.2" height="8.37" fill="#8ed645"/>
<rect shape-rendering="crispEdges" x="702.9" y="144.32" width="31.2" height="8.37" fill="#86d549"/>
<rect shape-rendering="crispEdges" x="702.9" y="152.09" width="31.2" height="8.37" fill="#7fd34e"/>
<rect shape-rendering="crispEdges" x="702.9" y="159.85" width="31.2" height="8.37" fill="#77d153"/>
<rect shape-rendering="crispEdges" x="702.9" y="167.62" width="31.2" height="8.37" fill="#70cf57"/>
<rect shape-rendering="crispEdges" x="702.9" y="175.39" width="31.2" height="8.37" fill="#69cd5b"/>
<rect shape-rendering="crispEdges" x="702.9" y="183.16" width="31.2" height="8.37" fill="#63cb5f"/>
<rect shape-rendering="crispEdges" x="702.9" y="190.93" width="31.2" height="8.37" fill="#5cc863"/>
<rect shape-rendering="crispEdges" x="702.9" y="198.69" width="31.2" height="8.37" fill="#56c667"/>
<rect shape-rendering="crispEdges" x="702.9" y="206.46" width="31.2" height="8.37" fill="#50c46a"/>
<rect shape-rendering="crispEdges" x="702.9" y="214.23" width="31.2" height="8.37" fill="#48c16e"/>
<rect shape-rendering="crispEdges" x="702.9" y="222.00" width="31.2" height="8.37" fill="#42be71"/>
<rect shape-rendering="crispEdges" x="702.9" y="229.76" width="31.2" height="8.37" fill="#3dbc74"/>
<rect shape-rendering="crispEdges" x="702.9" y="237.53" width="31.2" height="8.37" fill="#38b977"/>
<rect shape-rendering="crispEdges" x="702.9" y="245.30" width="31.2" height="8.37" fill="#34b679"/>
<rect shape-rendering="crispEdges" x="702.9" y="253.07" width="31.2" height="8.37" fill="#2fb47c"/>
<rect shape-rendering="crispEdges" x="702.9" y="260.84" width="31.2" height="8.37" fill="#2cb17e"/>
<rect shape-rendering="crispEdges" x="702.9" y="268.60" width="31.2" height="8.37" fill="#28ae80"/>
<rect shape-rendering="crispEdges" x="702.9" y="276.37" width="31.2" height="8.37" fill="#25ac82"/>
<rect shape-rendering="crispEdges" x="702.9" y="284.14" width="31.2" height="8.37" fill="#23a983"/>
<rect shape-rendering="crispEdges" x="702.9" y="291.91" width="31.2" height="8.37" fill="#21a685"/>
<rect shape-rendering="crispEdges" x="702.9" y="299.68" width="31.2" height="8.37" fill="#20a386"/>
<rect shape-rendering="crispEdges" x="702.9" y="307.44" width="31.2" height="8.37" fill="#1fa088"/>
<rect shape-rendering="crispEdges" x="702.9" y="315.21" width="31.2" height="8.37" fill="#1e9d89"/>
<rect shape-rendering="crispEdges" x="702.9" y="322.98" width="31.2" height="8.37" fill="#1f9a8a"/>
<rect shape-rendering="crispEdges" x="702.9" y="330.75" width="31.2" height="8.37" fill="#1f978b"/>
<rect shape-rendering="crispEdges" x="702.9" y="338.51" width="31.2" height="8.37" fill="#1f948c"/>
<rect shape-rendering="crispEdges" x="702.9" y="346.28" width="31.2" height="8.37" fill="#20928c"/>
<rect shape-rendering="crispEdges" x="702.9" y="354.05" width="31.2" height="8.37" fill="#218f8d"/>
<rect shape-rendering="crispEdges" x="702.9" y="361.82" width="31.2" height="8.37" fill="#228c8d"/>
<rect shape-rendering="crispEdges" x="702.9" y="369.59" width="31.2" height="8.37" fill="#23898e"/>
<rect shape-rendering="crispEdges" x="702.9" y="377.35" width="31.2" height="8.37" fill="#24868e"/>
<rect shape-rendering="crispEdges" x="702.9" y="385.12" width="31.2" height="8.37" fill="#25838e"/>
<rect shape-rendering="crispEdges" x="702.9" y="392.89" width="31.2" height="8.37" fill="#26818e"/>
<rect shape-rendering="crispEdges" x="702.9" y="400.66" width="31.2" height="8.37" fill="#287d8e"/>
<rect shape-rendering="crispEdges" x="702.9" y="408.43" width="31.2" height="8.37" fill="#297a8e"/>
<rect shape-rendering="crispEdges" x="702.9" y="416.19" width="31.2" height="8.37" fill="#2a778e"/>
<rect shape-rendering="crispEdges" x="702.9" y="423.96" width="31.2" height="8.37" fill="#2b748e"/>
<rect shape-rendering="crispEdges" x="702.9" y="431.73" width="31.2" height="8.37" fill="#2c718e"/>
<rect shape-rendering="crispEdges" x="702.9" y="439.50" width="31.2" height="8.37" fill="#2e6f8e"/>
<rect shape-rendering="crispEdges" x="702.9" y="447.26" width="31.2" height="8.37" fill="#2f6c8e"/>
<rect shape-rendering="crispEdges" x="702.9" y="455.03" width="31.2" height="8.37" fill="#30698e"/>
<rect shape-rendering="crispEdges" x="702.9" y="462.80" width="31.2" height="8.37" fill="#31668e"/>
<rect shape-rendering="crispEdges" x="702.9" y="470.57" width="31.2" height="8.37" fill="#33638d"/>
<rect shape-rendering="crispEdges" x="702.9" y="478.34" width="31.2" height="8.37" fill="#34608d"/>
<rect shape-rendering="crispEdges" x="702.9" y="486.10" width="31.2" height="8.37" fill="#365d8d"/>
<rect shape-rendering="crispEdges" x="702.9" y="493.87" width="31.2" height="8.37" fill="#38598c"/>
<rect shape-rendering="crispEdges" x="702.9" y="501.64" width="31.2" height="8.37" fill="#39558c"/>
<rect shape-rendering="crispEdges" x="702.9" y="509.41" width="31.2" height="8.37" fill="#3b528b"/>
<rect shape-rendering="crispEdges" x="702.9" y="517.17" width="31.2" height="8.37" fill="#3c4f8a"/>
<rect shape-rendering="crispEdges" x="702.9" y="524.94" width="31.2" height="8.37" fill="#3e4c8a"/>
<rect shape-rendering="crispEdges" x="702.9" y="532.71" width="31.2" height="8.37" fill="#3f4889"/>
<rect shape-rendering="crispEdges" x="702.9" y="540.48" width="31.2" height="8.37" fill="#404588"/>
<rect shape-rendering="crispEdges" x="702.9" y="548.25" width="31.2" height="8.37" fill="#424186"/>
<rect shape-rendering="crispEdges" x="702.9" y="556.01" width="31.2" height="8.37" fill="#433e85"/>
<rect shape-rendering="crispEdges" x="702.9" y="563.78" width="31.2" height="8.37" fill="#443a83"/>
<rect shape-rendering="crispEdges" x="702.9" y="571.55" width="31.2" height="8.37" fill="#453781"/>
<rect shape-rendering="crispEdges" x="702.9" y="579.32" width="31.2" height="8.37" fill="#46337f"/>
<rect shape-rendering="crispEdges" x="702.9" y="587.09" width="31.2" height="8.37" fill="#472e7c"/>
<rect shape-rendering="crispEdges" x="702.9" y="594.85" width="31.2" height="8.37" fill="#472a7a"/>
<rect shape-rendering="crispEdges" x="702.9" y="602.62" width="31.2" height="8.37" fill="#482677"/>
<rect shape-rendering="crispEdges" x="702.9" y="610.39" width="31.2" height="8.37" fill="#482374"/>
<rect shape-rendering="crispEdges" x="702.9" y="618.16" width="31.2" height="8.37" fill="#481f70"/>
<rect shape-rendering="crispEdges" x="702.9" y="625.92" width="31.2" height="8.37" fill="#481b6d"/>
<rect shape-rendering="crispEdges" x="702.9" y="633.69" width="31.2" height="8.37" fill="#481769"/>
<rect shape-rendering="crispEdges" x="702.9" y="641.46" width="31.2" height="8.37" fill="#471365"/>
<rect shape-rendering="crispEdges" x="702.9" y="649.23" width="31.2" height="8.37" fill="#470e61"/>
<rect shape-rendering="crispEdges" x="702.9" y="657.00" width="31.2" height="8.37" fill="#460a5d"/>
<rect shape-rendering="crispEdges" x="702.9" y="664.76" width="31.2" height="8.37" fill="#450559"/>
<rect shape-rendering="crispEdges" x="702.9" y="672.53" width="31.2" height="8.37" fill="#440154"/>
<rect x="702.9" y="27.8" width="31.2" height="652.5" fill="none" stroke="#111" stroke-width="0.8"/>
<g stroke="#ffffff" stroke-width="0.8">
<line x1="734" x2="738.5" y1="27.5" y2="27.5"/>
<line x1="734" x2="738.5" y1="100.0" y2="100.0"/>
<line x1="734" x2="738.5" y1="172.6" y2="172.6"/>
<line x1="734" x2="738.5" y1="245.1" y2="245.1"/>
<line x1="734" x2="738.5" y1="317.6" y2="317.6"/>
<line x1="734" x2="738.5" y1="390.1" y2="390.1"/>
<line x1="734" x2="738.5" y1="462.7" y2="462.7"/>
<line x1="734" x2="738.5" y1="535.2" y2="535.2"/>
<line x1="734" x2="738.5" y1="607.7" y2="607.7"/>
<line x1="734" x2="738.5" y1="680.3" y2="680.3"/>
</g>
<g font-family="'DejaVu Sans', 'Liberation Sans', sans-serif" font-weight="bold" font-size="15.3" fill="#ffffff">
<text x="742.5" y="33.8">100%</text>
<text x="742.5" y="106.3">90%</text>
<text x="742.5" y="178.9">80%</text>
<text x="742.5" y="251.4">70%</text>
<text x="742.5" y="323.9">60%</text>
<text x="742.5" y="396.4">50%</text>
<text x="742.5" y="469.0">40%</text>
<text x="742.5" y="541.5">30%</text>
<text x="742.5" y="614.0">20%</text>
<text x="742.5" y="686.6">10%</text>
</g>
<text transform="translate(801.7 354.5) rotate(-90)" text-anchor="middle" font-family="'DejaVu Sans', 'Liberation Sans', sans-serif" font-size="9.88" fill="#ffffff">Curtailed Fraction</text>
<text x="6.75" y="30.5" font-family="'DejaVu Sans', 'Liberation Sans', sans-serif" font-weight="bold" font-size="32.03" fill="#ffffff">ERCOT Curtailment: 2023-04-18 00:00</text>
<g font-family="'DejaVu Sans', 'Liberation Sans', sans-serif" font-size="34.97" fill="#ffffff"><text x="66" y="499.5">Solar Circles</text><text x="66" y="543.5">Wind Squares</text></g>
<g fill="none" stroke-linecap="round" stroke-linejoin="round">
<circle cx="492.3" cy="135.3" r="18.6" fill="#26363d" stroke="none"/>
<path d="M485.2 120.3 L489.7 119.2 L494.9 119.2 L500.1 120.7 L503.9 123.3 L506.5 127.1" stroke="#8e1c1a" stroke-width="3"/>
<path d="M475.5 137.9 L477.3 132.7 L481.1 128.2 L485.2 124.8 L489.7 122.6" stroke="#6d2a22" stroke-width="1.6" stroke-opacity="0.8"/>
<path d="M474.3 136.8 L475.5 133.8 L477.3 131.5 L479.9 128.6 L483.3 125.9 L487.4 123.5 L491.9 121.8 L496.4 121.5 L501.6 121.6" stroke="#f4cf1e" stroke-width="1.0"/>
<path d="M487.4 124.2 L491.9 122.6 L496.4 122.3 L501.6 122.6 L503.9 124.1" stroke="#e4501a" stroke-width="0.8"/>
<path d="M478.8 146.6 L483.7 148.0 L489.7 148.7 L494.9 148.0 L500.1 145.4 L504.6 141.6 L507.6 137.1 L509.1 132.7" stroke="#17a3bf" stroke-width="2.5"/>
<path d="M485.6 119.2 L486.3 122.2 L484.8 125.9" stroke="#1e8fb0" stroke-width="1.1"/>
<path d="M489.7 132.7 L494.9 130.4 L498.6 130.8 L503.9 131.9 L508.0 130.4" stroke="#4a4f52" stroke-width="3.2" stroke-opacity="0.9"/>
<path d="M508.5 129.8 L506.9 131.8 L503.9 132.5 L500.9 133.8 L498.6 135.1 L495.6 135.8 L493.0 135.5 L491.5 134.8" stroke="#dcdcdc" stroke-opacity="0.85" stroke-width="0.9"/>
<path d="M486.8 122.9 L485.3 127.6 L482.3 130.8 L480.3 133.0 L479.6 137.5 L476.2 143.1" stroke="#dcdcdc" stroke-opacity="0.85" stroke-width="0.9"/>
<path d="M492.1 133.6 L488.9 136.0 L485.2 138.6 L481.1 141.3" stroke="#c41a18" stroke-width="1.3"/>
<path d="M481.1 141.3 L478.5 143.1" stroke="#a8402c" stroke-width="0.8"/>
<path d="M498.3 147.5 L496.4 149.9 L494.1 153.0" stroke="#e8e8e8" stroke-width="0.9"/>
<path d="M485.6 130.4 L483.3 135.7" stroke="#2e62b0" stroke-width="0.6"/>
<circle cx="492.3" cy="135.3" r="19.8" stroke="#cdcdcd" stroke-width="3.7"/>
<circle cx="492.3" cy="135.3" r="19.7" stroke="#a4a6a8" stroke-width="0.7"/>
</g>
<text x="514.4" y="145.7" font-family="'Liberation Sans', sans-serif" font-size="30.6" font-weight="bold" fill="#e6e6e6" textLength="61" lengthAdjust="spacingAndGlyphs">Grid</text>
<text x="575.6" y="145.7" font-family="'Liberation Sans', sans-serif" font-size="30.6" fill="#e6e6e6" stroke="#222222" stroke-width="0.55" textLength="80.2" lengthAdjust="spacingAndGlyphs">Status</text>
</svg>
</body></html>
